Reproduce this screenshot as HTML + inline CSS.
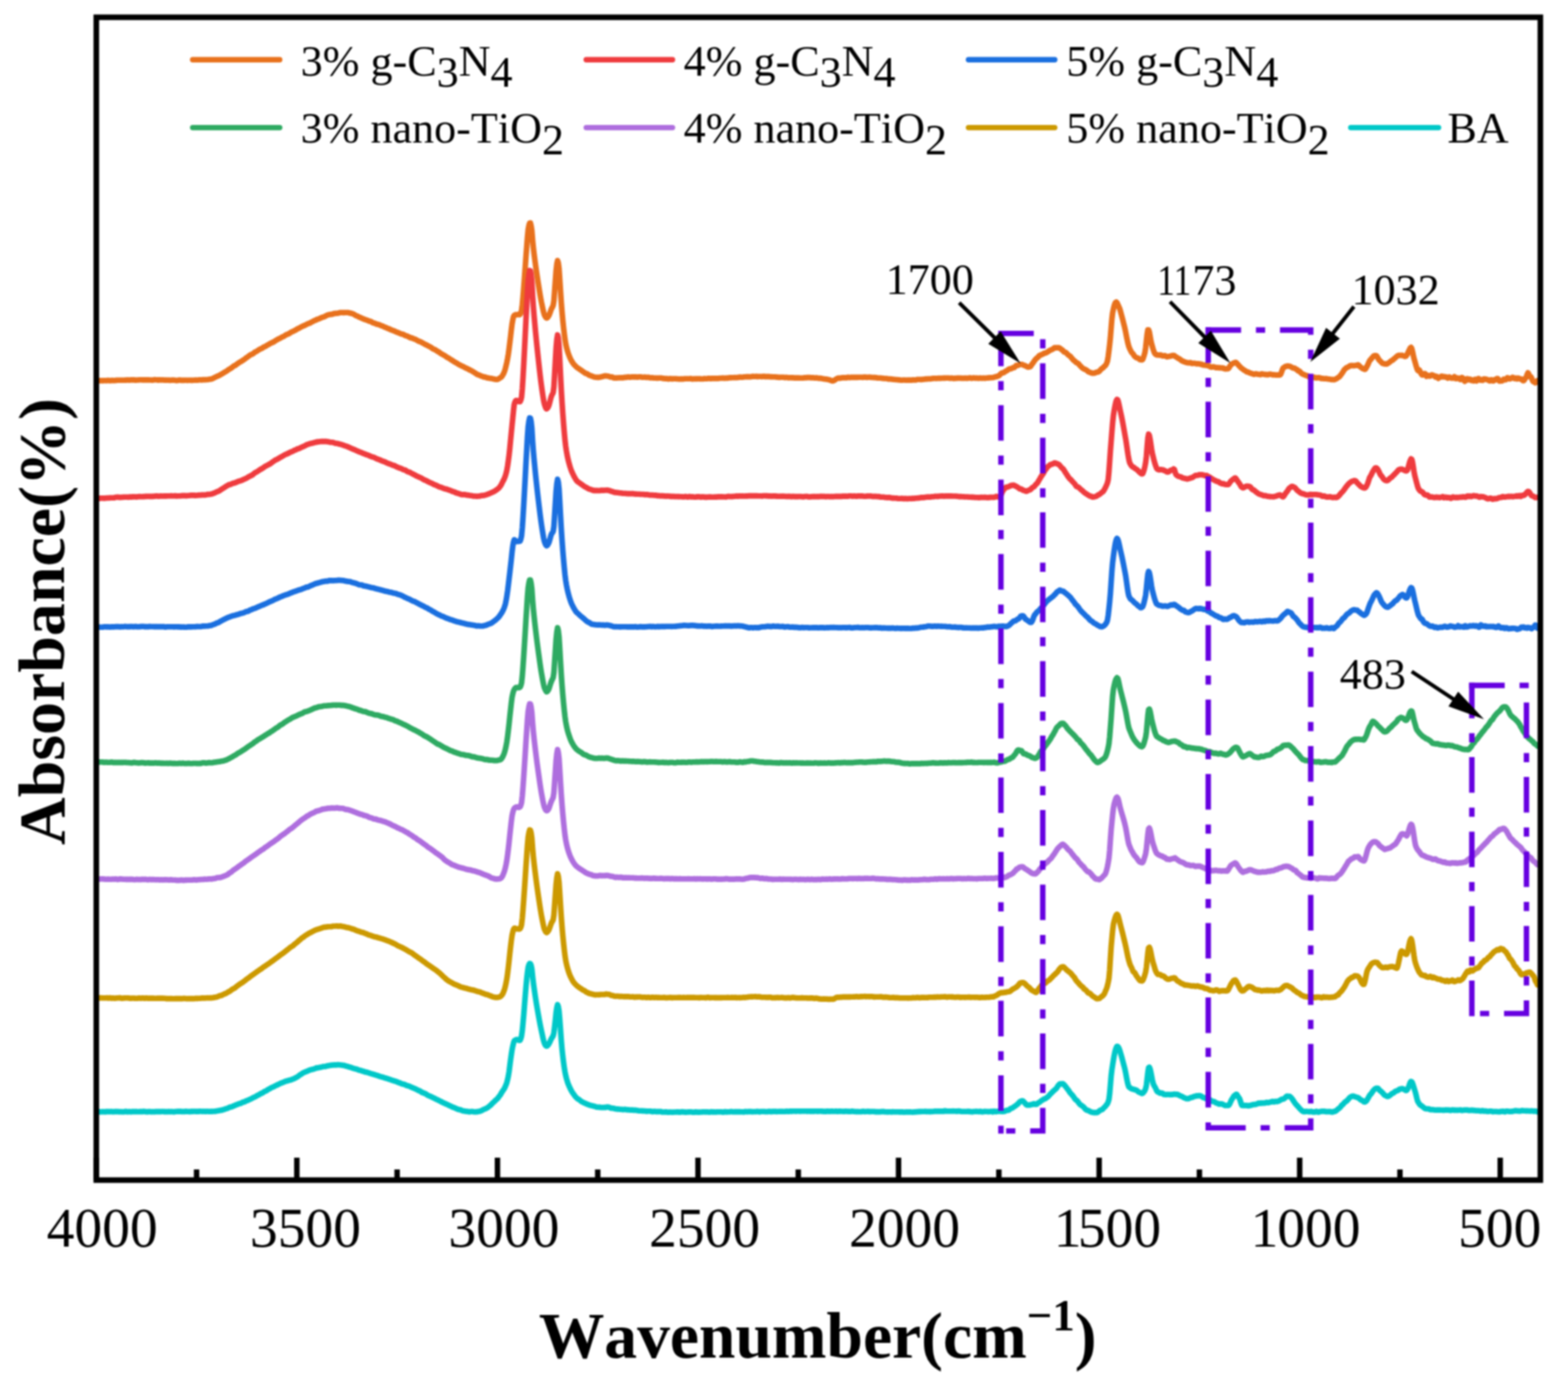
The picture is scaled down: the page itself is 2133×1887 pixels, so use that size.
<!DOCTYPE html>
<html lang="en"><head><meta charset="utf-8"><title>FTIR absorbance spectra</title>
<style>html,body{margin:0;padding:0;background:#fff;}body{width:2133px;height:1887px;overflow:hidden;}svg{display:block;}text{font-family:"Liberation Serif","Times New Roman",serif;fill:#000;font-kerning:none;font-variant-ligatures:none;white-space:pre;}.b{font-weight:bold;}</style></head><body>
<svg xmlns="http://www.w3.org/2000/svg" width="2133" height="1887" viewBox="0 0 2133 1887">
<rect x="0" y="0" width="2133" height="1887" fill="#ffffff"/>
<defs><filter id="soft" x="0" y="0" width="2133" height="1887" filterUnits="userSpaceOnUse" color-interpolation-filters="sRGB"><feGaussianBlur stdDeviation="0.80"/></filter></defs>
<g filter="url(#soft)">
<rect x="0" y="0" width="2133" height="1887" fill="#ffffff"/>
<defs><clipPath id="plot"><rect x="131.0" y="23.5" width="1964.4" height="1582.0"/></clipPath></defs>
<g clip-path="url(#plot)" fill="none" stroke-width="7.6" stroke-linejoin="round" stroke-linecap="round">
<path d="M131.0 518.2 L134.5 517.9 L135.5 517.8 L136.5 517.9 L137.5 518.0 L138.5 517.9 L139.5 518.0 L140.5 517.9 L141.5 517.7 L142.5 517.7 L143.5 517.8 L144.5 517.9 L145.5 517.8 L146.5 517.5 L147.5 517.5 L148.5 517.8 L149.5 517.9 L150.5 517.7 L151.5 517.6 L152.5 517.6 L153.5 517.6 L154.5 517.7 L155.5 517.7 L156.5 517.6 L157.5 517.5 L158.5 517.4 L159.5 517.3 L160.5 517.2 L161.5 517.2 L162.5 517.2 L163.5 517.2 L164.5 517.2 L165.5 517.2 L166.5 517.2 L167.5 517.2 L168.5 517.3 L169.5 517.2 L170.5 517.1 L171.5 517.1 L172.5 517.1 L173.5 516.9 L174.5 517.0 L175.5 517.1 L176.5 517.1 L177.5 516.9 L178.5 517.0 L179.5 516.9 L180.5 516.7 L181.5 516.7 L182.5 517.0 L183.5 517.1 L184.5 517.1 L185.5 517.1 L186.5 517.0 L187.5 517.0 L188.5 517.0 L189.5 516.8 L190.5 516.8 L191.5 516.8 L192.5 516.8 L193.5 516.9 L194.5 516.8 L195.5 516.9 L196.5 517.0 L197.5 516.8 L198.5 516.8 L199.5 516.9 L200.5 516.8 L201.5 516.7 L202.5 516.9 L203.5 517.0 L204.5 517.0 L205.5 517.0 L206.5 517.1 L207.5 517.1 L208.5 517.0 L209.5 516.8 L210.5 516.6 L211.5 516.7 L212.5 516.8 L213.5 516.8 L214.5 517.0 L215.5 517.2 L216.5 516.9 L217.5 516.8 L218.5 516.9 L219.5 517.0 L220.5 517.0 L221.5 516.9 L222.5 517.0 L223.5 517.1 L224.5 517.2 L225.5 517.1 L226.5 517.1 L227.5 517.2 L228.5 517.2 L229.5 517.1 L230.5 517.2 L231.5 517.4 L232.5 517.3 L233.5 517.2 L234.5 517.0 L235.5 517.1 L236.5 517.3 L237.5 517.3 L238.5 517.4 L239.5 517.6 L240.5 517.7 L241.5 517.5 L242.5 517.4 L243.5 517.1 L244.5 517.0 L245.5 517.3 L246.5 517.4 L247.5 517.4 L248.5 517.4 L249.5 517.4 L250.5 517.4 L251.5 517.3 L252.5 517.2 L253.5 517.3 L254.5 517.5 L255.5 517.5 L256.5 517.3 L257.5 517.2 L258.5 517.3 L259.5 517.4 L260.5 517.5 L261.5 517.4 L262.5 517.2 L263.5 517.3 L264.5 517.2 L265.5 517.1 L266.5 517.1 L267.5 517.3 L268.5 517.3 L269.5 517.1 L270.5 516.9 L271.5 516.8 L272.5 516.8 L273.5 516.9 L274.5 516.9 L275.5 516.7 L276.5 516.5 L277.5 516.6 L278.5 516.7 L279.5 516.6 L280.5 516.5 L281.5 516.5 L282.5 516.5 L283.5 516.3 L284.5 516.1 L285.5 515.9 L286.5 515.7 L287.5 515.6 L288.5 515.4 L289.5 514.9 L290.5 514.3 L291.5 513.8 L292.5 513.4 L293.5 512.9 L294.5 512.4 L295.5 511.9 L296.5 511.5 L297.5 511.2 L298.5 510.7 L299.5 510.1 L300.5 509.4 L301.5 508.9 L302.5 508.3 L303.5 507.7 L304.5 507.1 L305.5 506.4 L306.5 505.8 L307.5 505.3 L308.5 504.7 L309.5 504.0 L310.5 503.2 L311.5 502.5 L312.5 501.9 L313.5 501.4 L314.5 500.8 L315.5 500.0 L316.5 499.2 L317.5 498.4 L318.5 497.7 L319.5 497.4 L320.5 496.8 L321.5 496.0 L322.5 495.2 L323.5 494.6 L324.5 493.8 L325.5 493.1 L326.5 492.6 L327.5 492.0 L328.5 491.4 L329.5 490.8 L330.5 490.1 L331.5 489.4 L332.5 488.9 L333.5 488.1 L334.5 487.1 L335.5 486.5 L336.5 485.9 L337.5 485.1 L338.5 484.3 L339.5 483.6 L340.5 482.9 L341.5 482.4 L342.5 482.0 L343.5 481.6 L344.5 481.0 L345.5 480.1 L346.5 479.2 L347.5 478.7 L348.5 478.3 L349.5 477.7 L350.5 477.0 L351.5 476.3 L352.5 475.7 L353.5 475.1 L354.5 474.6 L355.5 474.2 L356.5 473.8 L357.5 473.1 L358.5 472.3 L359.5 471.9 L360.5 471.5 L361.5 470.9 L362.5 470.3 L363.5 469.7 L364.5 469.2 L365.5 468.7 L366.5 467.9 L367.5 467.4 L368.5 466.9 L369.5 466.4 L370.5 466.0 L371.5 465.5 L372.5 465.0 L373.5 464.4 L374.5 463.7 L375.5 463.0 L376.5 462.4 L377.5 461.8 L378.5 461.4 L379.5 460.9 L380.5 460.3 L381.5 459.8 L382.5 459.3 L383.5 458.7 L384.5 458.2 L385.5 457.9 L386.5 457.4 L387.5 456.6 L388.5 455.9 L389.5 455.4 L390.5 455.0 L391.5 454.6 L392.5 454.1 L393.5 453.7 L394.5 453.1 L395.5 452.3 L396.5 451.7 L397.5 451.3 L398.5 450.8 L399.5 450.3 L400.5 449.8 L401.5 449.4 L402.5 448.9 L403.5 448.2 L404.5 447.4 L405.5 446.9 L406.5 446.7 L407.5 446.1 L408.5 445.5 L409.5 444.9 L410.5 444.4 L411.5 443.9 L412.5 443.5 L413.5 443.0 L414.5 442.6 L415.5 442.2 L416.5 441.7 L417.5 441.2 L418.5 440.7 L419.5 440.2 L420.5 439.8 L421.5 439.5 L422.5 439.0 L423.5 438.4 L424.5 437.9 L425.5 437.4 L426.5 436.9 L427.5 436.2 L428.5 435.8 L429.5 435.5 L430.5 435.0 L431.5 434.5 L432.5 434.2 L433.5 433.9 L434.5 433.5 L435.5 432.9 L436.5 432.5 L437.5 432.2 L438.5 431.7 L439.5 431.4 L440.5 431.1 L441.5 430.7 L442.5 430.1 L443.5 429.7 L444.5 429.2 L445.5 428.7 L446.5 428.4 L447.5 428.1 L448.5 427.9 L449.5 427.7 L450.5 427.6 L451.5 427.6 L452.5 427.3 L453.5 426.8 L454.5 426.6 L455.5 426.5 L456.5 426.4 L457.5 426.3 L458.5 426.2 L459.5 426.1 L460.5 425.9 L461.5 425.6 L462.5 425.2 L463.5 425.2 L464.5 425.2 L465.5 425.2 L466.5 425.2 L467.5 425.4 L468.5 425.3 L469.5 425.3 L470.5 425.3 L471.5 425.3 L472.5 425.2 L473.5 425.3 L474.5 425.5 L475.5 425.9 L476.5 426.2 L477.5 426.1 L478.5 426.4 L479.5 426.9 L480.5 427.2 L481.5 427.7 L482.5 428.3 L483.5 428.9 L484.5 429.5 L485.5 429.9 L486.5 430.2 L487.5 430.8 L488.5 431.4 L489.5 431.7 L490.5 432.1 L491.5 432.7 L492.5 433.2 L493.5 433.5 L494.5 433.8 L495.5 434.4 L496.5 434.8 L497.5 435.0 L498.5 435.4 L499.5 435.7 L500.5 436.1 L501.5 436.6 L502.5 437.0 L503.5 437.1 L504.5 437.4 L505.5 438.1 L506.5 438.7 L507.5 439.1 L508.5 439.5 L509.5 439.7 L510.5 440.1 L511.5 440.6 L512.5 441.1 L513.5 441.3 L514.5 441.4 L515.5 441.7 L516.5 442.1 L517.5 442.5 L518.5 443.1 L519.5 443.4 L520.5 443.7 L521.5 444.2 L522.5 444.7 L523.5 445.1 L524.5 445.4 L525.5 445.8 L526.5 446.3 L527.5 446.8 L528.5 447.2 L529.5 447.5 L530.5 448.0 L531.5 448.5 L532.5 448.9 L533.5 449.3 L534.5 449.6 L535.5 450.0 L536.5 450.4 L537.5 450.8 L538.5 451.3 L539.5 451.8 L540.5 452.2 L541.5 452.5 L542.5 452.8 L543.5 453.3 L544.5 453.8 L545.5 454.2 L546.5 454.4 L547.5 454.7 L548.5 455.0 L549.5 455.4 L550.5 456.1 L551.5 456.6 L552.5 456.8 L553.5 457.1 L554.5 457.5 L555.5 458.1 L556.5 458.5 L557.5 459.0 L558.5 459.5 L559.5 459.8 L560.5 459.9 L561.5 460.3 L562.5 460.8 L563.5 461.1 L564.5 461.5 L565.5 461.9 L566.5 462.5 L567.5 463.1 L568.5 463.6 L569.5 464.2 L570.5 464.6 L571.5 464.8 L572.5 465.2 L573.5 465.9 L574.5 466.3 L575.5 466.8 L576.5 467.5 L577.5 468.1 L578.5 468.6 L579.5 469.0 L580.5 469.5 L581.5 470.1 L582.5 470.7 L583.5 471.2 L584.5 471.7 L585.5 472.2 L586.5 472.7 L587.5 473.5 L588.5 474.3 L589.5 474.8 L590.5 475.2 L591.5 475.6 L592.5 476.2 L593.5 476.8 L594.5 477.6 L595.5 478.2 L596.5 478.6 L597.5 479.2 L598.5 480.0 L599.5 480.9 L600.5 481.4 L601.5 481.9 L602.5 482.5 L603.5 483.1 L604.5 483.6 L605.5 484.1 L606.5 484.9 L607.5 485.8 L608.5 486.3 L609.5 486.7 L610.5 487.3 L611.5 488.0 L612.5 488.7 L613.5 489.3 L614.5 490.0 L615.5 490.5 L616.5 491.2 L617.5 491.9 L618.5 492.5 L619.5 493.1 L620.5 493.6 L621.5 494.1 L622.5 494.8 L623.5 495.5 L624.5 496.1 L625.5 496.6 L626.5 497.0 L627.5 497.6 L628.5 498.1 L629.5 498.4 L630.5 498.9 L631.5 499.5 L632.5 500.1 L633.5 500.6 L634.5 501.0 L635.5 501.4 L636.5 501.9 L637.5 502.5 L638.5 503.0 L639.5 503.5 L640.5 503.8 L641.5 504.5 L642.5 505.2 L643.5 505.7 L644.5 506.3 L645.5 506.9 L646.5 507.5 L647.5 508.3 L648.5 509.0 L649.5 509.5 L650.5 509.9 L651.5 510.1 L652.5 510.6 L653.5 511.1 L654.5 511.5 L655.5 511.9 L656.5 512.2 L657.5 512.7 L658.5 512.9 L659.5 512.9 L660.5 513.2 L661.5 513.7 L662.5 514.0 L663.5 514.1 L664.5 514.3 L665.5 514.5 L666.5 514.7 L667.5 514.8 L668.5 514.9 L669.5 515.1 L670.5 515.4 L671.5 515.6 L672.5 515.7 L673.5 516.0 L674.5 516.2 L675.5 516.2 L676.5 516.2 L677.5 515.8 L678.5 515.4 L679.5 514.6 L680.5 513.9 L681.5 513.4 L682.5 512.5 L683.5 511.0 L684.5 509.2 L685.5 507.2 L686.5 504.6 L687.5 501.2 L688.5 497.1 L689.5 492.8 L690.5 487.7 L691.5 481.8 L692.5 474.6 L693.5 466.3 L694.5 458.1 L695.5 449.3 L696.5 441.2 L697.5 435.5 L698.5 430.9 L699.5 429.2 L700.5 428.5 L701.5 428.1 L702.5 428.2 L703.5 428.2 L704.5 427.9 L705.5 427.8 L706.5 428.1 L707.5 427.8 L708.5 425.6 L709.5 422.5 L710.5 414.4 L711.5 403.3 L712.5 390.8 L713.5 377.3 L714.5 363.4 L715.5 349.1 L716.5 335.9 L717.5 322.7 L718.5 312.3 L719.5 306.9 L720.5 303.5 L721.5 303.4 L722.5 307.2 L723.5 313.9 L724.5 326.5 L725.5 336.7 L726.5 345.2 L727.5 353.0 L728.5 360.5 L729.5 367.6 L730.5 374.4 L731.5 381.0 L732.5 387.4 L733.5 393.7 L734.5 399.8 L735.5 405.6 L736.5 411.0 L737.5 415.8 L738.5 420.5 L739.5 424.8 L740.5 428.2 L741.5 430.2 L742.5 431.9 L743.5 432.6 L744.5 432.3 L745.5 431.1 L746.5 429.6 L747.5 427.5 L748.5 424.9 L749.5 421.9 L750.5 419.4 L751.5 417.8 L752.5 415.4 L753.5 409.0 L754.5 395.2 L755.5 381.5 L756.5 367.9 L757.5 359.1 L758.5 354.5 L759.5 357.8 L760.5 365.6 L761.5 380.2 L762.5 396.0 L763.5 410.7 L764.5 423.5 L765.5 434.8 L766.5 444.6 L767.5 453.3 L768.5 461.2 L769.5 467.4 L770.5 472.0 L771.5 475.9 L772.5 479.2 L773.5 482.0 L774.5 484.6 L775.5 487.0 L776.5 489.2 L777.5 491.1 L778.5 492.7 L779.5 494.2 L780.5 495.5 L781.5 496.6 L782.5 497.5 L783.5 498.6 L784.5 499.6 L785.5 500.3 L786.5 501.0 L787.5 501.7 L788.5 502.4 L789.5 503.1 L790.5 503.7 L791.5 504.4 L792.5 505.2 L793.5 505.8 L794.5 506.5 L795.5 507.3 L796.5 507.9 L797.5 508.2 L798.5 508.5 L799.5 509.1 L800.5 509.8 L801.5 510.4 L802.5 510.8 L803.5 511.1 L804.5 511.5 L805.5 511.8 L806.5 512.2 L807.5 512.6 L808.5 512.9 L809.5 513.1 L810.5 513.2 L811.5 513.3 L812.5 513.4 L813.5 513.4 L814.5 513.4 L815.5 513.3 L816.5 513.1 L817.5 512.8 L818.5 512.6 L819.5 512.3 L820.5 512.0 L821.5 511.8 L822.5 511.5 L823.5 511.4 L824.5 511.5 L825.5 511.6 L826.5 511.7 L827.5 511.8 L828.5 512.1 L829.5 512.6 L830.5 513.0 L831.5 513.0 L832.5 512.9 L833.5 513.3 L834.5 513.9 L835.5 514.3 L836.5 514.2 L837.5 514.1 L838.5 514.2 L839.5 514.1 L840.5 514.0 L841.5 514.0 L842.5 513.9 L843.5 514.0 L844.5 514.0 L845.5 513.8 L846.5 513.8 L847.5 513.9 L848.5 513.7 L849.5 513.4 L850.5 513.4 L851.5 513.4 L852.5 513.2 L853.5 513.0 L854.5 512.9 L855.5 513.0 L856.5 513.2 L857.5 513.1 L858.5 513.0 L859.5 512.9 L860.5 512.8 L861.5 512.7 L862.5 513.0 L863.5 512.9 L864.5 512.8 L865.5 512.9 L866.5 513.1 L867.5 513.0 L868.5 512.9 L869.5 512.8 L870.5 512.7 L871.5 512.8 L872.5 513.0 L873.5 513.2 L874.5 513.2 L875.5 513.2 L876.5 513.1 L877.5 513.1 L878.5 513.2 L879.5 513.4 L880.5 513.5 L881.5 513.4 L882.5 513.4 L883.5 513.7 L884.5 513.9 L885.5 514.0 L886.5 514.0 L887.5 513.9 L888.5 514.2 L889.5 514.3 L890.5 514.2 L891.5 514.2 L892.5 514.3 L893.5 514.5 L894.5 514.5 L895.5 514.3 L896.5 514.3 L897.5 514.3 L898.5 514.2 L899.5 514.3 L900.5 514.5 L901.5 514.7 L902.5 514.9 L903.5 514.9 L904.5 515.2 L905.5 515.3 L906.5 515.1 L907.5 515.1 L908.5 515.5 L909.5 515.6 L910.5 515.3 L911.5 515.1 L912.5 515.2 L913.5 515.4 L914.5 515.4 L915.5 515.4 L916.5 515.3 L917.5 515.3 L918.5 515.2 L919.5 515.2 L920.5 515.5 L921.5 515.5 L922.5 515.5 L923.5 515.7 L924.5 515.7 L925.5 515.6 L926.5 515.6 L927.5 515.6 L928.5 515.6 L929.5 515.6 L930.5 515.4 L931.5 515.2 L932.5 515.2 L933.5 515.2 L934.5 515.2 L935.5 515.3 L936.5 515.2 L937.5 515.3 L938.5 515.3 L939.5 515.1 L940.5 515.3 L941.5 515.6 L942.5 515.6 L943.5 515.4 L944.5 515.5 L945.5 515.5 L946.5 515.3 L947.5 515.2 L948.5 515.4 L949.5 515.3 L950.5 515.3 L951.5 515.4 L952.5 515.4 L953.5 515.5 L954.5 515.5 L955.5 515.5 L956.5 515.5 L957.5 515.3 L958.5 515.1 L959.5 515.2 L960.5 515.2 L961.5 515.2 L962.5 515.0 L963.5 514.8 L964.5 514.8 L965.5 514.9 L966.5 515.2 L967.5 515.0 L968.5 514.7 L969.5 514.7 L970.5 514.9 L971.5 514.9 L972.5 514.9 L973.5 514.7 L974.5 514.7 L975.5 514.9 L976.5 514.9 L977.5 514.7 L978.5 514.6 L979.5 514.5 L980.5 514.5 L981.5 514.5 L982.5 514.4 L983.5 514.3 L984.5 514.4 L985.5 514.6 L986.5 514.5 L987.5 514.4 L988.5 514.4 L989.5 514.4 L990.5 514.2 L991.5 514.0 L992.5 513.9 L993.5 513.9 L994.5 513.9 L995.5 513.8 L996.5 513.7 L997.5 513.8 L998.5 513.7 L999.5 513.6 L1000.5 513.7 L1001.5 513.7 L1002.5 513.6 L1003.5 513.5 L1004.5 513.4 L1005.5 513.2 L1006.5 513.0 L1007.5 513.1 L1008.5 513.2 L1009.5 513.2 L1010.5 513.1 L1011.5 512.9 L1012.5 512.7 L1013.5 512.8 L1014.5 512.7 L1015.5 512.6 L1016.5 512.6 L1017.5 512.6 L1018.5 512.6 L1019.5 512.7 L1020.5 512.8 L1021.5 512.6 L1022.5 512.4 L1023.5 512.3 L1024.5 512.1 L1025.5 512.2 L1026.5 512.2 L1027.5 512.2 L1028.5 512.1 L1029.5 512.3 L1030.5 512.5 L1031.5 512.3 L1032.5 512.3 L1033.5 512.3 L1034.5 512.2 L1035.5 512.2 L1036.5 512.4 L1037.5 512.3 L1038.5 512.0 L1039.5 512.1 L1040.5 512.5 L1041.5 512.4 L1042.5 512.2 L1043.5 512.3 L1044.5 512.5 L1045.5 512.4 L1046.5 512.4 L1047.5 512.7 L1048.5 512.7 L1049.5 512.6 L1050.5 512.7 L1051.5 512.7 L1052.5 512.7 L1053.5 512.7 L1054.5 512.7 L1055.5 512.9 L1056.5 513.1 L1057.5 513.1 L1058.5 513.3 L1059.5 513.4 L1060.5 513.4 L1061.5 513.3 L1062.5 513.3 L1063.5 513.3 L1064.5 513.2 L1065.5 513.3 L1066.5 513.4 L1067.5 513.6 L1068.5 513.6 L1069.5 513.4 L1070.5 513.6 L1071.5 513.8 L1072.5 513.9 L1073.5 513.9 L1074.5 513.8 L1075.5 513.8 L1076.5 513.9 L1077.5 513.8 L1078.5 513.8 L1079.5 514.0 L1080.5 514.1 L1081.5 514.1 L1082.5 514.1 L1083.5 514.1 L1084.5 514.2 L1085.5 514.1 L1086.5 514.1 L1087.5 514.2 L1088.5 514.2 L1089.5 514.2 L1090.5 514.3 L1091.5 514.3 L1092.5 514.2 L1093.5 514.0 L1094.5 513.9 L1095.5 513.9 L1096.5 514.0 L1097.5 513.8 L1098.5 513.6 L1099.5 513.6 L1100.5 513.7 L1101.5 513.6 L1102.5 513.7 L1103.5 513.9 L1104.5 513.9 L1105.5 513.8 L1106.5 513.9 L1107.5 514.1 L1108.5 514.2 L1109.5 514.1 L1110.5 514.0 L1111.5 514.1 L1112.5 514.4 L1113.5 514.6 L1114.5 514.6 L1115.5 514.6 L1116.5 514.6 L1117.5 514.9 L1118.5 515.1 L1119.5 515.2 L1120.5 515.4 L1121.5 515.7 L1122.5 515.8 L1123.5 515.9 L1124.5 515.9 L1125.5 516.1 L1126.5 516.4 L1127.5 516.6 L1128.5 516.9 L1129.5 517.3 L1130.5 517.7 L1131.5 518.0 L1132.5 518.2 L1133.5 518.2 L1134.5 517.7 L1135.5 517.1 L1136.5 516.4 L1137.5 515.6 L1138.5 515.1 L1139.5 514.6 L1140.5 514.3 L1141.5 514.5 L1142.5 514.6 L1143.5 514.3 L1144.5 514.1 L1145.5 514.0 L1146.5 513.8 L1147.5 513.9 L1148.5 514.0 L1149.5 513.9 L1150.5 514.0 L1151.5 514.0 L1152.5 513.5 L1153.5 513.3 L1154.5 513.5 L1155.5 513.6 L1156.5 513.6 L1157.5 513.3 L1158.5 513.2 L1159.5 513.4 L1160.5 513.5 L1161.5 513.3 L1162.5 513.3 L1163.5 513.4 L1164.5 513.3 L1165.5 513.2 L1166.5 513.4 L1167.5 513.3 L1168.5 513.2 L1169.5 513.2 L1170.5 513.3 L1171.5 513.2 L1172.5 513.3 L1173.5 513.4 L1174.5 513.3 L1175.5 513.0 L1176.5 513.0 L1177.5 513.1 L1178.5 513.2 L1179.5 513.4 L1180.5 513.3 L1181.5 513.2 L1182.5 513.1 L1183.5 513.2 L1184.5 513.3 L1185.5 513.5 L1186.5 513.5 L1187.5 513.5 L1188.5 513.6 L1189.5 513.5 L1190.5 513.6 L1191.5 513.7 L1192.5 514.0 L1193.5 514.1 L1194.5 514.2 L1195.5 514.2 L1196.5 514.2 L1197.5 514.3 L1198.5 514.4 L1199.5 514.6 L1200.5 514.6 L1201.5 514.7 L1202.5 514.9 L1203.5 515.0 L1204.5 515.0 L1205.5 515.0 L1206.5 515.1 L1207.5 515.2 L1208.5 515.6 L1209.5 515.6 L1210.5 515.5 L1211.5 515.6 L1212.5 515.9 L1213.5 515.9 L1214.5 516.0 L1215.5 516.3 L1216.5 516.3 L1217.5 516.4 L1218.5 516.5 L1219.5 516.5 L1220.5 516.6 L1221.5 516.8 L1222.5 516.9 L1223.5 516.9 L1224.5 517.0 L1225.5 517.2 L1226.5 517.3 L1227.5 517.2 L1228.5 517.0 L1229.5 517.0 L1230.5 517.0 L1231.5 517.1 L1232.5 517.2 L1233.5 517.2 L1234.5 517.1 L1235.5 517.1 L1236.5 517.1 L1237.5 517.1 L1238.5 517.1 L1239.5 517.3 L1240.5 517.2 L1241.5 516.9 L1242.5 516.9 L1243.5 517.0 L1244.5 517.0 L1245.5 516.9 L1246.5 516.7 L1247.5 516.4 L1248.5 516.3 L1249.5 516.2 L1250.5 516.2 L1251.5 516.3 L1252.5 516.4 L1253.5 516.4 L1254.5 516.3 L1255.5 516.1 L1256.5 516.0 L1257.5 516.0 L1258.5 515.8 L1259.5 515.5 L1260.5 515.6 L1261.5 515.6 L1262.5 515.4 L1263.5 515.5 L1264.5 515.5 L1265.5 515.4 L1266.5 515.2 L1267.5 515.1 L1268.5 514.9 L1269.5 514.9 L1270.5 514.8 L1271.5 514.8 L1272.5 514.8 L1273.5 514.9 L1274.5 514.8 L1275.5 514.7 L1276.5 514.6 L1277.5 514.6 L1278.5 514.7 L1279.5 514.6 L1280.5 514.5 L1281.5 514.5 L1282.5 514.5 L1283.5 514.4 L1284.5 514.4 L1285.5 514.4 L1286.5 514.3 L1287.5 514.2 L1288.5 514.3 L1289.5 514.3 L1290.5 514.3 L1291.5 514.5 L1292.5 514.6 L1293.5 514.5 L1294.5 514.4 L1295.5 514.5 L1296.5 514.8 L1297.5 514.9 L1298.5 514.7 L1299.5 514.5 L1300.5 514.5 L1301.5 514.6 L1302.5 514.4 L1303.5 514.3 L1304.5 514.5 L1305.5 514.5 L1306.5 514.4 L1307.5 514.5 L1308.5 514.6 L1309.5 514.5 L1310.5 514.5 L1311.5 514.6 L1312.5 514.5 L1313.5 514.4 L1314.5 514.6 L1315.5 514.6 L1316.5 514.5 L1317.5 514.4 L1318.5 514.3 L1319.5 514.1 L1320.5 514.3 L1321.5 514.6 L1322.5 514.5 L1323.5 514.3 L1324.5 514.1 L1325.5 514.2 L1326.5 514.4 L1327.5 514.5 L1328.5 514.3 L1329.5 514.4 L1330.5 514.6 L1331.5 514.6 L1332.5 514.3 L1333.5 514.2 L1334.5 514.4 L1335.5 514.6 L1336.5 514.5 L1337.5 514.4 L1338.5 514.4 L1339.5 514.6 L1340.5 514.5 L1341.5 514.3 L1342.5 514.3 L1343.5 514.3 L1344.5 514.0 L1345.5 513.9 L1346.5 514.0 L1347.5 513.9 L1348.5 513.8 L1349.5 513.8 L1350.5 513.8 L1351.5 513.4 L1352.5 513.1 L1353.5 512.7 L1354.5 512.5 L1355.5 512.4 L1356.5 512.0 L1357.5 511.7 L1358.5 511.4 L1359.5 510.6 L1360.5 509.5 L1361.5 508.4 L1362.5 507.6 L1363.5 507.3 L1364.5 507.2 L1365.5 506.8 L1366.5 506.1 L1367.5 505.4 L1368.5 504.9 L1369.5 504.3 L1370.5 503.7 L1371.5 502.9 L1372.5 502.2 L1373.5 501.8 L1374.5 501.8 L1375.5 501.7 L1376.5 501.0 L1377.5 500.4 L1378.5 500.3 L1379.5 500.1 L1380.5 499.4 L1381.5 498.2 L1382.5 497.2 L1383.5 497.0 L1384.5 497.1 L1385.5 496.8 L1386.5 496.2 L1387.5 495.8 L1388.5 495.7 L1389.5 495.8 L1390.5 495.9 L1391.5 496.4 L1392.5 496.9 L1393.5 497.2 L1394.5 497.5 L1395.5 498.2 L1396.5 498.7 L1397.5 499.0 L1398.5 499.4 L1399.5 499.3 L1400.5 499.2 L1401.5 498.9 L1402.5 497.6 L1403.5 496.0 L1404.5 494.8 L1405.5 493.4 L1406.5 491.9 L1407.5 490.4 L1408.5 489.1 L1409.5 488.0 L1410.5 487.1 L1411.5 486.5 L1412.5 485.4 L1413.5 484.1 L1414.5 483.5 L1415.5 483.1 L1416.5 482.6 L1417.5 482.2 L1418.5 481.8 L1419.5 481.2 L1420.5 480.6 L1421.5 480.4 L1422.5 480.1 L1423.5 479.6 L1424.5 479.2 L1425.5 478.5 L1426.5 477.7 L1427.5 477.1 L1428.5 476.7 L1429.5 476.2 L1430.5 475.7 L1431.5 475.3 L1432.5 474.7 L1433.5 473.7 L1434.5 473.1 L1435.5 473.0 L1436.5 473.1 L1437.5 473.1 L1438.5 473.1 L1439.5 473.0 L1440.5 473.1 L1441.5 473.6 L1442.5 474.2 L1443.5 475.1 L1444.5 476.0 L1445.5 476.5 L1446.5 477.6 L1447.5 478.8 L1448.5 479.1 L1449.5 479.4 L1450.5 480.1 L1451.5 481.1 L1452.5 482.3 L1453.5 483.1 L1454.5 483.8 L1455.5 484.5 L1456.5 485.3 L1457.5 486.8 L1458.5 487.9 L1459.5 489.0 L1460.5 490.2 L1461.5 490.9 L1462.5 491.6 L1463.5 492.7 L1464.5 493.5 L1465.5 493.9 L1466.5 494.4 L1467.5 495.3 L1468.5 496.6 L1469.5 497.7 L1470.5 498.6 L1471.5 499.8 L1472.5 500.7 L1473.5 501.3 L1474.5 501.8 L1475.5 502.4 L1476.5 502.7 L1477.5 503.3 L1478.5 503.9 L1479.5 504.7 L1480.5 505.7 L1481.5 506.2 L1482.5 506.4 L1483.5 506.9 L1484.5 507.3 L1485.5 507.6 L1486.5 507.7 L1487.5 507.6 L1488.5 507.6 L1489.5 507.4 L1490.5 506.9 L1491.5 506.5 L1492.5 506.3 L1493.5 506.0 L1494.5 505.9 L1495.5 505.1 L1496.5 503.8 L1497.5 502.7 L1498.5 501.7 L1499.5 501.0 L1500.5 500.4 L1501.5 499.3 L1502.5 498.3 L1503.5 497.5 L1504.5 496.1 L1505.5 494.1 L1506.5 491.0 L1507.5 485.1 L1508.5 477.2 L1509.5 468.8 L1510.5 459.0 L1511.5 446.4 L1512.5 434.3 L1513.5 425.8 L1514.5 421.0 L1515.5 416.6 L1516.5 413.5 L1517.5 411.5 L1518.5 410.9 L1519.5 411.9 L1520.5 414.1 L1521.5 416.2 L1522.5 418.3 L1523.5 420.9 L1524.5 424.6 L1525.5 428.2 L1526.5 431.9 L1527.5 435.8 L1528.5 439.8 L1529.5 443.7 L1530.5 448.1 L1531.5 453.0 L1532.5 458.2 L1533.5 463.1 L1534.5 467.6 L1535.5 471.2 L1536.5 473.8 L1537.5 475.9 L1538.5 477.8 L1539.5 479.6 L1540.5 480.6 L1541.5 481.6 L1542.5 483.5 L1543.5 484.8 L1544.5 485.5 L1545.5 486.4 L1546.5 486.9 L1547.5 487.0 L1548.5 487.4 L1549.5 488.2 L1550.5 489.1 L1551.5 489.5 L1552.5 489.4 L1553.5 489.6 L1554.5 488.9 L1555.5 486.2 L1556.5 483.1 L1557.5 479.5 L1558.5 472.7 L1559.5 463.3 L1560.5 454.4 L1561.5 448.7 L1562.5 448.8 L1563.5 451.8 L1564.5 457.3 L1565.5 463.1 L1566.5 467.6 L1567.5 471.1 L1568.5 474.6 L1569.5 477.7 L1570.5 480.2 L1571.5 481.6 L1572.5 482.3 L1573.5 483.0 L1574.5 483.0 L1575.5 482.9 L1576.5 483.1 L1577.5 483.1 L1578.5 482.9 L1579.5 483.2 L1580.5 483.9 L1581.5 484.2 L1582.5 484.2 L1583.5 484.0 L1584.5 483.9 L1585.5 484.3 L1586.5 485.0 L1587.5 485.4 L1588.5 485.3 L1589.5 484.8 L1590.5 484.8 L1591.5 484.8 L1592.5 484.3 L1593.5 484.0 L1594.5 483.9 L1595.5 483.6 L1596.5 483.5 L1597.5 483.9 L1598.5 484.8 L1599.5 485.5 L1600.5 485.9 L1601.5 486.6 L1602.5 487.4 L1603.5 487.9 L1604.5 488.3 L1605.5 488.9 L1606.5 489.9 L1607.5 490.8 L1608.5 491.2 L1609.5 491.5 L1610.5 492.0 L1611.5 492.4 L1612.5 492.7 L1613.5 493.2 L1614.5 493.3 L1615.5 493.5 L1616.5 493.6 L1617.5 493.6 L1618.5 493.5 L1619.5 493.4 L1620.5 493.9 L1621.5 494.5 L1622.5 494.4 L1623.5 494.3 L1624.5 494.2 L1625.5 494.3 L1626.5 494.6 L1627.5 494.9 L1628.5 495.0 L1629.5 494.9 L1630.5 494.9 L1631.5 495.1 L1632.5 495.3 L1633.5 495.7 L1634.5 495.6 L1635.5 496.0 L1636.5 496.7 L1637.5 496.7 L1638.5 496.6 L1639.5 496.9 L1640.5 497.0 L1641.5 497.2 L1642.5 497.3 L1643.5 497.5 L1644.5 498.0 L1645.5 498.6 L1646.5 499.1 L1647.5 499.4 L1648.5 499.4 L1649.5 499.1 L1650.5 499.1 L1651.5 499.2 L1652.5 499.4 L1653.5 500.0 L1654.5 500.2 L1655.5 500.1 L1656.5 500.1 L1657.5 500.2 L1658.5 500.4 L1659.5 500.4 L1660.5 500.4 L1661.5 500.6 L1662.5 500.6 L1663.5 500.6 L1664.5 501.0 L1665.5 501.5 L1666.5 501.8 L1667.5 501.9 L1668.5 501.8 L1669.5 501.8 L1670.5 501.8 L1671.5 500.9 L1672.5 499.2 L1673.5 497.5 L1674.5 496.4 L1675.5 495.6 L1676.5 494.9 L1677.5 494.2 L1678.5 493.8 L1679.5 493.5 L1680.5 493.1 L1681.5 493.3 L1682.5 494.2 L1683.5 495.3 L1684.5 496.5 L1685.5 497.6 L1686.5 498.5 L1687.5 499.7 L1688.5 500.6 L1689.5 501.3 L1690.5 502.0 L1691.5 502.9 L1692.5 503.6 L1693.5 504.1 L1694.5 504.7 L1695.5 505.5 L1696.5 506.0 L1697.5 506.0 L1698.5 506.5 L1699.5 507.1 L1700.5 507.5 L1701.5 507.7 L1702.5 508.1 L1703.5 508.5 L1704.5 508.7 L1705.5 509.1 L1706.5 509.1 L1707.5 508.8 L1708.5 508.5 L1709.5 508.7 L1710.5 509.2 L1711.5 509.2 L1712.5 509.2 L1713.5 509.5 L1714.5 509.6 L1715.5 509.2 L1716.5 508.6 L1717.5 508.7 L1718.5 509.2 L1719.5 509.3 L1720.5 509.4 L1721.5 509.7 L1722.5 509.4 L1723.5 509.6 L1724.5 509.9 L1725.5 509.6 L1726.5 509.1 L1727.5 509.1 L1728.5 509.3 L1729.5 509.3 L1730.5 509.7 L1731.5 510.0 L1732.5 509.9 L1733.5 509.9 L1734.5 510.1 L1735.5 510.3 L1736.5 510.2 L1737.5 510.0 L1738.5 510.2 L1739.5 510.3 L1740.5 510.1 L1741.5 510.0 L1742.5 508.4 L1743.5 505.7 L1744.5 502.8 L1745.5 500.8 L1746.5 500.0 L1747.5 499.3 L1748.5 498.6 L1749.5 498.5 L1750.5 498.2 L1751.5 497.9 L1752.5 498.1 L1753.5 498.3 L1754.5 498.3 L1755.5 498.7 L1756.5 499.3 L1757.5 500.0 L1758.5 500.6 L1759.5 500.6 L1760.5 500.7 L1761.5 501.1 L1762.5 501.9 L1763.5 502.5 L1764.5 502.9 L1765.5 504.3 L1766.5 505.0 L1767.5 504.9 L1768.5 505.6 L1769.5 507.0 L1770.5 507.9 L1771.5 508.6 L1772.5 509.1 L1773.5 509.5 L1774.5 509.8 L1775.5 510.3 L1776.5 510.8 L1777.5 511.0 L1778.5 511.2 L1779.5 512.0 L1780.5 512.7 L1781.5 512.8 L1782.5 512.9 L1783.5 513.0 L1784.5 513.1 L1785.5 513.4 L1786.5 513.7 L1787.5 513.4 L1788.5 513.4 L1789.5 514.0 L1790.5 514.1 L1791.5 514.0 L1792.5 513.9 L1793.5 513.7 L1794.5 513.7 L1795.5 514.1 L1796.5 514.5 L1797.5 515.0 L1798.5 515.0 L1799.5 514.9 L1800.5 515.2 L1801.5 515.3 L1802.5 515.2 L1803.5 515.1 L1804.5 515.3 L1805.5 515.5 L1806.5 515.6 L1807.5 515.7 L1808.5 515.8 L1809.5 516.1 L1810.5 516.3 L1811.5 516.5 L1812.5 516.4 L1813.5 516.4 L1814.5 516.6 L1815.5 516.4 L1816.5 515.9 L1817.5 515.5 L1818.5 514.9 L1819.5 514.2 L1820.5 513.6 L1821.5 512.9 L1822.5 512.0 L1823.5 510.8 L1824.5 509.5 L1825.5 508.0 L1826.5 506.6 L1827.5 505.0 L1828.5 503.2 L1829.5 502.2 L1830.5 501.3 L1831.5 500.4 L1832.5 500.1 L1833.5 499.5 L1834.5 498.8 L1835.5 498.3 L1836.5 497.6 L1837.5 497.3 L1838.5 497.4 L1839.5 497.2 L1840.5 497.4 L1841.5 497.6 L1842.5 497.4 L1843.5 497.3 L1844.5 497.3 L1845.5 497.2 L1846.5 496.6 L1847.5 496.4 L1848.5 497.1 L1849.5 498.2 L1850.5 499.1 L1851.5 499.8 L1852.5 500.5 L1853.5 501.4 L1854.5 501.7 L1855.5 502.0 L1856.5 502.5 L1857.5 502.0 L1858.5 500.3 L1859.5 498.4 L1860.5 496.6 L1861.5 494.4 L1862.5 492.0 L1863.5 490.2 L1864.5 489.2 L1865.5 488.0 L1866.5 486.8 L1867.5 485.7 L1868.5 484.5 L1869.5 484.0 L1870.5 483.8 L1871.5 483.7 L1872.5 484.1 L1873.5 485.4 L1874.5 487.3 L1875.5 489.0 L1876.5 490.2 L1877.5 491.1 L1878.5 492.2 L1879.5 493.4 L1880.5 494.2 L1881.5 494.5 L1882.5 494.8 L1883.5 495.1 L1884.5 495.3 L1885.5 495.1 L1886.5 495.1 L1887.5 494.7 L1888.5 494.0 L1889.5 493.4 L1890.5 492.6 L1891.5 491.7 L1892.5 491.0 L1893.5 490.3 L1894.5 489.9 L1895.5 489.0 L1896.5 488.0 L1897.5 487.3 L1898.5 486.4 L1899.5 485.5 L1900.5 484.6 L1901.5 483.9 L1902.5 483.6 L1903.5 483.4 L1904.5 483.5 L1905.5 483.6 L1906.5 483.4 L1907.5 483.5 L1908.5 483.8 L1909.5 484.3 L1910.5 484.7 L1911.5 484.9 L1912.5 484.6 L1913.5 483.3 L1914.5 481.6 L1915.5 479.5 L1916.5 477.3 L1917.5 475.2 L1918.5 473.3 L1919.5 472.6 L1920.5 474.3 L1921.5 478.4 L1922.5 483.2 L1923.5 487.6 L1924.5 490.9 L1925.5 494.6 L1926.5 498.2 L1927.5 501.4 L1928.5 503.7 L1929.5 504.5 L1930.5 503.2 L1931.5 504.6 L1932.5 507.0 L1933.5 508.8 L1934.5 510.1 L1935.5 510.1 L1936.5 509.5 L1937.5 508.4 L1938.5 508.3 L1939.5 510.3 L1940.5 511.9 L1941.5 511.3 L1942.5 510.7 L1943.5 511.3 L1944.5 511.8 L1945.5 511.7 L1946.5 511.0 L1947.5 510.1 L1948.5 510.0 L1949.5 510.7 L1950.5 510.9 L1951.5 511.4 L1952.5 512.9 L1953.5 513.0 L1954.5 512.3 L1955.5 513.7 L1956.5 514.8 L1957.5 513.8 L1958.5 513.3 L1959.5 513.1 L1960.5 511.9 L1961.5 511.7 L1962.5 512.5 L1963.5 512.8 L1964.5 512.4 L1965.5 512.8 L1966.5 513.1 L1967.5 512.9 L1968.5 513.7 L1969.5 514.4 L1970.5 513.3 L1971.5 512.8 L1972.5 513.6 L1973.5 514.0 L1974.5 514.4 L1975.5 514.5 L1976.5 514.5 L1977.5 513.9 L1978.5 512.5 L1979.5 513.2 L1980.5 515.2 L1981.5 515.0 L1982.5 514.5 L1983.5 514.4 L1984.5 514.5 L1985.5 515.6 L1986.5 516.3 L1987.5 515.3 L1988.5 513.7 L1989.5 514.0 L1990.5 515.8 L1991.5 517.5 L1992.5 518.8 L1993.5 518.0 L1994.5 515.9 L1995.5 515.2 L1996.5 515.5 L1997.5 516.6 L1998.5 516.6 L1999.5 515.9 L2000.5 517.0 L2001.5 517.7 L2002.5 516.8 L2003.5 517.1 L2004.5 518.1 L2005.5 517.2 L2006.5 516.2 L2007.5 517.2 L2008.5 518.3 L2009.5 517.4 L2010.5 515.3 L2011.5 515.1 L2012.5 516.3 L2013.5 517.2 L2014.5 516.8 L2015.5 516.5 L2016.5 517.5 L2017.5 517.2 L2018.5 515.6 L2019.5 515.6 L2020.5 515.9 L2021.5 515.7 L2022.5 516.4 L2023.5 516.9 L2024.5 516.8 L2025.5 517.8 L2026.5 518.2 L2027.5 517.1 L2028.5 516.6 L2029.5 517.1 L2030.5 518.2 L2031.5 518.2 L2032.5 516.8 L2033.5 516.3 L2034.5 516.8 L2035.5 516.2 L2036.5 515.0 L2037.5 515.0 L2038.5 516.6 L2039.5 518.4 L2040.5 518.5 L2041.5 518.1 L2042.5 517.9 L2043.5 518.1 L2044.5 517.3 L2045.5 515.8 L2046.5 516.1 L2047.5 516.7 L2048.5 516.5 L2049.5 515.1 L2050.5 513.8 L2051.5 514.1 L2052.5 514.8 L2053.5 515.4 L2054.5 515.2 L2055.5 514.8 L2056.5 514.2 L2057.5 513.4 L2058.5 513.7 L2059.5 514.4 L2060.5 515.1 L2061.5 514.6 L2062.5 514.4 L2063.5 515.5 L2064.5 515.0 L2065.5 514.4 L2066.5 514.9 L2067.5 515.5 L2068.5 515.5 L2069.5 515.7 L2070.5 516.7 L2071.5 517.6 L2072.5 518.0 L2073.5 517.0 L2074.5 515.3 L2075.5 514.1 L2076.5 512.1 L2077.5 509.4 L2078.5 507.3 L2079.5 508.6 L2080.5 511.9 L2081.5 512.8 L2082.5 512.5 L2083.5 514.4 L2084.5 517.2 L2085.5 519.1 L2086.5 519.4 L2087.5 519.9 L2088.5 520.9 L2089.5 520.4 L2090.5 518.9 L2091.5 517.7 L2095.4 517.7" stroke="#E8711C"/>
<path d="M131.0 678.1 L134.5 678.0 L135.5 677.9 L136.5 677.9 L137.5 677.8 L138.5 677.8 L139.5 677.7 L140.5 677.8 L141.5 678.0 L142.5 677.8 L143.5 677.7 L144.5 677.6 L145.5 677.5 L146.5 677.5 L147.5 677.5 L148.5 677.4 L149.5 677.2 L150.5 677.2 L151.5 677.3 L152.5 677.3 L153.5 677.2 L154.5 677.2 L155.5 677.1 L156.5 676.7 L157.5 676.5 L158.5 676.5 L159.5 676.4 L160.5 676.4 L161.5 676.5 L162.5 676.6 L163.5 676.7 L164.5 676.6 L165.5 676.5 L166.5 676.5 L167.5 676.4 L168.5 676.3 L169.5 676.3 L170.5 676.3 L171.5 676.2 L172.5 676.2 L173.5 676.3 L174.5 676.4 L175.5 676.3 L176.5 676.1 L177.5 676.0 L178.5 676.2 L179.5 676.1 L180.5 675.8 L181.5 675.9 L182.5 676.0 L183.5 676.0 L184.5 675.9 L185.5 676.1 L186.5 676.0 L187.5 675.8 L188.5 675.7 L189.5 675.6 L190.5 675.6 L191.5 675.7 L192.5 675.7 L193.5 675.7 L194.5 675.6 L195.5 675.6 L196.5 675.6 L197.5 675.4 L198.5 675.3 L199.5 675.4 L200.5 675.2 L201.5 675.2 L202.5 675.3 L203.5 675.5 L204.5 675.4 L205.5 675.2 L206.5 675.4 L207.5 675.5 L208.5 675.2 L209.5 675.1 L210.5 675.1 L211.5 675.0 L212.5 674.8 L213.5 674.8 L214.5 675.0 L215.5 675.2 L216.5 675.2 L217.5 674.9 L218.5 674.7 L219.5 674.9 L220.5 675.0 L221.5 675.0 L222.5 674.9 L223.5 674.7 L224.5 674.8 L225.5 675.0 L226.5 674.9 L227.5 674.8 L228.5 674.8 L229.5 674.7 L230.5 674.7 L231.5 674.7 L232.5 674.6 L233.5 674.6 L234.5 674.7 L235.5 674.7 L236.5 674.7 L237.5 674.6 L238.5 674.5 L239.5 674.7 L240.5 674.9 L241.5 674.8 L242.5 674.7 L243.5 674.7 L244.5 674.8 L245.5 674.8 L246.5 674.6 L247.5 674.4 L248.5 674.3 L249.5 674.4 L250.5 674.2 L251.5 674.2 L252.5 674.5 L253.5 674.6 L254.5 674.4 L255.5 674.2 L256.5 674.2 L257.5 674.2 L258.5 674.0 L259.5 673.9 L260.5 673.9 L261.5 674.0 L262.5 673.8 L263.5 673.8 L264.5 674.0 L265.5 674.2 L266.5 674.0 L267.5 674.0 L268.5 674.0 L269.5 673.7 L270.5 673.6 L271.5 673.8 L272.5 673.8 L273.5 673.5 L274.5 673.3 L275.5 673.4 L276.5 673.5 L277.5 673.4 L278.5 673.4 L279.5 673.4 L280.5 673.1 L281.5 672.8 L282.5 672.6 L283.5 672.7 L284.5 672.6 L285.5 672.4 L286.5 672.2 L287.5 672.1 L288.5 671.9 L289.5 671.5 L290.5 671.0 L291.5 670.8 L292.5 670.3 L293.5 669.7 L294.5 669.4 L295.5 668.9 L296.5 668.5 L297.5 668.2 L298.5 667.7 L299.5 666.9 L300.5 666.2 L301.5 665.6 L302.5 664.9 L303.5 664.3 L304.5 663.7 L305.5 663.1 L306.5 662.4 L307.5 661.7 L308.5 661.2 L309.5 660.6 L310.5 660.0 L311.5 659.5 L312.5 659.2 L313.5 659.0 L314.5 658.7 L315.5 658.2 L316.5 657.7 L317.5 657.4 L318.5 657.3 L319.5 656.9 L320.5 656.5 L321.5 656.1 L322.5 655.7 L323.5 655.1 L324.5 654.8 L325.5 654.6 L326.5 654.3 L327.5 653.9 L328.5 653.6 L329.5 653.2 L330.5 652.6 L331.5 652.2 L332.5 651.8 L333.5 651.4 L334.5 650.9 L335.5 650.4 L336.5 649.9 L337.5 649.1 L338.5 648.5 L339.5 648.2 L340.5 647.7 L341.5 647.0 L342.5 646.5 L343.5 646.0 L344.5 645.2 L345.5 644.3 L346.5 643.4 L347.5 642.8 L348.5 642.3 L349.5 641.8 L350.5 641.2 L351.5 640.5 L352.5 639.8 L353.5 639.1 L354.5 638.5 L355.5 638.0 L356.5 637.5 L357.5 636.8 L358.5 636.1 L359.5 635.4 L360.5 634.7 L361.5 634.2 L362.5 633.6 L363.5 633.1 L364.5 632.6 L365.5 632.0 L366.5 631.5 L367.5 631.0 L368.5 630.3 L369.5 629.5 L370.5 628.7 L371.5 628.0 L372.5 627.4 L373.5 626.6 L374.5 625.9 L375.5 625.6 L376.5 625.1 L377.5 624.5 L378.5 624.0 L379.5 623.4 L380.5 622.7 L381.5 622.1 L382.5 621.7 L383.5 621.1 L384.5 620.5 L385.5 619.9 L386.5 619.3 L387.5 618.7 L388.5 618.3 L389.5 617.9 L390.5 617.5 L391.5 617.0 L392.5 616.5 L393.5 616.0 L394.5 615.4 L395.5 615.0 L396.5 614.6 L397.5 614.2 L398.5 613.8 L399.5 613.2 L400.5 612.6 L401.5 612.2 L402.5 612.0 L403.5 611.4 L404.5 610.7 L405.5 610.5 L406.5 610.4 L407.5 609.9 L408.5 609.3 L409.5 608.9 L410.5 608.4 L411.5 607.9 L412.5 607.5 L413.5 607.2 L414.5 606.7 L415.5 606.1 L416.5 605.5 L417.5 605.0 L418.5 604.7 L419.5 604.4 L420.5 604.0 L421.5 603.6 L422.5 603.3 L423.5 603.2 L424.5 603.0 L425.5 602.7 L426.5 602.5 L427.5 602.2 L428.5 601.9 L429.5 601.8 L430.5 601.5 L431.5 601.0 L432.5 601.1 L433.5 601.1 L434.5 600.8 L435.5 600.7 L436.5 600.7 L437.5 600.5 L438.5 600.5 L439.5 600.6 L440.5 600.6 L441.5 600.6 L442.5 600.6 L443.5 600.5 L444.5 600.7 L445.5 600.9 L446.5 601.0 L447.5 601.2 L448.5 601.5 L449.5 601.7 L450.5 601.7 L451.5 601.7 L452.5 601.8 L453.5 602.1 L454.5 602.4 L455.5 602.9 L456.5 603.2 L457.5 603.2 L458.5 603.3 L459.5 603.5 L460.5 603.7 L461.5 604.1 L462.5 604.2 L463.5 604.4 L464.5 604.9 L465.5 605.2 L466.5 605.5 L467.5 605.9 L468.5 606.2 L469.5 606.6 L470.5 606.9 L471.5 607.2 L472.5 607.6 L473.5 608.0 L474.5 608.5 L475.5 608.9 L476.5 609.4 L477.5 609.9 L478.5 610.3 L479.5 610.6 L480.5 611.2 L481.5 611.6 L482.5 611.8 L483.5 612.3 L484.5 612.9 L485.5 613.4 L486.5 613.7 L487.5 614.1 L488.5 614.7 L489.5 615.0 L490.5 615.3 L491.5 615.6 L492.5 616.1 L493.5 616.7 L494.5 617.0 L495.5 617.2 L496.5 617.7 L497.5 618.3 L498.5 618.6 L499.5 618.8 L500.5 619.1 L501.5 619.6 L502.5 620.1 L503.5 620.5 L504.5 620.8 L505.5 621.3 L506.5 621.6 L507.5 621.9 L508.5 622.2 L509.5 622.7 L510.5 623.2 L511.5 623.7 L512.5 624.1 L513.5 624.5 L514.5 624.9 L515.5 625.3 L516.5 625.7 L517.5 626.0 L518.5 626.5 L519.5 627.1 L520.5 627.4 L521.5 627.7 L522.5 628.0 L523.5 628.4 L524.5 628.9 L525.5 629.3 L526.5 629.8 L527.5 630.3 L528.5 630.7 L529.5 631.0 L530.5 631.3 L531.5 631.7 L532.5 632.2 L533.5 632.6 L534.5 633.0 L535.5 633.2 L536.5 633.5 L537.5 634.0 L538.5 634.7 L539.5 635.2 L540.5 635.5 L541.5 635.9 L542.5 636.4 L543.5 636.8 L544.5 637.0 L545.5 637.3 L546.5 637.7 L547.5 638.3 L548.5 638.8 L549.5 639.1 L550.5 639.4 L551.5 639.7 L552.5 640.4 L553.5 641.2 L554.5 641.7 L555.5 642.0 L556.5 642.2 L557.5 642.6 L558.5 643.2 L559.5 643.8 L560.5 644.2 L561.5 644.8 L562.5 645.4 L563.5 645.8 L564.5 646.2 L565.5 647.0 L566.5 647.5 L567.5 647.9 L568.5 648.4 L569.5 648.9 L570.5 649.3 L571.5 649.7 L572.5 650.2 L573.5 650.7 L574.5 651.3 L575.5 651.9 L576.5 652.5 L577.5 653.0 L578.5 653.4 L579.5 653.7 L580.5 654.3 L581.5 654.9 L582.5 655.3 L583.5 655.8 L584.5 656.3 L585.5 656.8 L586.5 657.2 L587.5 657.7 L588.5 658.2 L589.5 658.6 L590.5 659.2 L591.5 659.6 L592.5 659.9 L593.5 660.3 L594.5 660.9 L595.5 661.4 L596.5 661.8 L597.5 662.3 L598.5 662.7 L599.5 662.8 L600.5 663.1 L601.5 663.6 L602.5 664.1 L603.5 664.4 L604.5 664.8 L605.5 665.1 L606.5 665.2 L607.5 665.5 L608.5 665.8 L609.5 666.2 L610.5 666.6 L611.5 666.9 L612.5 667.3 L613.5 667.7 L614.5 668.2 L615.5 668.6 L616.5 668.8 L617.5 669.1 L618.5 669.5 L619.5 670.0 L620.5 670.5 L621.5 670.8 L622.5 671.0 L623.5 671.4 L624.5 671.8 L625.5 672.0 L626.5 672.3 L627.5 672.8 L628.5 673.0 L629.5 673.0 L630.5 672.8 L631.5 672.8 L632.5 672.9 L633.5 673.1 L634.5 673.5 L635.5 673.6 L636.5 673.6 L637.5 673.8 L638.5 674.0 L639.5 674.2 L640.5 674.2 L641.5 674.3 L642.5 674.6 L643.5 674.9 L644.5 675.0 L645.5 675.0 L646.5 675.0 L647.5 675.1 L648.5 675.2 L649.5 675.2 L650.5 675.0 L651.5 675.0 L652.5 675.0 L653.5 674.7 L654.5 674.3 L655.5 674.2 L656.5 674.1 L657.5 674.1 L658.5 673.9 L659.5 673.7 L660.5 673.4 L661.5 673.1 L662.5 672.7 L663.5 672.3 L664.5 672.0 L665.5 671.6 L666.5 671.2 L667.5 670.7 L668.5 670.3 L669.5 669.9 L670.5 669.4 L671.5 668.9 L672.5 668.5 L673.5 667.8 L674.5 667.0 L675.5 666.4 L676.5 665.7 L677.5 664.9 L678.5 664.1 L679.5 662.9 L680.5 661.5 L681.5 660.1 L682.5 658.2 L683.5 656.0 L684.5 654.2 L685.5 652.2 L686.5 649.9 L687.5 647.2 L688.5 643.8 L689.5 639.6 L690.5 633.9 L691.5 626.9 L692.5 619.2 L693.5 610.0 L694.5 599.4 L695.5 589.2 L696.5 579.0 L697.5 569.1 L698.5 558.9 L699.5 550.3 L700.5 547.0 L701.5 545.2 L702.5 544.7 L703.5 545.1 L704.5 545.7 L705.5 546.1 L706.5 546.5 L707.5 546.5 L708.5 544.3 L709.5 540.4 L710.5 529.1 L711.5 513.2 L712.5 495.2 L713.5 475.6 L714.5 455.5 L715.5 434.8 L716.5 415.6 L717.5 396.4 L718.5 381.3 L719.5 373.4 L720.5 368.2 L721.5 368.4 L722.5 373.9 L723.5 383.6 L724.5 401.9 L725.5 416.7 L726.5 429.0 L727.5 440.4 L728.5 451.3 L729.5 461.6 L730.5 471.5 L731.5 481.0 L732.5 490.3 L733.5 499.5 L734.5 508.4 L735.5 516.9 L736.5 524.6 L737.5 531.6 L738.5 538.5 L739.5 544.6 L740.5 549.4 L741.5 552.6 L742.5 555.2 L743.5 556.2 L744.5 555.6 L745.5 554.2 L746.5 552.1 L747.5 548.8 L748.5 544.8 L749.5 540.9 L750.5 538.0 L751.5 536.2 L752.5 534.0 L753.5 526.3 L754.5 508.4 L755.5 490.7 L756.5 473.1 L757.5 461.7 L758.5 455.7 L759.5 459.9 L760.5 470.0 L761.5 489.2 L762.5 510.0 L763.5 529.3 L764.5 546.2 L765.5 561.2 L766.5 574.6 L767.5 586.9 L768.5 598.0 L769.5 606.7 L770.5 613.4 L771.5 619.1 L772.5 623.9 L773.5 628.0 L774.5 631.7 L775.5 635.1 L776.5 638.2 L777.5 640.9 L778.5 643.1 L779.5 645.3 L780.5 647.4 L781.5 649.2 L782.5 650.9 L783.5 652.6 L784.5 654.0 L785.5 655.0 L786.5 655.8 L787.5 656.5 L788.5 657.2 L789.5 657.9 L790.5 658.6 L791.5 659.3 L792.5 659.9 L793.5 660.8 L794.5 661.5 L795.5 662.2 L796.5 662.7 L797.5 663.1 L798.5 663.6 L799.5 664.3 L800.5 664.8 L801.5 665.3 L802.5 665.6 L803.5 665.9 L804.5 666.3 L805.5 666.7 L806.5 667.0 L807.5 667.3 L808.5 667.5 L809.5 667.3 L810.5 667.4 L811.5 667.5 L812.5 667.4 L813.5 667.5 L814.5 667.5 L815.5 667.5 L816.5 667.4 L817.5 667.1 L818.5 667.0 L819.5 667.1 L820.5 667.2 L821.5 667.1 L822.5 667.0 L823.5 667.0 L824.5 667.0 L825.5 666.9 L826.5 666.9 L827.5 667.1 L828.5 667.4 L829.5 667.6 L830.5 668.0 L831.5 668.4 L832.5 668.5 L833.5 668.9 L834.5 669.4 L835.5 669.7 L836.5 669.9 L837.5 669.9 L838.5 670.1 L839.5 670.3 L840.5 670.3 L841.5 670.4 L842.5 670.6 L843.5 670.7 L844.5 670.7 L845.5 670.8 L846.5 671.1 L847.5 671.2 L848.5 671.2 L849.5 671.2 L850.5 671.2 L851.5 671.4 L852.5 671.5 L853.5 671.6 L854.5 671.7 L855.5 671.6 L856.5 671.6 L857.5 671.7 L858.5 671.7 L859.5 671.5 L860.5 671.5 L861.5 671.8 L862.5 671.9 L863.5 672.0 L864.5 672.2 L865.5 672.1 L866.5 672.2 L867.5 672.3 L868.5 672.2 L869.5 672.3 L870.5 672.4 L871.5 672.5 L872.5 672.5 L873.5 672.5 L874.5 672.5 L875.5 672.6 L876.5 672.7 L877.5 672.9 L878.5 672.9 L879.5 672.8 L880.5 672.9 L881.5 673.0 L882.5 673.2 L883.5 673.4 L884.5 673.6 L885.5 673.5 L886.5 673.5 L887.5 673.6 L888.5 673.8 L889.5 673.8 L890.5 673.9 L891.5 673.8 L892.5 673.8 L893.5 674.2 L894.5 674.4 L895.5 674.3 L896.5 674.4 L897.5 674.6 L898.5 674.7 L899.5 674.6 L900.5 674.6 L901.5 674.6 L902.5 674.7 L903.5 674.9 L904.5 674.9 L905.5 675.0 L906.5 675.1 L907.5 674.9 L908.5 675.0 L909.5 675.0 L910.5 675.0 L911.5 675.3 L912.5 675.5 L913.5 675.4 L914.5 675.4 L915.5 675.5 L916.5 675.4 L917.5 675.5 L918.5 675.6 L919.5 675.5 L920.5 675.5 L921.5 675.6 L922.5 675.5 L923.5 675.5 L924.5 675.7 L925.5 675.8 L926.5 675.8 L927.5 675.8 L928.5 675.9 L929.5 676.0 L930.5 676.0 L931.5 675.8 L932.5 675.6 L933.5 675.8 L934.5 676.0 L935.5 676.1 L936.5 676.0 L937.5 675.6 L938.5 675.5 L939.5 675.9 L940.5 676.1 L941.5 675.9 L942.5 675.9 L943.5 676.1 L944.5 676.2 L945.5 676.3 L946.5 676.3 L947.5 676.0 L948.5 675.8 L949.5 675.9 L950.5 675.9 L951.5 675.9 L952.5 676.1 L953.5 676.4 L954.5 676.1 L955.5 675.9 L956.5 676.1 L957.5 676.1 L958.5 676.2 L959.5 676.4 L960.5 676.4 L961.5 676.4 L962.5 676.3 L963.5 676.2 L964.5 676.0 L965.5 676.1 L966.5 676.1 L967.5 676.2 L968.5 676.2 L969.5 676.3 L970.5 676.3 L971.5 676.2 L972.5 676.1 L973.5 676.3 L974.5 676.3 L975.5 676.0 L976.5 675.9 L977.5 676.0 L978.5 675.9 L979.5 675.9 L980.5 676.0 L981.5 675.9 L982.5 675.9 L983.5 676.0 L984.5 676.0 L985.5 676.0 L986.5 676.0 L987.5 676.1 L988.5 675.9 L989.5 675.6 L990.5 675.4 L991.5 675.4 L992.5 675.6 L993.5 675.5 L994.5 675.5 L995.5 675.6 L996.5 675.5 L997.5 675.4 L998.5 675.3 L999.5 675.3 L1000.5 675.2 L1001.5 674.9 L1002.5 675.0 L1003.5 675.2 L1004.5 675.0 L1005.5 674.8 L1006.5 674.8 L1007.5 675.0 L1008.5 675.0 L1009.5 674.9 L1010.5 674.9 L1011.5 675.0 L1012.5 675.0 L1013.5 675.0 L1014.5 674.8 L1015.5 674.9 L1016.5 674.9 L1017.5 674.7 L1018.5 674.6 L1019.5 674.6 L1020.5 674.6 L1021.5 674.6 L1022.5 674.6 L1023.5 674.6 L1024.5 674.7 L1025.5 674.6 L1026.5 674.6 L1027.5 674.7 L1028.5 674.6 L1029.5 674.5 L1030.5 674.7 L1031.5 674.7 L1032.5 674.7 L1033.5 674.8 L1034.5 674.8 L1035.5 674.8 L1036.5 674.9 L1037.5 674.7 L1038.5 674.5 L1039.5 674.5 L1040.5 674.5 L1041.5 674.6 L1042.5 674.5 L1043.5 674.5 L1044.5 674.7 L1045.5 675.0 L1046.5 675.0 L1047.5 674.8 L1048.5 674.9 L1049.5 675.1 L1050.5 674.9 L1051.5 674.8 L1052.5 674.9 L1053.5 674.7 L1054.5 674.8 L1055.5 675.0 L1056.5 675.2 L1057.5 675.1 L1058.5 675.2 L1059.5 675.2 L1060.5 675.2 L1061.5 675.1 L1062.5 675.2 L1063.5 675.2 L1064.5 675.0 L1065.5 675.1 L1066.5 675.3 L1067.5 675.3 L1068.5 675.3 L1069.5 675.5 L1070.5 675.5 L1071.5 675.4 L1072.5 675.3 L1073.5 675.4 L1074.5 675.4 L1075.5 675.5 L1076.5 675.7 L1077.5 675.6 L1078.5 675.3 L1079.5 675.3 L1080.5 675.6 L1081.5 675.6 L1082.5 675.5 L1083.5 675.6 L1084.5 675.7 L1085.5 675.6 L1086.5 675.5 L1087.5 675.5 L1088.5 675.5 L1089.5 675.6 L1090.5 675.8 L1091.5 675.8 L1092.5 675.9 L1093.5 675.7 L1094.5 675.5 L1095.5 675.5 L1096.5 675.5 L1097.5 675.4 L1098.5 675.6 L1099.5 675.9 L1100.5 676.0 L1101.5 676.0 L1102.5 675.9 L1103.5 675.8 L1104.5 675.7 L1105.5 675.6 L1106.5 675.6 L1107.5 675.5 L1108.5 675.5 L1109.5 675.7 L1110.5 675.8 L1111.5 675.6 L1112.5 675.5 L1113.5 675.7 L1114.5 675.6 L1115.5 675.4 L1116.5 675.4 L1117.5 675.3 L1118.5 675.5 L1119.5 675.5 L1120.5 675.4 L1121.5 675.5 L1122.5 675.6 L1123.5 675.7 L1124.5 675.6 L1125.5 675.5 L1126.5 675.5 L1127.5 675.5 L1128.5 675.7 L1129.5 675.7 L1130.5 675.6 L1131.5 675.5 L1132.5 675.7 L1133.5 675.7 L1134.5 675.5 L1135.5 675.5 L1136.5 675.4 L1137.5 675.2 L1138.5 675.3 L1139.5 675.4 L1140.5 675.4 L1141.5 675.3 L1142.5 675.2 L1143.5 675.4 L1144.5 675.5 L1145.5 675.3 L1146.5 675.1 L1147.5 675.0 L1148.5 675.1 L1149.5 675.2 L1150.5 675.0 L1151.5 675.1 L1152.5 675.2 L1153.5 675.2 L1154.5 674.9 L1155.5 674.8 L1156.5 674.8 L1157.5 674.7 L1158.5 674.8 L1159.5 675.1 L1160.5 675.0 L1161.5 674.9 L1162.5 674.9 L1163.5 675.0 L1164.5 675.1 L1165.5 675.2 L1166.5 675.0 L1167.5 674.7 L1168.5 674.8 L1169.5 674.9 L1170.5 674.9 L1171.5 674.9 L1172.5 674.9 L1173.5 674.9 L1174.5 675.1 L1175.5 675.2 L1176.5 675.2 L1177.5 675.2 L1178.5 675.1 L1179.5 675.0 L1180.5 674.9 L1181.5 675.0 L1182.5 675.0 L1183.5 674.9 L1184.5 674.8 L1185.5 675.1 L1186.5 675.4 L1187.5 675.4 L1188.5 675.4 L1189.5 675.5 L1190.5 675.4 L1191.5 675.4 L1192.5 675.5 L1193.5 675.6 L1194.5 675.5 L1195.5 675.5 L1196.5 675.7 L1197.5 676.1 L1198.5 676.2 L1199.5 676.3 L1200.5 676.3 L1201.5 676.3 L1202.5 676.4 L1203.5 676.6 L1204.5 676.7 L1205.5 676.7 L1206.5 676.9 L1207.5 677.0 L1208.5 676.9 L1209.5 676.8 L1210.5 676.8 L1211.5 677.1 L1212.5 677.4 L1213.5 677.6 L1214.5 677.5 L1215.5 677.6 L1216.5 677.7 L1217.5 677.8 L1218.5 677.7 L1219.5 677.7 L1220.5 678.0 L1221.5 678.2 L1222.5 678.3 L1223.5 678.3 L1224.5 678.3 L1225.5 678.2 L1226.5 678.1 L1227.5 678.3 L1228.5 678.4 L1229.5 678.2 L1230.5 678.3 L1231.5 678.5 L1232.5 678.4 L1233.5 678.4 L1234.5 678.6 L1235.5 678.4 L1236.5 678.2 L1237.5 678.2 L1238.5 678.3 L1239.5 678.4 L1240.5 678.3 L1241.5 678.0 L1242.5 678.0 L1243.5 678.1 L1244.5 678.0 L1245.5 677.8 L1246.5 677.7 L1247.5 677.7 L1248.5 677.6 L1249.5 677.5 L1250.5 677.4 L1251.5 677.2 L1252.5 677.0 L1253.5 676.8 L1254.5 676.8 L1255.5 676.9 L1256.5 676.9 L1257.5 676.8 L1258.5 676.6 L1259.5 676.4 L1260.5 676.3 L1261.5 676.2 L1262.5 676.0 L1263.5 676.1 L1264.5 676.2 L1265.5 676.2 L1266.5 676.0 L1267.5 675.8 L1268.5 675.7 L1269.5 675.8 L1270.5 675.7 L1271.5 675.4 L1272.5 675.3 L1273.5 675.3 L1274.5 675.4 L1275.5 675.4 L1276.5 675.2 L1277.5 675.1 L1278.5 675.0 L1279.5 675.0 L1280.5 674.9 L1281.5 674.8 L1282.5 674.8 L1283.5 675.0 L1284.5 675.1 L1285.5 674.9 L1286.5 674.9 L1287.5 675.0 L1288.5 674.9 L1289.5 674.8 L1290.5 674.9 L1291.5 674.9 L1292.5 674.9 L1293.5 675.0 L1294.5 674.9 L1295.5 675.0 L1296.5 675.0 L1297.5 675.0 L1298.5 675.0 L1299.5 675.0 L1300.5 675.0 L1301.5 675.2 L1302.5 675.3 L1303.5 675.4 L1304.5 675.6 L1305.5 675.6 L1306.5 675.6 L1307.5 675.6 L1308.5 675.7 L1309.5 675.7 L1310.5 675.8 L1311.5 675.9 L1312.5 676.0 L1313.5 676.0 L1314.5 676.0 L1315.5 676.0 L1316.5 676.0 L1317.5 676.2 L1318.5 676.3 L1319.5 676.2 L1320.5 676.3 L1321.5 676.4 L1322.5 676.4 L1323.5 676.4 L1324.5 676.5 L1325.5 676.6 L1326.5 676.8 L1327.5 676.7 L1328.5 676.7 L1329.5 676.8 L1330.5 676.9 L1331.5 677.0 L1332.5 676.9 L1333.5 676.7 L1334.5 676.6 L1335.5 676.6 L1336.5 676.7 L1337.5 676.7 L1338.5 676.6 L1339.5 676.5 L1340.5 676.6 L1341.5 676.7 L1342.5 676.9 L1343.5 677.0 L1344.5 677.0 L1345.5 676.7 L1346.5 676.6 L1347.5 676.6 L1348.5 676.5 L1349.5 676.5 L1350.5 676.5 L1351.5 676.6 L1352.5 676.4 L1353.5 676.3 L1354.5 675.8 L1355.5 675.4 L1356.5 675.7 L1357.5 675.9 L1358.5 675.9 L1359.5 676.1 L1360.5 675.6 L1361.5 673.9 L1362.5 671.5 L1363.5 669.3 L1364.5 667.4 L1365.5 666.0 L1366.5 664.8 L1367.5 663.8 L1368.5 663.0 L1369.5 662.7 L1370.5 662.7 L1371.5 662.3 L1372.5 661.8 L1373.5 661.6 L1374.5 660.8 L1375.5 660.3 L1376.5 660.4 L1377.5 660.2 L1378.5 660.0 L1379.5 660.2 L1380.5 660.8 L1381.5 661.4 L1382.5 661.8 L1383.5 662.4 L1384.5 663.1 L1385.5 663.7 L1386.5 664.6 L1387.5 665.2 L1388.5 665.1 L1389.5 665.4 L1390.5 666.2 L1391.5 666.9 L1392.5 667.1 L1393.5 667.4 L1394.5 667.9 L1395.5 668.3 L1396.5 668.4 L1397.5 667.9 L1398.5 667.3 L1399.5 666.8 L1400.5 666.5 L1401.5 666.2 L1402.5 665.4 L1403.5 664.3 L1404.5 663.3 L1405.5 662.7 L1406.5 662.3 L1407.5 661.1 L1408.5 659.7 L1409.5 658.7 L1410.5 657.9 L1411.5 656.6 L1412.5 654.8 L1413.5 653.0 L1414.5 651.5 L1415.5 649.7 L1416.5 648.0 L1417.5 646.6 L1418.5 645.3 L1419.5 643.7 L1420.5 641.6 L1421.5 639.9 L1422.5 638.7 L1423.5 637.4 L1424.5 636.0 L1425.5 634.7 L1426.5 634.0 L1427.5 633.3 L1428.5 632.4 L1429.5 632.0 L1430.5 631.6 L1431.5 631.4 L1432.5 631.1 L1433.5 630.3 L1434.5 629.9 L1435.5 630.0 L1436.5 630.2 L1437.5 630.9 L1438.5 631.3 L1439.5 631.4 L1440.5 632.0 L1441.5 633.1 L1442.5 634.2 L1443.5 635.5 L1444.5 636.6 L1445.5 637.3 L1446.5 638.3 L1447.5 639.8 L1448.5 641.6 L1449.5 643.2 L1450.5 644.6 L1451.5 646.2 L1452.5 647.8 L1453.5 649.2 L1454.5 650.5 L1455.5 651.6 L1456.5 652.3 L1457.5 653.5 L1458.5 654.6 L1459.5 655.7 L1460.5 656.8 L1461.5 657.7 L1462.5 659.0 L1463.5 660.8 L1464.5 661.9 L1465.5 662.2 L1466.5 662.6 L1467.5 663.2 L1468.5 664.1 L1469.5 665.1 L1470.5 666.1 L1471.5 666.8 L1472.5 667.5 L1473.5 668.6 L1474.5 669.6 L1475.5 670.4 L1476.5 671.1 L1477.5 671.7 L1478.5 672.3 L1479.5 673.1 L1480.5 673.7 L1481.5 674.2 L1482.5 674.9 L1483.5 675.0 L1484.5 675.2 L1485.5 676.0 L1486.5 676.2 L1487.5 676.1 L1488.5 675.9 L1489.5 675.7 L1490.5 675.4 L1491.5 675.1 L1492.5 674.4 L1493.5 673.5 L1494.5 673.1 L1495.5 672.8 L1496.5 671.9 L1497.5 671.1 L1498.5 670.3 L1499.5 669.5 L1500.5 668.7 L1501.5 667.5 L1502.5 665.7 L1503.5 663.8 L1504.5 661.7 L1505.5 659.5 L1506.5 656.9 L1507.5 652.7 L1508.5 642.2 L1509.5 628.1 L1510.5 613.5 L1511.5 601.0 L1512.5 588.0 L1513.5 575.7 L1514.5 565.9 L1515.5 559.4 L1516.5 553.7 L1517.5 548.8 L1518.5 545.1 L1519.5 543.4 L1520.5 544.0 L1521.5 547.4 L1522.5 551.9 L1523.5 556.8 L1524.5 561.3 L1525.5 565.9 L1526.5 570.8 L1527.5 576.0 L1528.5 581.6 L1529.5 587.2 L1530.5 592.8 L1531.5 598.4 L1532.5 604.9 L1533.5 611.9 L1534.5 618.6 L1535.5 624.4 L1536.5 628.9 L1537.5 631.1 L1538.5 632.7 L1539.5 634.1 L1540.5 635.0 L1541.5 635.5 L1542.5 636.0 L1543.5 636.9 L1544.5 637.7 L1545.5 638.2 L1546.5 638.9 L1547.5 639.8 L1548.5 640.8 L1549.5 641.8 L1550.5 642.8 L1551.5 643.6 L1552.5 644.3 L1553.5 644.8 L1554.5 644.4 L1555.5 641.9 L1556.5 638.7 L1557.5 634.2 L1558.5 629.1 L1559.5 620.4 L1560.5 607.4 L1561.5 595.7 L1562.5 590.7 L1563.5 592.4 L1564.5 597.4 L1565.5 604.0 L1566.5 610.9 L1567.5 616.7 L1568.5 620.7 L1569.5 624.8 L1570.5 628.6 L1571.5 632.0 L1572.5 634.8 L1573.5 637.2 L1574.5 638.4 L1575.5 638.8 L1576.5 639.1 L1577.5 639.2 L1578.5 638.7 L1579.5 638.7 L1580.5 639.2 L1581.5 639.3 L1582.5 639.4 L1583.5 640.1 L1584.5 640.4 L1585.5 640.8 L1586.5 641.5 L1587.5 642.0 L1588.5 642.1 L1589.5 642.0 L1590.5 641.4 L1591.5 640.4 L1592.5 639.8 L1593.5 639.7 L1594.5 639.5 L1595.5 638.7 L1596.5 638.0 L1597.5 638.7 L1598.5 641.9 L1599.5 645.3 L1600.5 646.4 L1601.5 647.1 L1602.5 647.7 L1603.5 648.1 L1604.5 648.4 L1605.5 648.7 L1606.5 649.0 L1607.5 649.5 L1608.5 650.0 L1609.5 650.3 L1610.5 650.6 L1611.5 650.9 L1612.5 651.0 L1613.5 651.2 L1614.5 651.7 L1615.5 651.7 L1616.5 651.2 L1617.5 651.0 L1618.5 650.8 L1619.5 650.3 L1620.5 650.1 L1621.5 649.8 L1622.5 649.4 L1623.5 648.7 L1624.5 648.0 L1625.5 647.3 L1626.5 646.9 L1627.5 646.8 L1628.5 646.7 L1629.5 646.6 L1630.5 646.1 L1631.5 645.7 L1632.5 645.9 L1633.5 645.8 L1634.5 645.7 L1635.5 645.9 L1636.5 646.2 L1637.5 646.5 L1638.5 646.8 L1639.5 647.2 L1640.5 647.0 L1641.5 646.9 L1642.5 647.5 L1643.5 648.4 L1644.5 648.7 L1645.5 649.2 L1646.5 649.9 L1647.5 650.6 L1648.5 651.3 L1649.5 651.7 L1650.5 652.5 L1651.5 653.1 L1652.5 653.5 L1653.5 654.0 L1654.5 654.5 L1655.5 655.1 L1656.5 655.3 L1657.5 655.4 L1658.5 656.1 L1659.5 657.0 L1660.5 657.3 L1661.5 657.6 L1662.5 658.2 L1663.5 658.0 L1664.5 658.1 L1665.5 658.7 L1666.5 659.0 L1667.5 659.1 L1668.5 659.2 L1669.5 659.3 L1670.5 659.3 L1671.5 658.6 L1672.5 657.3 L1673.5 655.7 L1674.5 654.4 L1675.5 653.6 L1676.5 652.8 L1677.5 652.0 L1678.5 651.3 L1679.5 650.5 L1680.5 650.3 L1681.5 651.4 L1682.5 653.0 L1683.5 654.4 L1684.5 655.9 L1685.5 657.2 L1686.5 658.5 L1687.5 660.4 L1688.5 662.1 L1689.5 663.0 L1690.5 663.6 L1691.5 663.5 L1692.5 663.0 L1693.5 662.4 L1694.5 661.9 L1695.5 661.5 L1696.5 661.4 L1697.5 661.6 L1698.5 661.6 L1699.5 661.7 L1700.5 662.3 L1701.5 663.3 L1702.5 664.7 L1703.5 665.9 L1704.5 666.4 L1705.5 666.6 L1706.5 667.3 L1707.5 668.2 L1708.5 669.2 L1709.5 669.9 L1710.5 670.6 L1711.5 671.3 L1712.5 672.0 L1713.5 672.4 L1714.5 672.7 L1715.5 673.0 L1716.5 673.3 L1717.5 673.7 L1718.5 674.1 L1719.5 674.5 L1720.5 674.5 L1721.5 674.3 L1722.5 674.7 L1723.5 675.2 L1724.5 675.2 L1725.5 675.3 L1726.5 675.5 L1727.5 675.6 L1728.5 675.8 L1729.5 675.7 L1730.5 675.8 L1731.5 675.8 L1732.5 675.9 L1733.5 675.6 L1734.5 675.2 L1735.5 675.1 L1736.5 674.8 L1737.5 674.3 L1738.5 673.9 L1739.5 673.7 L1740.5 673.4 L1741.5 673.4 L1742.5 674.0 L1743.5 675.1 L1744.5 675.9 L1745.5 675.9 L1746.5 674.8 L1747.5 673.3 L1748.5 671.6 L1749.5 670.3 L1750.5 669.1 L1751.5 667.7 L1752.5 666.0 L1753.5 664.5 L1754.5 663.7 L1755.5 663.1 L1756.5 662.2 L1757.5 661.7 L1758.5 661.8 L1759.5 662.3 L1760.5 662.8 L1761.5 663.4 L1762.5 664.5 L1763.5 665.8 L1764.5 666.9 L1765.5 667.7 L1766.5 668.5 L1767.5 669.2 L1768.5 670.1 L1769.5 670.9 L1770.5 671.2 L1771.5 671.5 L1772.5 671.8 L1773.5 672.0 L1774.5 672.3 L1775.5 672.7 L1776.5 673.1 L1777.5 673.2 L1778.5 673.3 L1779.5 673.5 L1780.5 673.3 L1781.5 673.0 L1782.5 672.6 L1783.5 672.6 L1784.5 673.1 L1785.5 673.0 L1786.5 672.7 L1787.5 672.8 L1788.5 672.7 L1789.5 672.7 L1790.5 672.7 L1791.5 672.9 L1792.5 673.2 L1793.5 673.2 L1794.5 673.3 L1795.5 673.6 L1796.5 673.8 L1797.5 674.2 L1798.5 675.1 L1799.5 675.3 L1800.5 674.8 L1801.5 674.7 L1802.5 675.4 L1803.5 675.9 L1804.5 676.1 L1805.5 676.1 L1806.5 676.1 L1807.5 676.1 L1808.5 676.0 L1809.5 675.8 L1810.5 676.2 L1811.5 676.6 L1812.5 676.8 L1813.5 676.9 L1814.5 676.6 L1815.5 676.4 L1816.5 676.6 L1817.5 676.9 L1818.5 676.8 L1819.5 676.2 L1820.5 675.2 L1821.5 674.2 L1822.5 673.2 L1823.5 671.8 L1824.5 670.6 L1825.5 669.7 L1826.5 668.8 L1827.5 667.5 L1828.5 666.1 L1829.5 664.7 L1830.5 663.3 L1831.5 661.9 L1832.5 660.7 L1833.5 659.5 L1834.5 658.4 L1835.5 657.4 L1836.5 656.7 L1837.5 655.9 L1838.5 655.1 L1839.5 654.8 L1840.5 654.6 L1841.5 654.0 L1842.5 653.9 L1843.5 654.1 L1844.5 654.5 L1845.5 655.8 L1846.5 657.3 L1847.5 658.2 L1848.5 659.0 L1849.5 660.2 L1850.5 661.3 L1851.5 662.0 L1852.5 662.5 L1853.5 663.1 L1854.5 663.6 L1855.5 663.8 L1856.5 663.9 L1857.5 663.4 L1858.5 662.0 L1859.5 660.1 L1860.5 657.8 L1861.5 654.8 L1862.5 651.5 L1863.5 649.0 L1864.5 647.5 L1865.5 645.8 L1866.5 643.5 L1867.5 641.5 L1868.5 639.9 L1869.5 638.3 L1870.5 637.0 L1871.5 636.5 L1872.5 636.7 L1873.5 637.6 L1874.5 639.0 L1875.5 640.8 L1876.5 643.2 L1877.5 645.3 L1878.5 646.7 L1879.5 647.7 L1880.5 649.1 L1881.5 650.8 L1882.5 652.1 L1883.5 652.9 L1884.5 653.5 L1885.5 653.7 L1886.5 653.9 L1887.5 653.8 L1888.5 653.0 L1889.5 652.0 L1890.5 651.0 L1891.5 650.2 L1892.5 649.7 L1893.5 649.0 L1894.5 647.6 L1895.5 646.6 L1896.5 645.9 L1897.5 644.6 L1898.5 643.6 L1899.5 642.7 L1900.5 641.6 L1901.5 640.4 L1902.5 639.3 L1903.5 638.7 L1904.5 638.5 L1905.5 638.3 L1906.5 638.3 L1907.5 638.5 L1908.5 638.8 L1909.5 639.3 L1910.5 639.8 L1911.5 640.3 L1912.5 640.6 L1913.5 640.6 L1914.5 639.6 L1915.5 636.4 L1916.5 632.6 L1917.5 628.9 L1918.5 626.2 L1919.5 624.3 L1920.5 624.9 L1921.5 628.8 L1922.5 634.8 L1923.5 641.4 L1924.5 646.7 L1925.5 650.6 L1926.5 654.5 L1927.5 658.2 L1928.5 661.9 L1929.5 664.7 L1930.5 666.1 L1931.5 667.4 L1932.5 668.5 L1933.5 668.6 L1934.5 669.1 L1935.5 670.0 L1936.5 671.2 L1937.5 672.7 L1938.5 673.2 L1939.5 673.4 L1940.5 673.6 L1941.5 673.3 L1942.5 673.9 L1943.5 675.3 L1944.5 676.2 L1945.5 676.2 L1946.5 676.0 L1947.5 676.0 L1948.5 676.3 L1949.5 676.5 L1950.5 676.8 L1951.5 676.9 L1952.5 676.6 L1953.5 676.2 L1954.5 676.5 L1955.5 676.8 L1956.5 676.5 L1957.5 676.8 L1958.5 677.0 L1959.5 676.7 L1960.5 676.4 L1961.5 676.1 L1962.5 675.7 L1963.5 676.4 L1964.5 677.2 L1965.5 676.7 L1966.5 676.2 L1967.5 676.6 L1968.5 677.2 L1969.5 677.0 L1970.5 676.8 L1971.5 677.0 L1972.5 677.4 L1973.5 678.0 L1974.5 677.6 L1975.5 676.6 L1976.5 676.1 L1977.5 676.5 L1978.5 676.8 L1979.5 677.0 L1980.5 676.7 L1981.5 676.5 L1982.5 677.0 L1983.5 677.0 L1984.5 676.6 L1985.5 676.5 L1986.5 676.4 L1987.5 676.4 L1988.5 676.4 L1989.5 676.0 L1990.5 675.9 L1991.5 676.1 L1992.5 676.4 L1993.5 676.5 L1994.5 676.2 L1995.5 675.2 L1996.5 674.8 L1997.5 675.4 L1998.5 675.2 L1999.5 674.8 L2000.5 675.4 L2001.5 675.6 L2002.5 675.1 L2003.5 674.7 L2004.5 674.4 L2005.5 674.5 L2006.5 674.8 L2007.5 674.9 L2008.5 674.7 L2009.5 674.9 L2010.5 675.5 L2011.5 676.1 L2012.5 676.4 L2013.5 675.8 L2014.5 675.6 L2015.5 675.9 L2016.5 675.8 L2017.5 675.8 L2018.5 676.2 L2019.5 676.7 L2020.5 677.0 L2021.5 677.4 L2022.5 678.1 L2023.5 678.5 L2024.5 678.6 L2025.5 678.3 L2026.5 678.0 L2027.5 677.7 L2028.5 677.9 L2029.5 678.7 L2030.5 679.3 L2031.5 678.9 L2032.5 678.4 L2033.5 678.7 L2034.5 678.5 L2035.5 678.3 L2036.5 678.4 L2037.5 677.9 L2038.5 677.3 L2039.5 677.1 L2040.5 676.8 L2041.5 676.8 L2042.5 676.8 L2043.5 675.9 L2044.5 675.6 L2045.5 676.2 L2046.5 676.3 L2047.5 676.2 L2048.5 676.0 L2049.5 675.8 L2050.5 675.8 L2051.5 675.3 L2052.5 675.3 L2053.5 675.8 L2054.5 675.6 L2055.5 675.2 L2056.5 675.2 L2057.5 675.8 L2058.5 675.8 L2059.5 675.2 L2060.5 675.2 L2061.5 675.3 L2062.5 674.8 L2063.5 674.6 L2064.5 675.3 L2065.5 675.1 L2066.5 674.2 L2067.5 674.5 L2068.5 675.4 L2069.5 675.0 L2070.5 674.0 L2071.5 673.9 L2072.5 674.0 L2073.5 673.8 L2074.5 672.9 L2075.5 671.6 L2076.5 670.5 L2077.5 669.4 L2078.5 668.5 L2079.5 668.9 L2080.5 669.8 L2081.5 671.2 L2082.5 673.1 L2083.5 674.3 L2084.5 674.6 L2085.5 675.1 L2086.5 675.5 L2087.5 676.2 L2088.5 677.0 L2089.5 677.0 L2090.5 676.6 L2091.5 676.6 L2095.4 676.9" stroke="#EF3B3E"/>
<path d="M131.0 853.0 L134.5 853.1 L135.5 853.2 L136.5 853.2 L137.5 853.2 L138.5 853.2 L139.5 853.2 L140.5 853.1 L141.5 852.8 L142.5 852.7 L143.5 852.7 L144.5 852.9 L145.5 852.9 L146.5 853.0 L147.5 852.9 L148.5 853.0 L149.5 853.1 L150.5 853.0 L151.5 852.8 L152.5 852.7 L153.5 852.9 L154.5 852.9 L155.5 852.7 L156.5 852.7 L157.5 852.6 L158.5 852.5 L159.5 852.6 L160.5 852.7 L161.5 852.6 L162.5 852.7 L163.5 852.9 L164.5 852.7 L165.5 852.6 L166.5 852.7 L167.5 852.7 L168.5 852.6 L169.5 852.4 L170.5 852.4 L171.5 852.5 L172.5 852.6 L173.5 852.7 L174.5 852.6 L175.5 852.6 L176.5 852.8 L177.5 852.6 L178.5 852.4 L179.5 852.5 L180.5 852.6 L181.5 852.6 L182.5 852.6 L183.5 852.5 L184.5 852.4 L185.5 852.5 L186.5 852.8 L187.5 852.8 L188.5 852.7 L189.5 852.6 L190.5 852.6 L191.5 852.4 L192.5 852.4 L193.5 852.3 L194.5 852.2 L195.5 852.3 L196.5 852.6 L197.5 852.6 L198.5 852.5 L199.5 852.5 L200.5 852.7 L201.5 852.7 L202.5 852.5 L203.5 852.3 L204.5 852.5 L205.5 852.5 L206.5 852.5 L207.5 852.5 L208.5 852.5 L209.5 852.6 L210.5 852.5 L211.5 852.6 L212.5 852.6 L213.5 852.5 L214.5 852.5 L215.5 852.7 L216.5 852.8 L217.5 852.6 L218.5 852.5 L219.5 852.7 L220.5 852.8 L221.5 852.6 L222.5 852.5 L223.5 852.8 L224.5 853.1 L225.5 853.0 L226.5 852.9 L227.5 852.8 L228.5 852.8 L229.5 852.7 L230.5 852.7 L231.5 852.7 L232.5 852.7 L233.5 852.7 L234.5 852.7 L235.5 852.8 L236.5 852.9 L237.5 852.9 L238.5 852.8 L239.5 852.8 L240.5 852.8 L241.5 852.9 L242.5 852.9 L243.5 852.7 L244.5 852.9 L245.5 853.2 L246.5 853.1 L247.5 853.0 L248.5 853.0 L249.5 853.1 L250.5 853.1 L251.5 853.2 L252.5 853.2 L253.5 853.2 L254.5 853.1 L255.5 852.9 L256.5 852.8 L257.5 852.9 L258.5 852.9 L259.5 852.9 L260.5 852.9 L261.5 852.8 L262.5 852.7 L263.5 852.7 L264.5 852.8 L265.5 852.8 L266.5 852.6 L267.5 852.5 L268.5 852.4 L269.5 852.5 L270.5 852.5 L271.5 852.5 L272.5 852.5 L273.5 852.4 L274.5 852.2 L275.5 851.9 L276.5 851.8 L277.5 851.9 L278.5 851.9 L279.5 851.8 L280.5 851.8 L281.5 851.8 L282.5 851.7 L283.5 851.5 L284.5 851.3 L285.5 851.1 L286.5 851.0 L287.5 850.9 L288.5 850.4 L289.5 849.9 L290.5 849.6 L291.5 849.3 L292.5 848.9 L293.5 848.3 L294.5 847.8 L295.5 847.4 L296.5 847.2 L297.5 846.8 L298.5 846.1 L299.5 845.5 L300.5 845.0 L301.5 844.4 L302.5 843.9 L303.5 843.4 L304.5 842.8 L305.5 842.4 L306.5 841.9 L307.5 841.3 L308.5 840.9 L309.5 840.4 L310.5 840.0 L311.5 839.7 L312.5 839.3 L313.5 838.9 L314.5 838.5 L315.5 838.1 L316.5 837.8 L317.5 837.6 L318.5 837.4 L319.5 837.1 L320.5 836.8 L321.5 836.5 L322.5 836.2 L323.5 836.0 L324.5 835.8 L325.5 835.4 L326.5 834.9 L327.5 834.6 L328.5 834.4 L329.5 834.2 L330.5 833.9 L331.5 833.6 L332.5 833.2 L333.5 832.7 L334.5 832.3 L335.5 831.9 L336.5 831.7 L337.5 831.6 L338.5 831.1 L339.5 830.3 L340.5 829.9 L341.5 829.6 L342.5 829.2 L343.5 828.6 L344.5 828.2 L345.5 828.0 L346.5 827.6 L347.5 827.3 L348.5 826.9 L349.5 826.4 L350.5 825.9 L351.5 825.5 L352.5 825.1 L353.5 824.6 L354.5 824.3 L355.5 823.7 L356.5 823.3 L357.5 823.1 L358.5 822.7 L359.5 822.1 L360.5 821.7 L361.5 821.4 L362.5 820.9 L363.5 820.4 L364.5 819.9 L365.5 819.3 L366.5 818.8 L367.5 818.4 L368.5 818.2 L369.5 817.7 L370.5 817.1 L371.5 816.8 L372.5 816.2 L373.5 815.5 L374.5 815.2 L375.5 814.9 L376.5 814.3 L377.5 813.8 L378.5 813.5 L379.5 813.0 L380.5 812.5 L381.5 812.0 L382.5 811.8 L383.5 811.4 L384.5 810.8 L385.5 810.4 L386.5 810.1 L387.5 809.7 L388.5 809.3 L389.5 809.1 L390.5 808.8 L391.5 808.3 L392.5 808.0 L393.5 807.7 L394.5 807.1 L395.5 806.6 L396.5 806.4 L397.5 806.0 L398.5 805.5 L399.5 805.1 L400.5 804.8 L401.5 804.6 L402.5 804.2 L403.5 803.7 L404.5 803.5 L405.5 803.1 L406.5 802.6 L407.5 802.5 L408.5 802.3 L409.5 801.9 L410.5 801.6 L411.5 801.0 L412.5 800.6 L413.5 800.3 L414.5 799.9 L415.5 799.5 L416.5 798.9 L417.5 798.8 L418.5 798.8 L419.5 798.3 L420.5 797.8 L421.5 797.3 L422.5 796.9 L423.5 796.5 L424.5 796.1 L425.5 795.6 L426.5 795.2 L427.5 794.8 L428.5 794.3 L429.5 793.9 L430.5 793.8 L431.5 793.5 L432.5 793.1 L433.5 792.9 L434.5 792.6 L435.5 792.3 L436.5 792.0 L437.5 791.8 L438.5 791.5 L439.5 791.2 L440.5 791.1 L441.5 791.0 L442.5 790.8 L443.5 790.6 L444.5 790.7 L445.5 790.7 L446.5 790.3 L447.5 789.9 L448.5 789.9 L449.5 789.9 L450.5 789.7 L451.5 789.8 L452.5 790.0 L453.5 790.0 L454.5 789.9 L455.5 789.8 L456.5 789.8 L457.5 789.7 L458.5 789.6 L459.5 789.5 L460.5 789.4 L461.5 789.4 L462.5 789.5 L463.5 789.5 L464.5 789.6 L465.5 789.7 L466.5 789.8 L467.5 789.9 L468.5 790.2 L469.5 790.5 L470.5 790.6 L471.5 790.7 L472.5 791.0 L473.5 791.1 L474.5 791.2 L475.5 791.3 L476.5 791.4 L477.5 791.9 L478.5 792.3 L479.5 792.5 L480.5 792.7 L481.5 793.1 L482.5 793.3 L483.5 793.5 L484.5 793.9 L485.5 794.3 L486.5 794.7 L487.5 795.2 L488.5 795.5 L489.5 795.7 L490.5 795.7 L491.5 795.8 L492.5 796.0 L493.5 796.5 L494.5 797.0 L495.5 797.2 L496.5 797.2 L497.5 797.5 L498.5 797.8 L499.5 797.9 L500.5 798.2 L501.5 798.4 L502.5 798.7 L503.5 799.0 L504.5 799.2 L505.5 799.4 L506.5 799.7 L507.5 799.8 L508.5 799.9 L509.5 800.4 L510.5 800.8 L511.5 800.9 L512.5 801.2 L513.5 801.5 L514.5 801.6 L515.5 801.9 L516.5 802.2 L517.5 802.5 L518.5 802.6 L519.5 803.0 L520.5 803.2 L521.5 803.4 L522.5 803.8 L523.5 804.2 L524.5 804.3 L525.5 804.5 L526.5 804.8 L527.5 804.9 L528.5 805.2 L529.5 805.7 L530.5 805.8 L531.5 805.8 L532.5 806.0 L533.5 806.4 L534.5 806.8 L535.5 806.9 L536.5 807.1 L537.5 807.2 L538.5 807.4 L539.5 807.8 L540.5 808.3 L541.5 808.7 L542.5 808.8 L543.5 809.1 L544.5 809.5 L545.5 809.9 L546.5 810.3 L547.5 810.8 L548.5 811.2 L549.5 811.9 L550.5 812.5 L551.5 812.8 L552.5 813.2 L553.5 813.8 L554.5 814.3 L555.5 814.6 L556.5 815.0 L557.5 815.6 L558.5 816.2 L559.5 816.7 L560.5 817.2 L561.5 817.6 L562.5 818.0 L563.5 818.2 L564.5 818.7 L565.5 819.3 L566.5 819.9 L567.5 820.4 L568.5 820.8 L569.5 821.4 L570.5 822.0 L571.5 822.5 L572.5 822.9 L573.5 823.6 L574.5 824.0 L575.5 824.4 L576.5 824.9 L577.5 825.6 L578.5 826.1 L579.5 826.6 L580.5 827.0 L581.5 827.4 L582.5 828.2 L583.5 828.9 L584.5 829.3 L585.5 829.7 L586.5 830.4 L587.5 831.1 L588.5 831.7 L589.5 832.1 L590.5 832.6 L591.5 833.3 L592.5 834.0 L593.5 834.6 L594.5 835.2 L595.5 835.7 L596.5 836.1 L597.5 836.5 L598.5 837.0 L599.5 837.6 L600.5 838.1 L601.5 838.4 L602.5 838.7 L603.5 839.2 L604.5 839.6 L605.5 840.1 L606.5 840.6 L607.5 841.0 L608.5 841.3 L609.5 841.6 L610.5 842.0 L611.5 842.6 L612.5 842.9 L613.5 843.0 L614.5 843.4 L615.5 843.7 L616.5 844.1 L617.5 844.5 L618.5 844.8 L619.5 845.1 L620.5 845.5 L621.5 845.8 L622.5 846.1 L623.5 846.3 L624.5 846.5 L625.5 846.7 L626.5 847.0 L627.5 847.3 L628.5 847.5 L629.5 847.7 L630.5 847.9 L631.5 848.2 L632.5 848.5 L633.5 848.8 L634.5 849.0 L635.5 849.2 L636.5 849.5 L637.5 849.6 L638.5 849.6 L639.5 849.9 L640.5 850.0 L641.5 850.2 L642.5 850.3 L643.5 850.5 L644.5 850.7 L645.5 850.8 L646.5 851.0 L647.5 851.4 L648.5 851.6 L649.5 851.5 L650.5 851.4 L651.5 851.5 L652.5 851.6 L653.5 851.7 L654.5 851.8 L655.5 851.8 L656.5 851.8 L657.5 851.5 L658.5 851.2 L659.5 851.0 L660.5 850.8 L661.5 850.5 L662.5 850.0 L663.5 849.6 L664.5 849.2 L665.5 848.9 L666.5 848.5 L667.5 848.1 L668.5 847.7 L669.5 847.1 L670.5 846.3 L671.5 845.5 L672.5 844.8 L673.5 844.0 L674.5 843.2 L675.5 842.4 L676.5 841.4 L677.5 840.5 L678.5 839.4 L679.5 838.1 L680.5 836.6 L681.5 835.1 L682.5 833.7 L683.5 831.9 L684.5 830.0 L685.5 827.8 L686.5 825.0 L687.5 821.6 L688.5 816.8 L689.5 810.8 L690.5 804.0 L691.5 795.9 L692.5 787.5 L693.5 779.0 L694.5 770.2 L695.5 761.3 L696.5 751.7 L697.5 743.4 L698.5 737.7 L699.5 734.3 L700.5 734.7 L701.5 735.8 L702.5 736.5 L703.5 736.8 L704.5 736.7 L705.5 736.4 L706.5 736.4 L707.5 736.3 L708.5 733.5 L709.5 729.0 L710.5 718.0 L711.5 703.0 L712.5 686.1 L713.5 667.9 L714.5 649.2 L715.5 630.0 L716.5 612.2 L717.5 594.4 L718.5 580.4 L719.5 573.1 L720.5 568.6 L721.5 568.7 L722.5 573.5 L723.5 582.6 L724.5 599.6 L725.5 613.2 L726.5 624.7 L727.5 635.2 L728.5 645.3 L729.5 654.9 L730.5 664.1 L731.5 673.0 L732.5 681.6 L733.5 690.0 L734.5 698.3 L735.5 706.1 L736.5 713.3 L737.5 719.8 L738.5 726.2 L739.5 732.0 L740.5 736.4 L741.5 739.2 L742.5 741.4 L743.5 742.6 L744.5 742.0 L745.5 740.6 L746.5 738.7 L747.5 735.7 L748.5 732.0 L749.5 728.4 L750.5 725.9 L751.5 724.7 L752.5 722.9 L753.5 716.1 L754.5 699.9 L755.5 684.0 L756.5 668.1 L757.5 657.9 L758.5 652.1 L759.5 656.0 L760.5 665.1 L761.5 682.5 L762.5 701.3 L763.5 718.7 L764.5 734.0 L765.5 747.7 L766.5 759.9 L767.5 771.1 L768.5 781.4 L769.5 789.5 L770.5 795.6 L771.5 800.8 L772.5 805.3 L773.5 809.1 L774.5 812.6 L775.5 815.8 L776.5 818.8 L777.5 821.2 L778.5 823.4 L779.5 825.4 L780.5 827.2 L781.5 828.9 L782.5 830.6 L783.5 832.1 L784.5 833.2 L785.5 834.1 L786.5 834.9 L787.5 835.9 L788.5 836.9 L789.5 837.7 L790.5 838.6 L791.5 839.4 L792.5 840.2 L793.5 841.0 L794.5 841.9 L795.5 842.9 L796.5 843.7 L797.5 844.6 L798.5 845.5 L799.5 846.1 L800.5 846.5 L801.5 847.0 L802.5 847.6 L803.5 848.3 L804.5 849.0 L805.5 849.3 L806.5 849.4 L807.5 849.6 L808.5 849.8 L809.5 849.9 L810.5 850.0 L811.5 850.0 L812.5 850.2 L813.5 850.3 L814.5 850.1 L815.5 850.1 L816.5 850.3 L817.5 850.3 L818.5 850.4 L819.5 850.5 L820.5 850.3 L821.5 850.2 L822.5 850.6 L823.5 850.6 L824.5 850.3 L825.5 850.2 L826.5 850.3 L827.5 850.6 L828.5 850.8 L829.5 851.0 L830.5 851.2 L831.5 851.5 L832.5 851.9 L833.5 852.2 L834.5 852.5 L835.5 852.7 L836.5 852.7 L837.5 852.6 L838.5 852.7 L839.5 852.8 L840.5 852.8 L841.5 852.7 L842.5 852.8 L843.5 853.0 L844.5 852.9 L845.5 852.8 L846.5 852.8 L847.5 852.8 L848.5 852.8 L849.5 852.8 L850.5 852.7 L851.5 852.7 L852.5 852.7 L853.5 852.9 L854.5 853.0 L855.5 852.9 L856.5 852.7 L857.5 852.8 L858.5 852.9 L859.5 852.9 L860.5 852.9 L861.5 852.9 L862.5 852.9 L863.5 852.7 L864.5 852.6 L865.5 852.9 L866.5 853.1 L867.5 853.0 L868.5 853.0 L869.5 853.0 L870.5 852.7 L871.5 852.6 L872.5 852.7 L873.5 852.9 L874.5 853.0 L875.5 852.9 L876.5 852.8 L877.5 852.9 L878.5 852.8 L879.5 852.7 L880.5 852.6 L881.5 852.5 L882.5 852.5 L883.5 852.4 L884.5 852.3 L885.5 852.5 L886.5 852.7 L887.5 852.5 L888.5 852.4 L889.5 852.6 L890.5 852.8 L891.5 852.8 L892.5 852.8 L893.5 852.6 L894.5 852.3 L895.5 852.5 L896.5 852.8 L897.5 852.6 L898.5 852.3 L899.5 852.5 L900.5 852.5 L901.5 852.3 L902.5 852.3 L903.5 852.5 L904.5 852.5 L905.5 852.3 L906.5 852.2 L907.5 852.3 L908.5 852.3 L909.5 852.2 L910.5 852.2 L911.5 852.3 L912.5 852.3 L913.5 852.4 L914.5 852.3 L915.5 852.3 L916.5 852.3 L917.5 852.2 L918.5 852.1 L919.5 852.1 L920.5 852.0 L921.5 851.8 L922.5 851.7 L923.5 851.6 L924.5 851.5 L925.5 851.4 L926.5 851.2 L927.5 851.2 L928.5 851.1 L929.5 850.9 L930.5 850.9 L931.5 850.9 L932.5 851.0 L933.5 851.0 L934.5 851.0 L935.5 851.2 L936.5 851.2 L937.5 851.1 L938.5 851.1 L939.5 850.9 L940.5 850.8 L941.5 850.9 L942.5 850.9 L943.5 850.9 L944.5 851.1 L945.5 851.1 L946.5 851.2 L947.5 851.5 L948.5 851.6 L949.5 851.5 L950.5 851.6 L951.5 851.7 L952.5 851.7 L953.5 851.6 L954.5 851.4 L955.5 851.6 L956.5 851.9 L957.5 851.9 L958.5 851.8 L959.5 851.9 L960.5 852.0 L961.5 852.1 L962.5 851.9 L963.5 851.9 L964.5 852.0 L965.5 851.9 L966.5 851.9 L967.5 852.2 L968.5 852.4 L969.5 852.2 L970.5 852.1 L971.5 852.0 L972.5 852.0 L973.5 851.9 L974.5 851.9 L975.5 851.8 L976.5 851.9 L977.5 852.0 L978.5 852.0 L979.5 852.0 L980.5 851.9 L981.5 851.9 L982.5 851.8 L983.5 851.7 L984.5 851.7 L985.5 851.6 L986.5 851.6 L987.5 851.5 L988.5 851.6 L989.5 851.8 L990.5 851.8 L991.5 851.5 L992.5 851.6 L993.5 851.8 L994.5 851.9 L995.5 851.7 L996.5 851.6 L997.5 851.7 L998.5 851.6 L999.5 851.4 L1000.5 851.6 L1001.5 851.8 L1002.5 851.6 L1003.5 851.3 L1004.5 851.3 L1005.5 851.6 L1006.5 851.6 L1007.5 851.6 L1008.5 851.7 L1009.5 851.8 L1010.5 852.0 L1011.5 852.3 L1012.5 852.5 L1013.5 852.7 L1014.5 853.0 L1015.5 853.2 L1016.5 853.5 L1017.5 853.8 L1018.5 854.0 L1019.5 854.1 L1020.5 853.8 L1021.5 853.7 L1022.5 853.8 L1023.5 854.0 L1024.5 854.1 L1025.5 853.9 L1026.5 853.8 L1027.5 853.8 L1028.5 853.9 L1029.5 854.0 L1030.5 853.9 L1031.5 853.9 L1032.5 853.9 L1033.5 853.5 L1034.5 853.3 L1035.5 853.1 L1036.5 852.9 L1037.5 852.8 L1038.5 852.7 L1039.5 852.7 L1040.5 852.7 L1041.5 852.5 L1042.5 852.4 L1043.5 852.3 L1044.5 852.1 L1045.5 852.1 L1046.5 852.2 L1047.5 852.4 L1048.5 852.4 L1049.5 852.4 L1050.5 852.2 L1051.5 851.9 L1052.5 851.9 L1053.5 852.2 L1054.5 852.3 L1055.5 852.2 L1056.5 852.1 L1057.5 852.0 L1058.5 852.0 L1059.5 852.3 L1060.5 852.5 L1061.5 852.5 L1062.5 852.5 L1063.5 852.4 L1064.5 852.2 L1065.5 852.3 L1066.5 852.8 L1067.5 853.1 L1068.5 852.9 L1069.5 852.8 L1070.5 852.7 L1071.5 852.6 L1072.5 852.7 L1073.5 853.0 L1074.5 853.2 L1075.5 853.2 L1076.5 853.2 L1077.5 853.0 L1078.5 853.0 L1079.5 853.2 L1080.5 853.4 L1081.5 853.5 L1082.5 853.3 L1083.5 853.3 L1084.5 853.6 L1085.5 853.6 L1086.5 853.7 L1087.5 854.0 L1088.5 854.0 L1089.5 853.9 L1090.5 853.8 L1091.5 853.6 L1092.5 853.7 L1093.5 853.9 L1094.5 853.8 L1095.5 853.7 L1096.5 853.7 L1097.5 853.7 L1098.5 853.8 L1099.5 853.9 L1100.5 854.1 L1101.5 854.0 L1102.5 854.0 L1103.5 854.0 L1104.5 854.0 L1105.5 853.9 L1106.5 853.7 L1107.5 853.8 L1108.5 853.9 L1109.5 853.9 L1110.5 853.9 L1111.5 853.9 L1112.5 854.0 L1113.5 854.1 L1114.5 853.9 L1115.5 853.7 L1116.5 853.7 L1117.5 853.9 L1118.5 853.8 L1119.5 853.8 L1120.5 854.0 L1121.5 854.1 L1122.5 854.0 L1123.5 854.0 L1124.5 853.9 L1125.5 853.8 L1126.5 853.9 L1127.5 853.9 L1128.5 853.8 L1129.5 853.7 L1130.5 853.6 L1131.5 853.7 L1132.5 853.7 L1133.5 853.6 L1134.5 853.6 L1135.5 853.7 L1136.5 853.8 L1137.5 853.8 L1138.5 853.8 L1139.5 853.9 L1140.5 854.0 L1141.5 854.0 L1142.5 853.9 L1143.5 854.0 L1144.5 854.0 L1145.5 853.9 L1146.5 853.8 L1147.5 853.8 L1148.5 853.8 L1149.5 853.9 L1150.5 853.9 L1151.5 854.0 L1152.5 853.9 L1153.5 853.8 L1154.5 853.7 L1155.5 853.6 L1156.5 853.8 L1157.5 854.1 L1158.5 854.1 L1159.5 854.1 L1160.5 854.1 L1161.5 853.9 L1162.5 853.7 L1163.5 853.8 L1164.5 853.8 L1165.5 853.7 L1166.5 853.5 L1167.5 853.6 L1168.5 853.8 L1169.5 854.0 L1170.5 854.0 L1171.5 854.0 L1172.5 853.9 L1173.5 853.9 L1174.5 854.0 L1175.5 854.0 L1176.5 853.9 L1177.5 853.8 L1178.5 853.8 L1179.5 853.8 L1180.5 853.8 L1181.5 853.9 L1182.5 854.0 L1183.5 854.1 L1184.5 854.2 L1185.5 854.1 L1186.5 854.0 L1187.5 854.0 L1188.5 854.0 L1189.5 853.9 L1190.5 853.7 L1191.5 853.8 L1192.5 854.0 L1193.5 853.9 L1194.5 854.1 L1195.5 854.2 L1196.5 854.1 L1197.5 854.1 L1198.5 854.3 L1199.5 854.6 L1200.5 854.4 L1201.5 854.3 L1202.5 854.4 L1203.5 854.4 L1204.5 854.5 L1205.5 854.5 L1206.5 854.5 L1207.5 854.6 L1208.5 854.5 L1209.5 854.6 L1210.5 854.6 L1211.5 854.6 L1212.5 854.6 L1213.5 854.5 L1214.5 854.4 L1215.5 854.6 L1216.5 854.7 L1217.5 854.7 L1218.5 854.9 L1219.5 854.8 L1220.5 854.6 L1221.5 854.7 L1222.5 854.8 L1223.5 854.8 L1224.5 854.9 L1225.5 855.0 L1226.5 854.9 L1227.5 854.9 L1228.5 854.8 L1229.5 854.8 L1230.5 854.9 L1231.5 854.9 L1232.5 854.9 L1233.5 854.9 L1234.5 854.8 L1235.5 854.9 L1236.5 855.0 L1237.5 855.0 L1238.5 855.0 L1239.5 855.0 L1240.5 854.9 L1241.5 854.6 L1242.5 854.6 L1243.5 854.6 L1244.5 854.6 L1245.5 854.4 L1246.5 854.3 L1247.5 854.4 L1248.5 854.2 L1249.5 854.1 L1250.5 853.9 L1251.5 853.6 L1252.5 853.3 L1253.5 853.2 L1254.5 853.3 L1255.5 853.3 L1256.5 853.0 L1257.5 852.7 L1258.5 852.7 L1259.5 852.7 L1260.5 852.4 L1261.5 852.0 L1262.5 851.8 L1263.5 851.8 L1264.5 851.8 L1265.5 851.9 L1266.5 852.1 L1267.5 852.1 L1268.5 852.1 L1269.5 852.1 L1270.5 852.0 L1271.5 851.9 L1272.5 851.9 L1273.5 852.1 L1274.5 852.1 L1275.5 851.8 L1276.5 852.0 L1277.5 852.0 L1278.5 852.0 L1279.5 852.1 L1280.5 852.1 L1281.5 852.1 L1282.5 852.2 L1283.5 852.3 L1284.5 852.3 L1285.5 852.3 L1286.5 852.4 L1287.5 852.6 L1288.5 852.8 L1289.5 852.8 L1290.5 852.7 L1291.5 852.6 L1292.5 852.7 L1293.5 852.9 L1294.5 853.1 L1295.5 853.2 L1296.5 853.2 L1297.5 853.2 L1298.5 853.1 L1299.5 853.1 L1300.5 853.4 L1301.5 853.5 L1302.5 853.5 L1303.5 853.6 L1304.5 853.6 L1305.5 853.5 L1306.5 853.5 L1307.5 853.5 L1308.5 853.7 L1309.5 854.0 L1310.5 854.1 L1311.5 854.1 L1312.5 854.2 L1313.5 854.2 L1314.5 854.1 L1315.5 854.2 L1316.5 854.2 L1317.5 854.3 L1318.5 854.3 L1319.5 854.3 L1320.5 854.5 L1321.5 854.5 L1322.5 854.4 L1323.5 854.4 L1324.5 854.3 L1325.5 854.2 L1326.5 854.4 L1327.5 854.5 L1328.5 854.3 L1329.5 854.4 L1330.5 854.6 L1331.5 854.5 L1332.5 854.2 L1333.5 854.2 L1334.5 854.2 L1335.5 854.1 L1336.5 854.0 L1337.5 854.2 L1338.5 854.0 L1339.5 853.7 L1340.5 853.6 L1341.5 853.6 L1342.5 853.3 L1343.5 853.1 L1344.5 853.1 L1345.5 853.2 L1346.5 853.2 L1347.5 852.9 L1348.5 852.8 L1349.5 852.8 L1350.5 852.7 L1351.5 852.2 L1352.5 852.2 L1353.5 852.3 L1354.5 852.6 L1355.5 852.8 L1356.5 852.8 L1357.5 852.5 L1358.5 852.0 L1359.5 852.0 L1360.5 852.0 L1361.5 852.1 L1362.5 852.2 L1363.5 851.9 L1364.5 851.9 L1365.5 852.0 L1366.5 852.1 L1367.5 852.3 L1368.5 852.5 L1369.5 852.3 L1370.5 851.9 L1371.5 851.4 L1372.5 850.8 L1373.5 850.0 L1374.5 848.9 L1375.5 848.0 L1376.5 847.1 L1377.5 846.2 L1378.5 845.3 L1379.5 844.9 L1380.5 844.8 L1381.5 844.5 L1382.5 843.8 L1383.5 842.9 L1384.5 842.2 L1385.5 842.0 L1386.5 841.2 L1387.5 839.7 L1388.5 838.4 L1389.5 838.0 L1390.5 837.8 L1391.5 837.7 L1392.5 838.5 L1393.5 840.1 L1394.5 841.7 L1395.5 842.7 L1396.5 843.2 L1397.5 843.9 L1398.5 844.7 L1399.5 845.3 L1400.5 846.2 L1401.5 846.8 L1402.5 846.8 L1403.5 846.1 L1404.5 844.2 L1405.5 841.4 L1406.5 838.5 L1407.5 836.5 L1408.5 835.5 L1409.5 834.1 L1410.5 832.8 L1411.5 831.9 L1412.5 831.1 L1413.5 830.3 L1414.5 829.2 L1415.5 828.0 L1416.5 827.0 L1417.5 826.2 L1418.5 825.0 L1419.5 823.8 L1420.5 822.5 L1421.5 821.1 L1422.5 819.9 L1423.5 818.6 L1424.5 817.5 L1425.5 816.8 L1426.5 816.0 L1427.5 815.0 L1428.5 814.3 L1429.5 813.7 L1430.5 812.8 L1431.5 812.0 L1432.5 811.4 L1433.5 810.2 L1434.5 809.1 L1435.5 808.4 L1436.5 807.1 L1437.5 805.7 L1438.5 804.9 L1439.5 804.5 L1440.5 803.6 L1441.5 802.9 L1442.5 803.1 L1443.5 803.8 L1444.5 804.1 L1445.5 804.2 L1446.5 804.5 L1447.5 805.3 L1448.5 806.3 L1449.5 806.9 L1450.5 807.6 L1451.5 808.6 L1452.5 809.3 L1453.5 810.2 L1454.5 811.2 L1455.5 812.1 L1456.5 813.1 L1457.5 814.7 L1458.5 816.0 L1459.5 817.2 L1460.5 818.5 L1461.5 819.8 L1462.5 821.4 L1463.5 822.7 L1464.5 823.4 L1465.5 824.4 L1466.5 825.7 L1467.5 826.9 L1468.5 828.5 L1469.5 830.0 L1470.5 831.1 L1471.5 832.2 L1472.5 833.2 L1473.5 834.1 L1474.5 835.1 L1475.5 836.1 L1476.5 837.2 L1477.5 838.3 L1478.5 838.9 L1479.5 839.8 L1480.5 841.0 L1481.5 842.0 L1482.5 843.2 L1483.5 844.2 L1484.5 844.8 L1485.5 845.3 L1486.5 846.3 L1487.5 847.2 L1488.5 847.8 L1489.5 848.3 L1490.5 848.8 L1491.5 849.4 L1492.5 850.3 L1493.5 850.8 L1494.5 851.2 L1495.5 851.8 L1496.5 852.4 L1497.5 852.6 L1498.5 852.7 L1499.5 852.7 L1500.5 852.0 L1501.5 851.5 L1502.5 850.8 L1503.5 849.7 L1504.5 848.3 L1505.5 846.7 L1506.5 843.8 L1507.5 837.2 L1508.5 828.5 L1509.5 818.9 L1510.5 807.4 L1511.5 792.5 L1512.5 777.4 L1513.5 765.7 L1514.5 757.8 L1515.5 750.3 L1516.5 743.5 L1517.5 738.0 L1518.5 734.2 L1519.5 732.5 L1520.5 733.7 L1521.5 736.5 L1522.5 740.8 L1523.5 745.7 L1524.5 750.1 L1525.5 754.3 L1526.5 758.8 L1527.5 763.7 L1528.5 768.7 L1529.5 773.9 L1530.5 779.0 L1531.5 784.7 L1532.5 791.7 L1533.5 799.1 L1534.5 805.7 L1535.5 810.4 L1536.5 812.5 L1537.5 814.4 L1538.5 815.5 L1539.5 816.1 L1540.5 816.9 L1541.5 818.0 L1542.5 819.1 L1543.5 820.1 L1544.5 820.8 L1545.5 821.5 L1546.5 822.4 L1547.5 823.6 L1548.5 824.5 L1549.5 825.1 L1550.5 825.9 L1551.5 826.7 L1552.5 826.6 L1553.5 826.2 L1554.5 825.1 L1555.5 822.5 L1556.5 818.7 L1557.5 814.4 L1558.5 809.4 L1559.5 800.5 L1560.5 789.9 L1561.5 781.0 L1562.5 777.3 L1563.5 779.2 L1564.5 784.0 L1565.5 790.5 L1566.5 797.3 L1567.5 802.9 L1568.5 806.8 L1569.5 810.6 L1570.5 814.1 L1571.5 817.2 L1572.5 820.0 L1573.5 821.7 L1574.5 822.3 L1575.5 822.9 L1576.5 823.5 L1577.5 823.7 L1578.5 823.8 L1579.5 824.0 L1580.5 824.6 L1581.5 824.8 L1582.5 824.6 L1583.5 824.6 L1584.5 824.4 L1585.5 824.3 L1586.5 824.6 L1587.5 825.0 L1588.5 824.9 L1589.5 824.6 L1590.5 824.0 L1591.5 823.6 L1592.5 823.1 L1593.5 822.9 L1594.5 823.1 L1595.5 823.1 L1596.5 822.5 L1597.5 822.2 L1598.5 822.8 L1599.5 823.7 L1600.5 824.5 L1601.5 825.0 L1602.5 825.7 L1603.5 826.5 L1604.5 827.3 L1605.5 828.3 L1606.5 828.8 L1607.5 829.5 L1608.5 830.3 L1609.5 830.3 L1610.5 830.4 L1611.5 831.5 L1612.5 832.4 L1613.5 832.7 L1614.5 833.0 L1615.5 833.2 L1616.5 833.5 L1617.5 833.3 L1618.5 832.8 L1619.5 832.2 L1620.5 831.6 L1621.5 831.2 L1622.5 830.6 L1623.5 829.8 L1624.5 829.1 L1625.5 828.3 L1626.5 827.8 L1627.5 827.9 L1628.5 828.0 L1629.5 828.1 L1630.5 828.3 L1631.5 828.0 L1632.5 827.8 L1633.5 828.0 L1634.5 828.3 L1635.5 828.5 L1636.5 828.7 L1637.5 829.1 L1638.5 829.1 L1639.5 829.0 L1640.5 829.2 L1641.5 830.1 L1642.5 831.1 L1643.5 831.6 L1644.5 831.9 L1645.5 832.4 L1646.5 833.4 L1647.5 834.0 L1648.5 834.5 L1649.5 835.1 L1650.5 835.7 L1651.5 836.3 L1652.5 836.9 L1653.5 837.5 L1654.5 838.0 L1655.5 838.2 L1656.5 838.6 L1657.5 839.5 L1658.5 840.2 L1659.5 840.3 L1660.5 840.5 L1661.5 841.0 L1662.5 841.8 L1663.5 842.6 L1664.5 842.6 L1665.5 842.2 L1666.5 842.1 L1667.5 842.4 L1668.5 842.6 L1669.5 842.4 L1670.5 841.9 L1671.5 841.3 L1672.5 840.3 L1673.5 840.0 L1674.5 839.7 L1675.5 838.9 L1676.5 838.2 L1677.5 837.7 L1678.5 837.6 L1679.5 837.9 L1680.5 838.5 L1681.5 839.0 L1682.5 839.9 L1683.5 841.4 L1684.5 842.8 L1685.5 844.2 L1686.5 845.3 L1687.5 846.1 L1688.5 846.8 L1689.5 847.0 L1690.5 846.8 L1691.5 847.1 L1692.5 847.3 L1693.5 846.8 L1694.5 846.2 L1695.5 846.3 L1696.5 846.3 L1697.5 846.1 L1698.5 846.2 L1699.5 846.6 L1700.5 846.4 L1701.5 846.2 L1702.5 846.2 L1703.5 846.3 L1704.5 846.5 L1705.5 846.4 L1706.5 845.9 L1707.5 845.6 L1708.5 845.7 L1709.5 846.0 L1710.5 845.9 L1711.5 845.7 L1712.5 845.6 L1713.5 845.4 L1714.5 845.3 L1715.5 845.8 L1716.5 846.0 L1717.5 845.5 L1718.5 845.0 L1719.5 845.3 L1720.5 845.6 L1721.5 845.2 L1722.5 844.6 L1723.5 844.5 L1724.5 844.7 L1725.5 844.9 L1726.5 844.4 L1727.5 844.5 L1728.5 844.8 L1729.5 844.7 L1730.5 844.7 L1731.5 844.9 L1732.5 844.9 L1733.5 844.6 L1734.5 844.4 L1735.5 844.5 L1736.5 844.7 L1737.5 844.8 L1738.5 844.4 L1739.5 843.5 L1740.5 842.7 L1741.5 841.9 L1742.5 840.7 L1743.5 839.4 L1744.5 838.1 L1745.5 837.1 L1746.5 836.1 L1747.5 835.3 L1748.5 834.6 L1749.5 833.7 L1750.5 832.6 L1751.5 831.8 L1752.5 832.2 L1753.5 832.7 L1754.5 833.1 L1755.5 833.5 L1756.5 834.1 L1757.5 835.5 L1758.5 837.3 L1759.5 838.7 L1760.5 839.3 L1761.5 840.0 L1762.5 841.1 L1763.5 842.3 L1764.5 843.4 L1765.5 844.8 L1766.5 846.4 L1767.5 847.7 L1768.5 848.6 L1769.5 849.5 L1770.5 850.7 L1771.5 851.6 L1772.5 852.3 L1773.5 852.8 L1774.5 853.0 L1775.5 853.2 L1776.5 853.4 L1777.5 853.4 L1778.5 853.5 L1779.5 854.0 L1780.5 854.0 L1781.5 853.7 L1782.5 853.3 L1783.5 853.2 L1784.5 853.7 L1785.5 854.0 L1786.5 853.8 L1787.5 853.8 L1788.5 853.8 L1789.5 853.9 L1790.5 854.0 L1791.5 853.8 L1792.5 853.9 L1793.5 854.1 L1794.5 853.8 L1795.5 853.4 L1796.5 853.5 L1797.5 854.1 L1798.5 854.7 L1799.5 854.6 L1800.5 854.6 L1801.5 854.6 L1802.5 854.7 L1803.5 854.5 L1804.5 854.1 L1805.5 854.3 L1806.5 854.8 L1807.5 854.9 L1808.5 855.0 L1809.5 855.0 L1810.5 854.5 L1811.5 854.0 L1812.5 854.1 L1813.5 854.8 L1814.5 855.1 L1815.5 854.3 L1816.5 853.0 L1817.5 852.4 L1818.5 851.6 L1819.5 850.5 L1820.5 848.8 L1821.5 847.3 L1822.5 846.8 L1823.5 845.9 L1824.5 844.5 L1825.5 843.2 L1826.5 841.8 L1827.5 841.0 L1828.5 840.4 L1829.5 839.3 L1830.5 837.9 L1831.5 836.7 L1832.5 835.6 L1833.5 834.9 L1834.5 834.4 L1835.5 833.8 L1836.5 832.8 L1837.5 831.7 L1838.5 831.0 L1839.5 830.4 L1840.5 829.9 L1841.5 829.6 L1842.5 829.6 L1843.5 830.0 L1844.5 830.0 L1845.5 830.0 L1846.5 830.4 L1847.5 831.4 L1848.5 832.4 L1849.5 832.8 L1850.5 833.8 L1851.5 834.7 L1852.5 835.1 L1853.5 835.8 L1854.5 836.7 L1855.5 837.2 L1856.5 836.9 L1857.5 836.1 L1858.5 835.1 L1859.5 833.2 L1860.5 830.3 L1861.5 827.3 L1862.5 824.5 L1863.5 821.7 L1864.5 819.6 L1865.5 817.8 L1866.5 815.8 L1867.5 813.5 L1868.5 811.2 L1869.5 809.4 L1870.5 808.3 L1871.5 807.1 L1872.5 806.4 L1873.5 807.0 L1874.5 808.4 L1875.5 810.1 L1876.5 812.1 L1877.5 814.5 L1878.5 817.0 L1879.5 819.1 L1880.5 820.5 L1881.5 821.6 L1882.5 822.9 L1883.5 824.1 L1884.5 824.9 L1885.5 825.6 L1886.5 825.9 L1887.5 826.1 L1888.5 825.9 L1889.5 825.0 L1890.5 824.4 L1891.5 823.7 L1892.5 822.7 L1893.5 822.1 L1894.5 821.4 L1895.5 820.1 L1896.5 818.9 L1897.5 817.9 L1898.5 817.2 L1899.5 816.9 L1900.5 816.0 L1901.5 814.6 L1902.5 813.6 L1903.5 812.4 L1904.5 811.0 L1905.5 810.2 L1906.5 809.5 L1907.5 808.9 L1908.5 809.0 L1909.5 809.9 L1910.5 811.3 L1911.5 812.7 L1912.5 813.4 L1913.5 813.4 L1914.5 812.3 L1915.5 809.3 L1916.5 806.3 L1917.5 803.2 L1918.5 800.9 L1919.5 799.5 L1920.5 800.1 L1921.5 802.7 L1922.5 807.2 L1923.5 812.3 L1924.5 816.9 L1925.5 820.9 L1926.5 825.2 L1927.5 829.5 L1928.5 833.4 L1929.5 836.7 L1930.5 838.5 L1931.5 839.8 L1932.5 841.4 L1933.5 842.2 L1934.5 842.5 L1935.5 844.1 L1936.5 846.2 L1937.5 847.3 L1938.5 848.0 L1939.5 848.2 L1940.5 848.5 L1941.5 849.1 L1942.5 849.9 L1943.5 850.7 L1944.5 851.3 L1945.5 851.8 L1946.5 852.1 L1947.5 851.9 L1948.5 851.9 L1949.5 852.3 L1950.5 853.2 L1951.5 853.7 L1952.5 853.2 L1953.5 853.0 L1954.5 853.9 L1955.5 854.2 L1956.5 854.0 L1957.5 853.8 L1958.5 853.4 L1959.5 853.2 L1960.5 853.3 L1961.5 853.5 L1962.5 853.3 L1963.5 852.8 L1964.5 852.2 L1965.5 852.1 L1966.5 852.5 L1967.5 853.0 L1968.5 853.2 L1969.5 853.0 L1970.5 852.9 L1971.5 852.5 L1972.5 851.7 L1973.5 851.6 L1974.5 852.1 L1975.5 852.2 L1976.5 852.2 L1977.5 852.9 L1978.5 853.4 L1979.5 853.2 L1980.5 852.9 L1981.5 853.0 L1982.5 852.4 L1983.5 851.3 L1984.5 852.0 L1985.5 852.9 L1986.5 852.5 L1987.5 852.5 L1988.5 852.8 L1989.5 852.7 L1990.5 853.2 L1991.5 853.2 L1992.5 851.5 L1993.5 851.4 L1994.5 853.0 L1995.5 853.0 L1996.5 852.5 L1997.5 852.6 L1998.5 851.8 L1999.5 851.3 L2000.5 851.6 L2001.5 851.7 L2002.5 851.6 L2003.5 851.2 L2004.5 851.0 L2005.5 851.6 L2006.5 851.9 L2007.5 851.3 L2008.5 851.2 L2009.5 851.8 L2010.5 852.4 L2011.5 853.4 L2012.5 853.3 L2013.5 851.4 L2014.5 850.2 L2015.5 850.7 L2016.5 851.6 L2017.5 851.9 L2018.5 852.1 L2019.5 851.5 L2020.5 851.5 L2021.5 852.5 L2022.5 852.8 L2023.5 852.3 L2024.5 852.3 L2025.5 852.6 L2026.5 852.5 L2027.5 852.3 L2028.5 852.3 L2029.5 852.6 L2030.5 852.5 L2031.5 852.2 L2032.5 852.6 L2033.5 853.3 L2034.5 853.5 L2035.5 853.6 L2036.5 853.4 L2037.5 852.2 L2038.5 851.6 L2039.5 852.4 L2040.5 853.5 L2041.5 854.3 L2042.5 854.3 L2043.5 854.1 L2044.5 853.7 L2045.5 853.9 L2046.5 855.0 L2047.5 854.9 L2048.5 854.0 L2049.5 854.0 L2050.5 854.6 L2051.5 855.2 L2052.5 855.5 L2053.5 855.2 L2054.5 855.0 L2055.5 855.2 L2056.5 855.0 L2057.5 854.7 L2058.5 854.8 L2059.5 854.9 L2060.5 855.0 L2061.5 855.0 L2062.5 855.4 L2063.5 856.3 L2064.5 856.1 L2065.5 855.6 L2066.5 855.4 L2067.5 855.2 L2068.5 854.5 L2069.5 853.3 L2070.5 853.4 L2071.5 853.2 L2072.5 853.0 L2073.5 854.1 L2074.5 854.3 L2075.5 853.8 L2076.5 854.5 L2077.5 854.6 L2078.5 853.6 L2079.5 853.7 L2080.5 854.1 L2081.5 854.0 L2082.5 854.8 L2083.5 855.3 L2084.5 854.5 L2085.5 853.7 L2086.5 853.1 L2087.5 851.7 L2088.5 850.3 L2089.5 850.6 L2090.5 852.4 L2091.5 854.7 L2095.4 854.5" stroke="#1A6FDF"/>
<path d="M131.0 1036.9 L134.5 1036.9 L135.5 1036.8 L136.5 1036.7 L137.5 1036.8 L138.5 1036.8 L139.5 1036.9 L140.5 1037.0 L141.5 1037.1 L142.5 1037.1 L143.5 1037.0 L144.5 1037.0 L145.5 1037.1 L146.5 1037.2 L147.5 1037.2 L148.5 1037.3 L149.5 1037.3 L150.5 1037.1 L151.5 1036.9 L152.5 1037.0 L153.5 1037.3 L154.5 1037.5 L155.5 1037.5 L156.5 1037.2 L157.5 1037.2 L158.5 1037.4 L159.5 1037.5 L160.5 1037.4 L161.5 1037.3 L162.5 1037.2 L163.5 1037.4 L164.5 1037.5 L165.5 1037.4 L166.5 1037.3 L167.5 1037.4 L168.5 1037.3 L169.5 1037.2 L170.5 1037.3 L171.5 1037.4 L172.5 1037.5 L173.5 1037.5 L174.5 1037.5 L175.5 1037.6 L176.5 1037.7 L177.5 1037.8 L178.5 1037.9 L179.5 1037.9 L180.5 1037.7 L181.5 1037.4 L182.5 1037.3 L183.5 1037.4 L184.5 1037.6 L185.5 1037.7 L186.5 1037.7 L187.5 1037.8 L188.5 1038.1 L189.5 1037.9 L190.5 1037.7 L191.5 1037.8 L192.5 1037.6 L193.5 1037.5 L194.5 1037.7 L195.5 1037.8 L196.5 1038.0 L197.5 1038.2 L198.5 1038.0 L199.5 1038.0 L200.5 1038.0 L201.5 1037.8 L202.5 1037.8 L203.5 1038.2 L204.5 1038.3 L205.5 1038.1 L206.5 1038.0 L207.5 1038.1 L208.5 1038.2 L209.5 1038.1 L210.5 1038.0 L211.5 1037.9 L212.5 1038.0 L213.5 1038.1 L214.5 1038.1 L215.5 1038.1 L216.5 1038.1 L217.5 1038.1 L218.5 1038.4 L219.5 1038.5 L220.5 1038.3 L221.5 1038.2 L222.5 1038.4 L223.5 1038.5 L224.5 1038.5 L225.5 1038.5 L226.5 1038.4 L227.5 1038.4 L228.5 1038.6 L229.5 1038.5 L230.5 1038.3 L231.5 1038.2 L232.5 1038.4 L233.5 1038.5 L234.5 1038.6 L235.5 1038.7 L236.5 1038.6 L237.5 1038.6 L238.5 1038.8 L239.5 1038.8 L240.5 1038.8 L241.5 1038.7 L242.5 1038.6 L243.5 1038.5 L244.5 1038.4 L245.5 1038.5 L246.5 1038.6 L247.5 1038.5 L248.5 1038.3 L249.5 1038.4 L250.5 1038.7 L251.5 1038.8 L252.5 1038.7 L253.5 1038.6 L254.5 1038.7 L255.5 1038.7 L256.5 1038.4 L257.5 1038.5 L258.5 1038.7 L259.5 1038.8 L260.5 1038.8 L261.5 1038.7 L262.5 1038.5 L263.5 1038.5 L264.5 1038.5 L265.5 1038.5 L266.5 1038.5 L267.5 1038.6 L268.5 1038.8 L269.5 1038.7 L270.5 1038.6 L271.5 1038.6 L272.5 1038.6 L273.5 1038.5 L274.5 1038.2 L275.5 1037.9 L276.5 1037.8 L277.5 1037.8 L278.5 1037.9 L279.5 1038.1 L280.5 1038.1 L281.5 1038.0 L282.5 1037.9 L283.5 1037.8 L284.5 1037.6 L285.5 1037.6 L286.5 1037.7 L287.5 1037.7 L288.5 1037.7 L289.5 1037.5 L290.5 1037.2 L291.5 1037.1 L292.5 1037.0 L293.5 1036.9 L294.5 1036.8 L295.5 1036.6 L296.5 1036.4 L297.5 1036.3 L298.5 1036.2 L299.5 1036.0 L300.5 1035.8 L301.5 1035.6 L302.5 1035.4 L303.5 1035.2 L304.5 1035.0 L305.5 1034.7 L306.5 1034.3 L307.5 1034.1 L308.5 1033.7 L309.5 1033.2 L310.5 1032.7 L311.5 1032.1 L312.5 1031.7 L313.5 1031.0 L314.5 1030.4 L315.5 1030.0 L316.5 1029.4 L317.5 1028.6 L318.5 1028.2 L319.5 1027.7 L320.5 1027.2 L321.5 1026.5 L322.5 1025.6 L323.5 1024.9 L324.5 1024.4 L325.5 1023.8 L326.5 1023.3 L327.5 1022.7 L328.5 1022.0 L329.5 1021.4 L330.5 1020.7 L331.5 1020.1 L332.5 1019.6 L333.5 1018.8 L334.5 1018.1 L335.5 1017.3 L336.5 1016.6 L337.5 1015.9 L338.5 1015.1 L339.5 1014.6 L340.5 1014.0 L341.5 1013.2 L342.5 1012.5 L343.5 1011.9 L344.5 1011.3 L345.5 1010.3 L346.5 1009.4 L347.5 1008.9 L348.5 1008.4 L349.5 1007.5 L350.5 1006.6 L351.5 1006.1 L352.5 1005.6 L353.5 1004.9 L354.5 1004.4 L355.5 1003.8 L356.5 1003.1 L357.5 1002.5 L358.5 1002.0 L359.5 1001.3 L360.5 1000.5 L361.5 1000.0 L362.5 999.4 L363.5 998.7 L364.5 998.0 L365.5 997.5 L366.5 997.0 L367.5 996.2 L368.5 995.4 L369.5 995.0 L370.5 994.3 L371.5 993.6 L372.5 992.8 L373.5 992.2 L374.5 991.4 L375.5 990.7 L376.5 990.2 L377.5 989.6 L378.5 988.9 L379.5 988.0 L380.5 987.1 L381.5 986.4 L382.5 986.0 L383.5 985.5 L384.5 984.8 L385.5 984.1 L386.5 983.3 L387.5 982.5 L388.5 981.9 L389.5 981.4 L390.5 980.7 L391.5 980.0 L392.5 979.4 L393.5 978.9 L394.5 978.4 L395.5 977.8 L396.5 977.0 L397.5 976.3 L398.5 975.9 L399.5 975.7 L400.5 975.2 L401.5 974.6 L402.5 974.3 L403.5 973.8 L404.5 973.3 L405.5 972.9 L406.5 972.4 L407.5 971.8 L408.5 971.5 L409.5 971.2 L410.5 970.8 L411.5 970.3 L412.5 969.7 L413.5 969.1 L414.5 968.5 L415.5 968.3 L416.5 968.2 L417.5 967.9 L418.5 967.4 L419.5 967.1 L420.5 966.8 L421.5 966.2 L422.5 965.8 L423.5 965.5 L424.5 964.9 L425.5 964.3 L426.5 964.0 L427.5 963.5 L428.5 963.1 L429.5 962.9 L430.5 962.7 L431.5 962.3 L432.5 962.0 L433.5 961.6 L434.5 961.5 L435.5 961.4 L436.5 961.3 L437.5 961.2 L438.5 960.9 L439.5 960.6 L440.5 960.4 L441.5 960.3 L442.5 960.2 L443.5 960.2 L444.5 960.1 L445.5 960.0 L446.5 959.9 L447.5 959.9 L448.5 959.8 L449.5 959.7 L450.5 959.6 L451.5 959.5 L452.5 959.4 L453.5 959.2 L454.5 959.2 L455.5 959.3 L456.5 959.4 L457.5 959.4 L458.5 959.2 L459.5 959.2 L460.5 959.3 L461.5 959.2 L462.5 959.3 L463.5 959.5 L464.5 959.7 L465.5 959.6 L466.5 959.6 L467.5 959.8 L468.5 959.9 L469.5 960.0 L470.5 960.3 L471.5 960.5 L472.5 960.7 L473.5 960.9 L474.5 961.1 L475.5 961.5 L476.5 961.8 L477.5 962.0 L478.5 962.5 L479.5 963.0 L480.5 963.2 L481.5 963.5 L482.5 964.0 L483.5 964.3 L484.5 964.5 L485.5 964.8 L486.5 965.2 L487.5 965.6 L488.5 966.2 L489.5 966.4 L490.5 966.5 L491.5 966.8 L492.5 967.4 L493.5 967.7 L494.5 967.9 L495.5 968.1 L496.5 968.3 L497.5 968.4 L498.5 968.8 L499.5 969.3 L500.5 969.6 L501.5 970.1 L502.5 970.4 L503.5 970.6 L504.5 970.7 L505.5 971.0 L506.5 971.3 L507.5 971.7 L508.5 972.1 L509.5 972.4 L510.5 972.7 L511.5 972.8 L512.5 972.8 L513.5 972.9 L514.5 973.1 L515.5 973.4 L516.5 973.8 L517.5 974.2 L518.5 974.6 L519.5 974.8 L520.5 974.9 L521.5 975.0 L522.5 975.3 L523.5 975.7 L524.5 975.9 L525.5 976.1 L526.5 976.4 L527.5 976.9 L528.5 977.3 L529.5 977.6 L530.5 977.8 L531.5 978.2 L532.5 978.6 L533.5 978.8 L534.5 979.0 L535.5 979.4 L536.5 980.1 L537.5 980.6 L538.5 980.9 L539.5 981.0 L540.5 981.5 L541.5 982.2 L542.5 982.5 L543.5 982.8 L544.5 983.3 L545.5 983.8 L546.5 984.2 L547.5 984.8 L548.5 985.3 L549.5 985.7 L550.5 986.1 L551.5 986.7 L552.5 987.2 L553.5 987.7 L554.5 988.2 L555.5 988.7 L556.5 989.3 L557.5 989.9 L558.5 990.5 L559.5 990.9 L560.5 991.5 L561.5 992.1 L562.5 992.5 L563.5 993.0 L564.5 993.4 L565.5 993.9 L566.5 994.5 L567.5 995.1 L568.5 995.5 L569.5 996.0 L570.5 996.7 L571.5 997.4 L572.5 997.8 L573.5 998.4 L574.5 999.0 L575.5 999.8 L576.5 1000.6 L577.5 1001.1 L578.5 1001.5 L579.5 1002.0 L580.5 1002.5 L581.5 1003.0 L582.5 1003.7 L583.5 1004.4 L584.5 1004.9 L585.5 1005.5 L586.5 1006.3 L587.5 1007.0 L588.5 1007.7 L589.5 1008.3 L590.5 1009.0 L591.5 1009.7 L592.5 1010.4 L593.5 1011.0 L594.5 1011.8 L595.5 1012.4 L596.5 1012.6 L597.5 1012.9 L598.5 1013.6 L599.5 1014.3 L600.5 1014.7 L601.5 1015.4 L602.5 1016.1 L603.5 1016.6 L604.5 1017.2 L605.5 1017.7 L606.5 1018.0 L607.5 1018.4 L608.5 1019.0 L609.5 1019.4 L610.5 1020.0 L611.5 1020.6 L612.5 1021.0 L613.5 1021.3 L614.5 1021.6 L615.5 1022.1 L616.5 1022.5 L617.5 1023.0 L618.5 1023.4 L619.5 1023.6 L620.5 1024.0 L621.5 1024.4 L622.5 1024.8 L623.5 1025.1 L624.5 1025.3 L625.5 1025.7 L626.5 1026.1 L627.5 1026.4 L628.5 1026.5 L629.5 1026.5 L630.5 1026.7 L631.5 1026.9 L632.5 1027.2 L633.5 1027.6 L634.5 1027.8 L635.5 1027.7 L636.5 1027.7 L637.5 1028.0 L638.5 1028.2 L639.5 1028.5 L640.5 1028.9 L641.5 1029.3 L642.5 1029.6 L643.5 1029.5 L644.5 1029.5 L645.5 1029.9 L646.5 1030.4 L647.5 1030.5 L648.5 1030.8 L649.5 1031.2 L650.5 1031.2 L651.5 1031.4 L652.5 1031.6 L653.5 1031.8 L654.5 1031.9 L655.5 1032.1 L656.5 1032.3 L657.5 1032.6 L658.5 1033.0 L659.5 1033.2 L660.5 1033.4 L661.5 1033.4 L662.5 1033.3 L663.5 1033.5 L664.5 1034.0 L665.5 1034.1 L666.5 1034.1 L667.5 1034.2 L668.5 1034.3 L669.5 1034.3 L670.5 1034.4 L671.5 1034.6 L672.5 1034.6 L673.5 1034.7 L674.5 1034.8 L675.5 1034.8 L676.5 1034.6 L677.5 1034.3 L678.5 1034.1 L679.5 1033.8 L680.5 1033.5 L681.5 1033.0 L682.5 1031.9 L683.5 1030.2 L684.5 1028.2 L685.5 1026.0 L686.5 1023.1 L687.5 1019.3 L688.5 1014.6 L689.5 1009.1 L690.5 1001.9 L691.5 993.8 L692.5 984.9 L693.5 975.1 L694.5 966.0 L695.5 957.0 L696.5 949.1 L697.5 944.2 L698.5 940.5 L699.5 938.2 L700.5 936.8 L701.5 935.6 L702.5 935.2 L703.5 935.3 L704.5 935.5 L705.5 935.6 L706.5 935.4 L707.5 934.9 L708.5 932.8 L709.5 929.0 L710.5 919.5 L711.5 906.4 L712.5 891.7 L713.5 875.9 L714.5 859.6 L715.5 842.7 L716.5 827.2 L717.5 811.7 L718.5 799.5 L719.5 793.2 L720.5 789.0 L721.5 789.0 L722.5 793.5 L723.5 801.4 L724.5 816.2 L725.5 828.2 L726.5 838.2 L727.5 847.3 L728.5 856.1 L729.5 864.5 L730.5 872.6 L731.5 880.3 L732.5 887.7 L733.5 895.1 L734.5 902.3 L735.5 909.1 L736.5 915.4 L737.5 921.0 L738.5 926.6 L739.5 931.6 L740.5 935.5 L741.5 937.9 L742.5 939.9 L743.5 941.2 L744.5 940.8 L745.5 939.4 L746.5 937.7 L747.5 934.8 L748.5 931.5 L749.5 928.5 L750.5 926.0 L751.5 924.0 L752.5 921.8 L753.5 914.9 L754.5 899.6 L755.5 884.4 L756.5 869.3 L757.5 859.6 L758.5 854.0 L759.5 857.9 L760.5 866.6 L761.5 883.0 L762.5 900.6 L763.5 917.1 L764.5 931.4 L765.5 944.1 L766.5 955.3 L767.5 965.3 L768.5 974.5 L769.5 981.6 L770.5 987.1 L771.5 991.7 L772.5 995.5 L773.5 998.8 L774.5 1001.7 L775.5 1004.6 L776.5 1007.2 L777.5 1009.3 L778.5 1011.1 L779.5 1013.0 L780.5 1014.6 L781.5 1016.0 L782.5 1017.4 L783.5 1018.5 L784.5 1019.6 L785.5 1020.4 L786.5 1021.1 L787.5 1021.9 L788.5 1022.5 L789.5 1023.1 L790.5 1023.7 L791.5 1024.4 L792.5 1025.3 L793.5 1026.0 L794.5 1026.5 L795.5 1026.9 L796.5 1027.1 L797.5 1027.5 L798.5 1028.1 L799.5 1028.7 L800.5 1029.3 L801.5 1029.7 L802.5 1030.0 L803.5 1030.3 L804.5 1030.6 L805.5 1030.8 L806.5 1031.1 L807.5 1031.4 L808.5 1031.6 L809.5 1031.8 L810.5 1031.8 L811.5 1031.7 L812.5 1031.7 L813.5 1031.6 L814.5 1031.4 L815.5 1031.4 L816.5 1031.6 L817.5 1031.6 L818.5 1031.4 L819.5 1031.5 L820.5 1031.7 L821.5 1031.8 L822.5 1031.6 L823.5 1031.5 L824.5 1031.4 L825.5 1031.3 L826.5 1031.4 L827.5 1031.6 L828.5 1032.0 L829.5 1032.4 L830.5 1032.7 L831.5 1033.0 L832.5 1033.3 L833.5 1033.6 L834.5 1034.0 L835.5 1034.3 L836.5 1034.6 L837.5 1034.9 L838.5 1034.9 L839.5 1034.9 L840.5 1034.9 L841.5 1034.9 L842.5 1035.1 L843.5 1035.3 L844.5 1035.5 L845.5 1035.4 L846.5 1035.1 L847.5 1035.2 L848.5 1035.4 L849.5 1035.4 L850.5 1035.4 L851.5 1035.4 L852.5 1035.5 L853.5 1035.5 L854.5 1035.5 L855.5 1035.6 L856.5 1035.7 L857.5 1035.7 L858.5 1035.8 L859.5 1036.0 L860.5 1035.9 L861.5 1035.8 L862.5 1035.8 L863.5 1036.1 L864.5 1036.3 L865.5 1036.2 L866.5 1036.0 L867.5 1036.0 L868.5 1036.1 L869.5 1036.2 L870.5 1036.3 L871.5 1036.4 L872.5 1036.5 L873.5 1036.6 L874.5 1036.5 L875.5 1036.3 L876.5 1036.4 L877.5 1036.4 L878.5 1036.5 L879.5 1036.8 L880.5 1036.9 L881.5 1036.8 L882.5 1036.7 L883.5 1036.6 L884.5 1036.6 L885.5 1036.7 L886.5 1036.8 L887.5 1036.7 L888.5 1036.7 L889.5 1036.8 L890.5 1036.8 L891.5 1036.9 L892.5 1037.0 L893.5 1037.0 L894.5 1037.1 L895.5 1037.4 L896.5 1037.4 L897.5 1037.3 L898.5 1037.2 L899.5 1037.2 L900.5 1037.2 L901.5 1037.1 L902.5 1037.3 L903.5 1037.5 L904.5 1037.4 L905.5 1037.3 L906.5 1037.4 L907.5 1037.5 L908.5 1037.5 L909.5 1037.6 L910.5 1037.5 L911.5 1037.3 L912.5 1037.3 L913.5 1037.3 L914.5 1037.3 L915.5 1037.4 L916.5 1037.6 L917.5 1037.7 L918.5 1037.7 L919.5 1037.6 L920.5 1037.3 L921.5 1037.0 L922.5 1037.1 L923.5 1037.2 L924.5 1037.3 L925.5 1037.2 L926.5 1037.1 L927.5 1037.1 L928.5 1037.1 L929.5 1037.0 L930.5 1037.0 L931.5 1037.1 L932.5 1037.2 L933.5 1037.3 L934.5 1037.3 L935.5 1037.1 L936.5 1036.8 L937.5 1036.7 L938.5 1036.7 L939.5 1036.9 L940.5 1037.1 L941.5 1036.9 L942.5 1036.8 L943.5 1036.8 L944.5 1036.7 L945.5 1036.7 L946.5 1036.6 L947.5 1036.5 L948.5 1036.5 L949.5 1036.7 L950.5 1036.7 L951.5 1036.5 L952.5 1036.5 L953.5 1036.4 L954.5 1036.3 L955.5 1036.4 L956.5 1036.5 L957.5 1036.4 L958.5 1036.4 L959.5 1036.3 L960.5 1036.3 L961.5 1036.4 L962.5 1036.4 L963.5 1036.3 L964.5 1036.2 L965.5 1036.2 L966.5 1036.1 L967.5 1036.0 L968.5 1036.0 L969.5 1036.1 L970.5 1036.2 L971.5 1036.3 L972.5 1036.3 L973.5 1036.1 L974.5 1036.1 L975.5 1036.3 L976.5 1036.3 L977.5 1036.3 L978.5 1036.3 L979.5 1036.2 L980.5 1036.2 L981.5 1036.3 L982.5 1036.6 L983.5 1036.6 L984.5 1036.3 L985.5 1036.3 L986.5 1036.4 L987.5 1036.6 L988.5 1036.6 L989.5 1036.7 L990.5 1036.6 L991.5 1036.4 L992.5 1036.3 L993.5 1036.5 L994.5 1036.7 L995.5 1036.7 L996.5 1036.7 L997.5 1036.8 L998.5 1036.7 L999.5 1036.8 L1000.5 1037.0 L1001.5 1037.1 L1002.5 1037.1 L1003.5 1037.0 L1004.5 1037.1 L1005.5 1036.8 L1006.5 1036.6 L1007.5 1036.6 L1008.5 1036.9 L1009.5 1037.1 L1010.5 1037.1 L1011.5 1036.7 L1012.5 1036.4 L1013.5 1036.5 L1014.5 1036.7 L1015.5 1036.4 L1016.5 1036.0 L1017.5 1036.0 L1018.5 1036.0 L1019.5 1035.7 L1020.5 1035.4 L1021.5 1035.3 L1022.5 1035.2 L1023.5 1035.2 L1024.5 1035.3 L1025.5 1035.6 L1026.5 1035.7 L1027.5 1035.8 L1028.5 1036.0 L1029.5 1036.2 L1030.5 1036.3 L1031.5 1036.4 L1032.5 1036.5 L1033.5 1036.7 L1034.5 1036.8 L1035.5 1036.9 L1036.5 1036.9 L1037.5 1036.9 L1038.5 1037.0 L1039.5 1037.2 L1040.5 1037.5 L1041.5 1037.5 L1042.5 1037.3 L1043.5 1037.4 L1044.5 1037.4 L1045.5 1037.2 L1046.5 1037.3 L1047.5 1037.4 L1048.5 1037.4 L1049.5 1037.5 L1050.5 1037.6 L1051.5 1037.7 L1052.5 1037.7 L1053.5 1037.7 L1054.5 1037.8 L1055.5 1037.9 L1056.5 1037.9 L1057.5 1037.7 L1058.5 1037.9 L1059.5 1038.2 L1060.5 1038.0 L1061.5 1037.6 L1062.5 1037.6 L1063.5 1037.8 L1064.5 1037.9 L1065.5 1037.9 L1066.5 1037.9 L1067.5 1038.0 L1068.5 1038.0 L1069.5 1037.8 L1070.5 1037.9 L1071.5 1038.0 L1072.5 1038.0 L1073.5 1037.8 L1074.5 1037.8 L1075.5 1037.9 L1076.5 1038.1 L1077.5 1038.2 L1078.5 1038.0 L1079.5 1037.7 L1080.5 1037.9 L1081.5 1038.1 L1082.5 1037.9 L1083.5 1037.9 L1084.5 1038.0 L1085.5 1038.0 L1086.5 1038.0 L1087.5 1038.0 L1088.5 1038.0 L1089.5 1038.1 L1090.5 1038.2 L1091.5 1038.1 L1092.5 1038.1 L1093.5 1038.2 L1094.5 1038.3 L1095.5 1038.3 L1096.5 1038.2 L1097.5 1038.0 L1098.5 1038.0 L1099.5 1038.1 L1100.5 1038.3 L1101.5 1038.2 L1102.5 1038.1 L1103.5 1038.2 L1104.5 1038.2 L1105.5 1038.2 L1106.5 1038.2 L1107.5 1038.1 L1108.5 1037.9 L1109.5 1038.0 L1110.5 1038.0 L1111.5 1038.0 L1112.5 1038.2 L1113.5 1038.4 L1114.5 1038.2 L1115.5 1038.1 L1116.5 1038.1 L1117.5 1038.1 L1118.5 1038.2 L1119.5 1038.2 L1120.5 1038.1 L1121.5 1038.1 L1122.5 1038.1 L1123.5 1038.2 L1124.5 1038.2 L1125.5 1038.1 L1126.5 1037.9 L1127.5 1037.9 L1128.5 1038.0 L1129.5 1038.1 L1130.5 1038.1 L1131.5 1038.1 L1132.5 1038.1 L1133.5 1038.1 L1134.5 1038.1 L1135.5 1038.0 L1136.5 1037.9 L1137.5 1037.9 L1138.5 1037.8 L1139.5 1037.7 L1140.5 1037.6 L1141.5 1037.7 L1142.5 1037.9 L1143.5 1037.7 L1144.5 1037.5 L1145.5 1037.6 L1146.5 1037.6 L1147.5 1037.5 L1148.5 1037.4 L1149.5 1037.3 L1150.5 1037.6 L1151.5 1037.8 L1152.5 1037.8 L1153.5 1037.6 L1154.5 1037.5 L1155.5 1037.5 L1156.5 1037.7 L1157.5 1037.7 L1158.5 1037.5 L1159.5 1037.5 L1160.5 1037.6 L1161.5 1037.4 L1162.5 1037.3 L1163.5 1037.2 L1164.5 1037.1 L1165.5 1037.0 L1166.5 1037.0 L1167.5 1037.0 L1168.5 1036.9 L1169.5 1036.8 L1170.5 1036.8 L1171.5 1036.8 L1172.5 1036.9 L1173.5 1036.9 L1174.5 1037.1 L1175.5 1037.3 L1176.5 1037.3 L1177.5 1037.1 L1178.5 1037.1 L1179.5 1036.9 L1180.5 1036.7 L1181.5 1036.7 L1182.5 1036.7 L1183.5 1036.6 L1184.5 1036.5 L1185.5 1036.5 L1186.5 1036.5 L1187.5 1036.4 L1188.5 1036.4 L1189.5 1036.4 L1190.5 1036.3 L1191.5 1036.4 L1192.5 1036.4 L1193.5 1036.0 L1194.5 1035.8 L1195.5 1036.0 L1196.5 1036.0 L1197.5 1035.9 L1198.5 1035.9 L1199.5 1035.8 L1200.5 1035.8 L1201.5 1035.6 L1202.5 1035.4 L1203.5 1035.4 L1204.5 1035.6 L1205.5 1035.7 L1206.5 1035.6 L1207.5 1035.6 L1208.5 1035.6 L1209.5 1035.6 L1210.5 1035.8 L1211.5 1036.0 L1212.5 1036.0 L1213.5 1036.2 L1214.5 1036.3 L1215.5 1036.3 L1216.5 1036.3 L1217.5 1036.6 L1218.5 1037.0 L1219.5 1037.0 L1220.5 1037.0 L1221.5 1037.2 L1222.5 1037.1 L1223.5 1037.2 L1224.5 1037.5 L1225.5 1037.9 L1226.5 1038.1 L1227.5 1038.2 L1228.5 1038.4 L1229.5 1038.6 L1230.5 1038.6 L1231.5 1038.6 L1232.5 1038.7 L1233.5 1038.7 L1234.5 1038.6 L1235.5 1038.7 L1236.5 1039.0 L1237.5 1039.2 L1238.5 1039.1 L1239.5 1038.9 L1240.5 1039.0 L1241.5 1038.9 L1242.5 1038.9 L1243.5 1038.9 L1244.5 1039.0 L1245.5 1038.9 L1246.5 1038.9 L1247.5 1038.9 L1248.5 1039.0 L1249.5 1038.9 L1250.5 1039.0 L1251.5 1039.0 L1252.5 1038.8 L1253.5 1038.5 L1254.5 1038.6 L1255.5 1038.7 L1256.5 1038.7 L1257.5 1038.5 L1258.5 1038.5 L1259.5 1038.5 L1260.5 1038.6 L1261.5 1038.5 L1262.5 1038.4 L1263.5 1038.2 L1264.5 1038.3 L1265.5 1038.2 L1266.5 1038.1 L1267.5 1038.0 L1268.5 1037.9 L1269.5 1037.8 L1270.5 1037.9 L1271.5 1038.1 L1272.5 1038.1 L1273.5 1038.1 L1274.5 1038.2 L1275.5 1038.2 L1276.5 1038.2 L1277.5 1038.1 L1278.5 1037.8 L1279.5 1037.8 L1280.5 1037.9 L1281.5 1037.9 L1282.5 1038.1 L1283.5 1038.0 L1284.5 1037.7 L1285.5 1037.7 L1286.5 1037.9 L1287.5 1038.0 L1288.5 1038.0 L1289.5 1037.7 L1290.5 1037.5 L1291.5 1037.7 L1292.5 1037.8 L1293.5 1037.7 L1294.5 1037.7 L1295.5 1037.6 L1296.5 1037.5 L1297.5 1037.5 L1298.5 1037.6 L1299.5 1037.5 L1300.5 1037.7 L1301.5 1037.7 L1302.5 1037.7 L1303.5 1037.6 L1304.5 1037.6 L1305.5 1037.6 L1306.5 1037.7 L1307.5 1037.6 L1308.5 1037.6 L1309.5 1037.6 L1310.5 1037.5 L1311.5 1037.5 L1312.5 1037.5 L1313.5 1037.4 L1314.5 1037.4 L1315.5 1037.2 L1316.5 1037.1 L1317.5 1037.1 L1318.5 1037.2 L1319.5 1037.2 L1320.5 1037.0 L1321.5 1036.9 L1322.5 1037.2 L1323.5 1037.5 L1324.5 1037.4 L1325.5 1037.4 L1326.5 1037.5 L1327.5 1037.5 L1328.5 1037.5 L1329.5 1037.5 L1330.5 1037.4 L1331.5 1037.3 L1332.5 1037.3 L1333.5 1037.3 L1334.5 1037.3 L1335.5 1037.3 L1336.5 1037.3 L1337.5 1037.4 L1338.5 1037.5 L1339.5 1037.4 L1340.5 1037.3 L1341.5 1037.3 L1342.5 1037.4 L1343.5 1037.4 L1344.5 1037.4 L1345.5 1037.2 L1346.5 1037.2 L1347.5 1037.4 L1348.5 1037.4 L1349.5 1037.2 L1350.5 1037.2 L1351.5 1037.3 L1352.5 1037.0 L1353.5 1037.3 L1354.5 1037.7 L1355.5 1037.8 L1356.5 1037.9 L1357.5 1037.8 L1358.5 1037.4 L1359.5 1037.1 L1360.5 1036.8 L1361.5 1036.6 L1362.5 1036.6 L1363.5 1036.1 L1364.5 1035.7 L1365.5 1035.7 L1366.5 1035.7 L1367.5 1035.5 L1368.5 1034.6 L1369.5 1034.1 L1370.5 1033.7 L1371.5 1033.2 L1372.5 1033.0 L1373.5 1032.5 L1374.5 1031.7 L1375.5 1031.1 L1376.5 1030.8 L1377.5 1030.2 L1378.5 1029.0 L1379.5 1027.7 L1380.5 1026.6 L1381.5 1025.4 L1382.5 1023.5 L1383.5 1021.7 L1384.5 1020.6 L1385.5 1020.2 L1386.5 1020.7 L1387.5 1021.3 L1388.5 1021.3 L1389.5 1021.4 L1390.5 1022.4 L1391.5 1024.3 L1392.5 1025.4 L1393.5 1025.6 L1394.5 1025.7 L1395.5 1026.0 L1396.5 1026.6 L1397.5 1027.3 L1398.5 1027.7 L1399.5 1028.0 L1400.5 1028.4 L1401.5 1028.8 L1402.5 1029.5 L1403.5 1030.3 L1404.5 1030.6 L1405.5 1030.9 L1406.5 1031.4 L1407.5 1031.7 L1408.5 1031.6 L1409.5 1031.1 L1410.5 1030.6 L1411.5 1029.5 L1412.5 1027.9 L1413.5 1026.3 L1414.5 1024.5 L1415.5 1022.7 L1416.5 1021.6 L1417.5 1021.0 L1418.5 1019.9 L1419.5 1018.4 L1420.5 1016.8 L1421.5 1015.5 L1422.5 1014.2 L1423.5 1012.8 L1424.5 1011.6 L1425.5 1010.2 L1426.5 1008.7 L1427.5 1007.5 L1428.5 1006.0 L1429.5 1004.3 L1430.5 1002.4 L1431.5 1000.9 L1432.5 999.4 L1433.5 997.5 L1434.5 995.7 L1435.5 994.1 L1436.5 991.8 L1437.5 989.9 L1438.5 988.9 L1439.5 988.0 L1440.5 987.2 L1441.5 986.2 L1442.5 985.0 L1443.5 984.2 L1444.5 984.1 L1445.5 984.1 L1446.5 984.3 L1447.5 985.3 L1448.5 986.5 L1449.5 987.2 L1450.5 988.6 L1451.5 990.3 L1452.5 991.5 L1453.5 992.5 L1454.5 993.6 L1455.5 994.8 L1456.5 995.8 L1457.5 996.7 L1458.5 997.7 L1459.5 998.8 L1460.5 999.8 L1461.5 1000.8 L1462.5 1001.9 L1463.5 1003.0 L1464.5 1004.3 L1465.5 1005.7 L1466.5 1006.5 L1467.5 1006.9 L1468.5 1008.0 L1469.5 1009.8 L1470.5 1011.1 L1471.5 1011.9 L1472.5 1012.9 L1473.5 1014.1 L1474.5 1015.4 L1475.5 1016.9 L1476.5 1018.2 L1477.5 1019.6 L1478.5 1020.7 L1479.5 1021.9 L1480.5 1023.3 L1481.5 1024.6 L1482.5 1025.8 L1483.5 1026.5 L1484.5 1027.7 L1485.5 1029.3 L1486.5 1030.6 L1487.5 1031.9 L1488.5 1033.5 L1489.5 1034.6 L1490.5 1035.4 L1491.5 1036.5 L1492.5 1037.3 L1493.5 1037.4 L1494.5 1036.9 L1495.5 1036.5 L1496.5 1035.8 L1497.5 1034.9 L1498.5 1034.1 L1499.5 1033.6 L1500.5 1032.9 L1501.5 1032.2 L1502.5 1031.4 L1503.5 1030.0 L1504.5 1027.9 L1505.5 1025.0 L1506.5 1021.5 L1507.5 1017.2 L1508.5 1012.1 L1509.5 1002.6 L1510.5 990.0 L1511.5 977.2 L1512.5 961.9 L1513.5 947.5 L1514.5 938.7 L1515.5 933.6 L1516.5 929.0 L1517.5 925.4 L1518.5 923.2 L1519.5 922.1 L1520.5 922.9 L1521.5 926.3 L1522.5 931.1 L1523.5 936.0 L1524.5 940.1 L1525.5 943.9 L1526.5 947.9 L1527.5 951.8 L1528.5 955.7 L1529.5 959.8 L1530.5 964.2 L1531.5 968.8 L1532.5 974.2 L1533.5 979.8 L1534.5 985.3 L1535.5 989.9 L1536.5 992.7 L1537.5 995.1 L1538.5 997.6 L1539.5 999.9 L1540.5 1002.2 L1541.5 1004.1 L1542.5 1005.7 L1543.5 1007.2 L1544.5 1008.4 L1545.5 1009.7 L1546.5 1010.9 L1547.5 1012.0 L1548.5 1012.9 L1549.5 1013.8 L1550.5 1014.8 L1551.5 1015.4 L1552.5 1015.7 L1553.5 1015.9 L1554.5 1015.1 L1555.5 1013.1 L1556.5 1010.0 L1557.5 1006.5 L1558.5 1002.7 L1559.5 995.7 L1560.5 984.7 L1561.5 973.3 L1562.5 965.5 L1563.5 964.7 L1564.5 967.6 L1565.5 972.5 L1566.5 978.0 L1567.5 982.8 L1568.5 986.5 L1569.5 990.4 L1570.5 994.2 L1571.5 997.2 L1572.5 1000.0 L1573.5 1001.7 L1574.5 1002.5 L1575.5 1003.0 L1576.5 1003.8 L1577.5 1004.5 L1578.5 1005.0 L1579.5 1005.4 L1580.5 1006.0 L1581.5 1006.8 L1582.5 1007.4 L1583.5 1007.6 L1584.5 1008.0 L1585.5 1008.8 L1586.5 1009.2 L1587.5 1009.3 L1588.5 1009.8 L1589.5 1010.1 L1590.5 1009.9 L1591.5 1009.6 L1592.5 1009.2 L1593.5 1008.8 L1594.5 1008.8 L1595.5 1008.6 L1596.5 1008.3 L1597.5 1008.2 L1598.5 1008.2 L1599.5 1008.7 L1600.5 1009.4 L1601.5 1009.7 L1602.5 1010.0 L1603.5 1010.6 L1604.5 1011.7 L1605.5 1012.5 L1606.5 1012.8 L1607.5 1013.3 L1608.5 1014.2 L1609.5 1015.4 L1610.5 1015.9 L1611.5 1015.5 L1612.5 1015.7 L1613.5 1016.6 L1614.5 1017.4 L1615.5 1017.4 L1616.5 1016.9 L1617.5 1016.8 L1618.5 1017.1 L1619.5 1017.4 L1620.5 1017.5 L1621.5 1017.8 L1622.5 1017.9 L1623.5 1017.7 L1624.5 1018.1 L1625.5 1018.4 L1626.5 1018.2 L1627.5 1018.2 L1628.5 1018.6 L1629.5 1018.7 L1630.5 1018.6 L1631.5 1018.8 L1632.5 1019.1 L1633.5 1019.2 L1634.5 1019.3 L1635.5 1019.9 L1636.5 1020.2 L1637.5 1020.4 L1638.5 1020.9 L1639.5 1021.0 L1640.5 1021.3 L1641.5 1021.9 L1642.5 1022.4 L1643.5 1022.6 L1644.5 1022.6 L1645.5 1022.6 L1646.5 1022.9 L1647.5 1023.5 L1648.5 1024.0 L1649.5 1024.2 L1650.5 1024.6 L1651.5 1025.0 L1652.5 1024.9 L1653.5 1024.6 L1654.5 1025.0 L1655.5 1025.3 L1656.5 1025.5 L1657.5 1025.8 L1658.5 1025.7 L1659.5 1025.0 L1660.5 1024.9 L1661.5 1025.3 L1662.5 1025.7 L1663.5 1026.1 L1664.5 1026.2 L1665.5 1026.3 L1666.5 1026.9 L1667.5 1027.1 L1668.5 1026.7 L1669.5 1026.5 L1670.5 1026.0 L1671.5 1025.1 L1672.5 1024.5 L1673.5 1023.6 L1674.5 1022.3 L1675.5 1021.2 L1676.5 1020.0 L1677.5 1018.9 L1678.5 1018.1 L1679.5 1017.5 L1680.5 1016.9 L1681.5 1016.8 L1682.5 1017.0 L1683.5 1017.7 L1684.5 1019.5 L1685.5 1021.6 L1686.5 1023.5 L1687.5 1025.4 L1688.5 1027.1 L1689.5 1028.5 L1690.5 1029.6 L1691.5 1029.7 L1692.5 1029.2 L1693.5 1028.7 L1694.5 1028.2 L1695.5 1027.7 L1696.5 1026.9 L1697.5 1026.4 L1698.5 1025.8 L1699.5 1025.3 L1700.5 1025.4 L1701.5 1026.0 L1702.5 1026.9 L1703.5 1027.8 L1704.5 1028.3 L1705.5 1029.1 L1706.5 1029.8 L1707.5 1029.9 L1708.5 1029.9 L1709.5 1030.3 L1710.5 1030.5 L1711.5 1030.5 L1712.5 1030.5 L1713.5 1030.0 L1714.5 1029.3 L1715.5 1028.8 L1716.5 1029.0 L1717.5 1029.4 L1718.5 1029.3 L1719.5 1029.1 L1720.5 1028.6 L1721.5 1028.0 L1722.5 1027.8 L1723.5 1027.7 L1724.5 1027.4 L1725.5 1027.2 L1726.5 1027.1 L1727.5 1026.8 L1728.5 1026.3 L1729.5 1025.6 L1730.5 1024.6 L1731.5 1023.5 L1732.5 1022.6 L1733.5 1022.0 L1734.5 1021.9 L1735.5 1021.5 L1736.5 1020.4 L1737.5 1019.5 L1738.5 1019.2 L1739.5 1019.0 L1740.5 1018.4 L1741.5 1017.9 L1742.5 1017.4 L1743.5 1016.5 L1744.5 1015.5 L1745.5 1014.4 L1746.5 1014.0 L1747.5 1014.0 L1748.5 1013.9 L1749.5 1013.9 L1750.5 1013.9 L1751.5 1013.8 L1752.5 1013.6 L1753.5 1013.8 L1754.5 1014.4 L1755.5 1015.1 L1756.5 1016.2 L1757.5 1017.1 L1758.5 1017.9 L1759.5 1019.0 L1760.5 1020.2 L1761.5 1021.5 L1762.5 1022.5 L1763.5 1023.6 L1764.5 1024.7 L1765.5 1025.5 L1766.5 1026.6 L1767.5 1027.9 L1768.5 1029.3 L1769.5 1030.5 L1770.5 1031.6 L1771.5 1032.7 L1772.5 1033.5 L1773.5 1033.6 L1774.5 1034.0 L1775.5 1034.5 L1776.5 1034.8 L1777.5 1034.8 L1778.5 1034.7 L1779.5 1035.0 L1780.5 1035.2 L1781.5 1035.5 L1782.5 1035.6 L1783.5 1035.6 L1784.5 1035.8 L1785.5 1036.0 L1786.5 1036.3 L1787.5 1036.3 L1788.5 1036.3 L1789.5 1036.5 L1790.5 1036.6 L1791.5 1036.5 L1792.5 1036.4 L1793.5 1036.3 L1794.5 1036.2 L1795.5 1036.7 L1796.5 1037.3 L1797.5 1037.1 L1798.5 1037.0 L1799.5 1037.0 L1800.5 1036.8 L1801.5 1036.6 L1802.5 1036.5 L1803.5 1036.4 L1804.5 1036.5 L1805.5 1037.0 L1806.5 1037.1 L1807.5 1037.1 L1808.5 1037.1 L1809.5 1037.0 L1810.5 1037.3 L1811.5 1037.5 L1812.5 1037.0 L1813.5 1036.7 L1814.5 1036.8 L1815.5 1036.8 L1816.5 1036.5 L1817.5 1035.5 L1818.5 1034.6 L1819.5 1033.8 L1820.5 1032.7 L1821.5 1031.6 L1822.5 1030.9 L1823.5 1029.8 L1824.5 1028.9 L1825.5 1028.1 L1826.5 1026.4 L1827.5 1024.5 L1828.5 1023.0 L1829.5 1021.1 L1830.5 1019.0 L1831.5 1016.9 L1832.5 1015.1 L1833.5 1013.9 L1834.5 1012.9 L1835.5 1011.6 L1836.5 1010.3 L1837.5 1009.3 L1838.5 1008.4 L1839.5 1007.6 L1840.5 1007.0 L1841.5 1006.5 L1842.5 1006.0 L1843.5 1005.9 L1844.5 1006.0 L1845.5 1005.9 L1846.5 1005.7 L1847.5 1005.7 L1848.5 1005.8 L1849.5 1005.9 L1850.5 1006.1 L1851.5 1006.2 L1852.5 1006.0 L1853.5 1006.2 L1854.5 1006.7 L1855.5 1006.6 L1856.5 1005.0 L1857.5 1003.1 L1858.5 1001.2 L1859.5 998.7 L1860.5 995.5 L1861.5 992.5 L1862.5 990.0 L1863.5 988.1 L1864.5 986.6 L1865.5 984.8 L1866.5 982.5 L1867.5 981.4 L1868.5 981.7 L1869.5 982.5 L1870.5 983.3 L1871.5 984.1 L1872.5 985.1 L1873.5 986.2 L1874.5 987.6 L1875.5 988.6 L1876.5 989.2 L1877.5 990.3 L1878.5 991.5 L1879.5 992.4 L1880.5 993.3 L1881.5 994.4 L1882.5 995.4 L1883.5 995.7 L1884.5 995.5 L1885.5 995.3 L1886.5 994.8 L1887.5 993.9 L1888.5 992.8 L1889.5 991.7 L1890.5 990.5 L1891.5 989.8 L1892.5 989.1 L1893.5 987.8 L1894.5 986.8 L1895.5 985.9 L1896.5 984.9 L1897.5 984.0 L1898.5 983.1 L1899.5 982.1 L1900.5 980.7 L1901.5 979.0 L1902.5 978.0 L1903.5 977.6 L1904.5 976.8 L1905.5 976.1 L1906.5 976.3 L1907.5 976.6 L1908.5 976.9 L1909.5 977.9 L1910.5 978.9 L1911.5 979.5 L1912.5 980.0 L1913.5 979.6 L1914.5 978.1 L1915.5 975.9 L1916.5 973.1 L1917.5 970.3 L1918.5 968.3 L1919.5 967.2 L1920.5 967.4 L1921.5 970.8 L1922.5 975.6 L1923.5 980.1 L1924.5 983.5 L1925.5 987.1 L1926.5 990.6 L1927.5 993.0 L1928.5 994.2 L1929.5 995.6 L1930.5 996.9 L1931.5 998.0 L1932.5 999.1 L1933.5 999.9 L1934.5 1000.9 L1935.5 1002.0 L1936.5 1002.6 L1937.5 1003.0 L1938.5 1003.8 L1939.5 1004.7 L1940.5 1005.1 L1941.5 1005.3 L1942.5 1005.9 L1943.5 1006.7 L1944.5 1007.2 L1945.5 1007.9 L1946.5 1008.7 L1947.5 1009.9 L1948.5 1011.1 L1949.5 1011.4 L1950.5 1011.5 L1951.5 1011.7 L1952.5 1011.8 L1953.5 1012.1 L1954.5 1012.0 L1955.5 1011.7 L1956.5 1012.1 L1957.5 1012.9 L1958.5 1013.0 L1959.5 1013.0 L1960.5 1013.3 L1961.5 1013.5 L1962.5 1013.6 L1963.5 1013.6 L1964.5 1013.7 L1965.5 1014.0 L1966.5 1014.2 L1967.5 1014.3 L1968.5 1013.8 L1969.5 1013.7 L1970.5 1014.0 L1971.5 1013.9 L1972.5 1014.2 L1973.5 1014.7 L1974.5 1014.4 L1975.5 1014.4 L1976.5 1014.9 L1977.5 1015.4 L1978.5 1015.8 L1979.5 1016.1 L1980.5 1016.3 L1981.5 1016.3 L1982.5 1016.5 L1983.5 1017.1 L1984.5 1017.4 L1985.5 1017.5 L1986.5 1018.0 L1987.5 1018.4 L1988.5 1018.8 L1989.5 1019.2 L1990.5 1019.3 L1991.5 1019.5 L1992.5 1019.7 L1993.5 1019.6 L1994.5 1019.5 L1995.5 1019.6 L1996.5 1019.9 L1997.5 1020.0 L1998.5 1019.3 L1999.5 1017.9 L2000.5 1016.7 L2001.5 1015.7 L2002.5 1013.9 L2003.5 1012.1 L2004.5 1011.3 L2005.5 1010.3 L2006.5 1008.5 L2007.5 1007.2 L2008.5 1006.5 L2009.5 1005.3 L2010.5 1004.0 L2011.5 1002.7 L2012.5 1001.2 L2013.5 1000.0 L2014.5 998.9 L2015.5 997.4 L2016.5 996.0 L2017.5 995.0 L2018.5 993.8 L2019.5 992.5 L2020.5 991.1 L2021.5 989.6 L2022.5 988.5 L2023.5 987.7 L2024.5 986.3 L2025.5 984.8 L2026.5 983.3 L2027.5 981.6 L2028.5 980.2 L2029.5 979.7 L2030.5 978.6 L2031.5 976.8 L2032.5 975.2 L2033.5 973.9 L2034.5 972.7 L2035.5 971.5 L2036.5 970.4 L2037.5 969.4 L2038.5 968.5 L2039.5 967.8 L2040.5 966.8 L2041.5 965.5 L2042.5 964.2 L2043.5 962.9 L2044.5 962.1 L2045.5 961.7 L2046.5 961.6 L2047.5 961.7 L2048.5 962.0 L2049.5 962.9 L2050.5 964.3 L2051.5 966.0 L2052.5 968.0 L2053.5 970.3 L2054.5 972.1 L2055.5 973.5 L2056.5 974.5 L2057.5 975.3 L2058.5 976.3 L2059.5 977.0 L2060.5 977.8 L2061.5 978.8 L2062.5 979.9 L2063.5 980.9 L2064.5 981.8 L2065.5 983.2 L2066.5 984.7 L2067.5 986.2 L2068.5 988.3 L2069.5 989.8 L2070.5 991.5 L2071.5 993.7 L2072.5 995.2 L2073.5 996.5 L2074.5 998.0 L2075.5 999.6 L2076.5 1000.9 L2077.5 1002.1 L2078.5 1003.2 L2079.5 1004.2 L2080.5 1005.2 L2081.5 1005.8 L2082.5 1006.7 L2083.5 1007.8 L2084.5 1008.4 L2085.5 1009.2 L2086.5 1010.7 L2087.5 1011.9 L2088.5 1012.4 L2089.5 1012.7 L2090.5 1013.7 L2091.5 1015.1 L2095.4 1015.2" stroke="#2EAA62"/>
<path d="M131.0 1196.0 L134.5 1196.0 L135.5 1196.0 L136.5 1195.9 L137.5 1195.8 L138.5 1195.8 L139.5 1195.8 L140.5 1195.9 L141.5 1196.0 L142.5 1196.0 L143.5 1196.2 L144.5 1196.2 L145.5 1196.2 L146.5 1196.1 L147.5 1196.1 L148.5 1196.2 L149.5 1196.3 L150.5 1196.3 L151.5 1196.2 L152.5 1196.1 L153.5 1196.0 L154.5 1196.0 L155.5 1196.1 L156.5 1196.0 L157.5 1195.9 L158.5 1196.0 L159.5 1196.4 L160.5 1196.5 L161.5 1196.3 L162.5 1196.0 L163.5 1195.8 L164.5 1195.9 L165.5 1196.0 L166.5 1196.1 L167.5 1196.2 L168.5 1196.2 L169.5 1196.2 L170.5 1196.3 L171.5 1196.5 L172.5 1196.4 L173.5 1196.3 L174.5 1196.4 L175.5 1196.3 L176.5 1196.3 L177.5 1196.5 L178.5 1196.3 L179.5 1196.3 L180.5 1196.4 L181.5 1196.7 L182.5 1196.7 L183.5 1196.7 L184.5 1196.6 L185.5 1196.4 L186.5 1196.4 L187.5 1196.6 L188.5 1196.5 L189.5 1196.5 L190.5 1196.6 L191.5 1196.6 L192.5 1196.5 L193.5 1196.3 L194.5 1196.3 L195.5 1196.5 L196.5 1196.5 L197.5 1196.3 L198.5 1196.4 L199.5 1196.7 L200.5 1196.8 L201.5 1196.9 L202.5 1196.6 L203.5 1196.4 L204.5 1196.6 L205.5 1196.7 L206.5 1196.6 L207.5 1196.5 L208.5 1196.6 L209.5 1196.8 L210.5 1196.8 L211.5 1196.8 L212.5 1196.9 L213.5 1196.8 L214.5 1196.7 L215.5 1196.8 L216.5 1197.0 L217.5 1197.1 L218.5 1196.9 L219.5 1196.9 L220.5 1197.0 L221.5 1197.1 L222.5 1196.9 L223.5 1196.9 L224.5 1197.0 L225.5 1196.9 L226.5 1196.9 L227.5 1197.0 L228.5 1197.0 L229.5 1197.1 L230.5 1197.2 L231.5 1197.0 L232.5 1196.9 L233.5 1197.0 L234.5 1197.2 L235.5 1197.3 L236.5 1197.3 L237.5 1197.3 L238.5 1197.3 L239.5 1197.5 L240.5 1197.7 L241.5 1197.6 L242.5 1197.5 L243.5 1197.6 L244.5 1197.6 L245.5 1197.4 L246.5 1197.3 L247.5 1197.3 L248.5 1197.5 L249.5 1197.7 L250.5 1197.6 L251.5 1197.4 L252.5 1197.3 L253.5 1197.4 L254.5 1197.3 L255.5 1197.2 L256.5 1197.3 L257.5 1197.3 L258.5 1197.3 L259.5 1197.2 L260.5 1197.2 L261.5 1197.3 L262.5 1197.1 L263.5 1196.8 L264.5 1196.9 L265.5 1197.0 L266.5 1197.1 L267.5 1197.1 L268.5 1197.0 L269.5 1196.8 L270.5 1196.8 L271.5 1196.7 L272.5 1196.6 L273.5 1196.5 L274.5 1196.5 L275.5 1196.5 L276.5 1196.4 L277.5 1196.2 L278.5 1196.1 L279.5 1196.2 L280.5 1196.2 L281.5 1196.3 L282.5 1196.1 L283.5 1195.9 L284.5 1195.9 L285.5 1195.8 L286.5 1195.8 L287.5 1195.9 L288.5 1195.7 L289.5 1195.5 L290.5 1195.4 L291.5 1195.3 L292.5 1195.2 L293.5 1194.9 L294.5 1194.4 L295.5 1194.0 L296.5 1194.0 L297.5 1194.0 L298.5 1193.9 L299.5 1193.9 L300.5 1193.6 L301.5 1193.2 L302.5 1192.8 L303.5 1192.5 L304.5 1192.1 L305.5 1191.7 L306.5 1191.4 L307.5 1190.9 L308.5 1190.4 L309.5 1190.0 L310.5 1189.2 L311.5 1188.2 L312.5 1187.5 L313.5 1187.1 L314.5 1186.5 L315.5 1185.6 L316.5 1184.6 L317.5 1183.8 L318.5 1183.2 L319.5 1182.4 L320.5 1181.8 L321.5 1181.2 L322.5 1180.5 L323.5 1179.6 L324.5 1178.9 L325.5 1178.2 L326.5 1177.5 L327.5 1176.8 L328.5 1176.0 L329.5 1175.3 L330.5 1174.7 L331.5 1174.0 L332.5 1173.2 L333.5 1172.3 L334.5 1171.5 L335.5 1170.8 L336.5 1170.2 L337.5 1169.5 L338.5 1168.7 L339.5 1168.1 L340.5 1167.4 L341.5 1166.5 L342.5 1165.8 L343.5 1165.2 L344.5 1164.5 L345.5 1163.8 L346.5 1163.1 L347.5 1162.4 L348.5 1161.8 L349.5 1161.0 L350.5 1160.2 L351.5 1159.5 L352.5 1158.8 L353.5 1158.1 L354.5 1157.4 L355.5 1156.7 L356.5 1156.1 L357.5 1155.5 L358.5 1154.9 L359.5 1154.0 L360.5 1153.1 L361.5 1152.5 L362.5 1151.9 L363.5 1151.2 L364.5 1150.5 L365.5 1149.7 L366.5 1148.9 L367.5 1148.1 L368.5 1147.6 L369.5 1146.9 L370.5 1146.2 L371.5 1145.7 L372.5 1145.0 L373.5 1144.1 L374.5 1143.3 L375.5 1142.6 L376.5 1141.9 L377.5 1141.3 L378.5 1140.5 L379.5 1139.7 L380.5 1138.8 L381.5 1137.8 L382.5 1137.1 L383.5 1136.5 L384.5 1135.7 L385.5 1135.0 L386.5 1134.5 L387.5 1133.7 L388.5 1132.9 L389.5 1132.1 L390.5 1131.5 L391.5 1130.6 L392.5 1129.7 L393.5 1128.8 L394.5 1128.1 L395.5 1127.6 L396.5 1127.0 L397.5 1126.2 L398.5 1125.3 L399.5 1124.6 L400.5 1123.8 L401.5 1122.7 L402.5 1121.9 L403.5 1121.3 L404.5 1120.4 L405.5 1119.5 L406.5 1118.7 L407.5 1117.8 L408.5 1116.9 L409.5 1116.1 L410.5 1115.4 L411.5 1114.7 L412.5 1113.9 L413.5 1113.3 L414.5 1112.7 L415.5 1112.1 L416.5 1111.2 L417.5 1110.4 L418.5 1110.0 L419.5 1109.5 L420.5 1108.9 L421.5 1108.1 L422.5 1107.5 L423.5 1107.1 L424.5 1106.6 L425.5 1106.1 L426.5 1105.7 L427.5 1105.3 L428.5 1104.7 L429.5 1104.0 L430.5 1103.5 L431.5 1103.4 L432.5 1103.3 L433.5 1102.9 L434.5 1102.4 L435.5 1102.2 L436.5 1101.9 L437.5 1101.5 L438.5 1101.0 L439.5 1100.7 L440.5 1100.7 L441.5 1100.6 L442.5 1100.3 L443.5 1100.2 L444.5 1100.1 L445.5 1099.8 L446.5 1099.6 L447.5 1099.7 L448.5 1099.7 L449.5 1099.5 L450.5 1099.3 L451.5 1099.3 L452.5 1099.4 L453.5 1099.4 L454.5 1099.5 L455.5 1099.5 L456.5 1099.4 L457.5 1099.1 L458.5 1099.0 L459.5 1099.3 L460.5 1099.5 L461.5 1099.6 L462.5 1099.6 L463.5 1099.7 L464.5 1099.8 L465.5 1099.8 L466.5 1099.8 L467.5 1100.1 L468.5 1100.6 L469.5 1101.0 L470.5 1101.2 L471.5 1101.4 L472.5 1101.4 L473.5 1101.6 L474.5 1101.9 L475.5 1102.2 L476.5 1102.6 L477.5 1102.9 L478.5 1103.2 L479.5 1103.6 L480.5 1104.0 L481.5 1104.4 L482.5 1104.8 L483.5 1105.1 L484.5 1105.4 L485.5 1106.0 L486.5 1106.3 L487.5 1106.6 L488.5 1107.1 L489.5 1107.5 L490.5 1107.8 L491.5 1108.0 L492.5 1108.2 L493.5 1108.7 L494.5 1109.2 L495.5 1109.4 L496.5 1109.5 L497.5 1109.9 L498.5 1110.2 L499.5 1110.5 L500.5 1111.0 L501.5 1111.6 L502.5 1112.1 L503.5 1112.3 L504.5 1112.6 L505.5 1112.9 L506.5 1113.2 L507.5 1113.8 L508.5 1114.2 L509.5 1114.2 L510.5 1114.2 L511.5 1114.5 L512.5 1115.0 L513.5 1115.2 L514.5 1115.6 L515.5 1115.9 L516.5 1116.0 L517.5 1116.2 L518.5 1116.5 L519.5 1116.9 L520.5 1117.2 L521.5 1117.5 L522.5 1117.8 L523.5 1118.0 L524.5 1118.4 L525.5 1118.9 L526.5 1119.3 L527.5 1119.7 L528.5 1120.1 L529.5 1120.5 L530.5 1121.0 L531.5 1121.5 L532.5 1122.2 L533.5 1122.7 L534.5 1123.1 L535.5 1123.4 L536.5 1124.0 L537.5 1124.5 L538.5 1124.9 L539.5 1125.4 L540.5 1126.1 L541.5 1126.6 L542.5 1126.8 L543.5 1127.3 L544.5 1128.0 L545.5 1128.3 L546.5 1128.7 L547.5 1129.2 L548.5 1129.7 L549.5 1130.3 L550.5 1130.8 L551.5 1131.3 L552.5 1132.1 L553.5 1132.6 L554.5 1132.9 L555.5 1133.8 L556.5 1134.6 L557.5 1135.0 L558.5 1135.7 L559.5 1136.3 L560.5 1136.8 L561.5 1137.6 L562.5 1138.6 L563.5 1139.1 L564.5 1139.5 L565.5 1140.2 L566.5 1141.0 L567.5 1141.9 L568.5 1142.6 L569.5 1143.1 L570.5 1143.7 L571.5 1144.4 L572.5 1145.1 L573.5 1145.9 L574.5 1146.7 L575.5 1147.4 L576.5 1148.1 L577.5 1148.8 L578.5 1149.5 L579.5 1150.2 L580.5 1151.0 L581.5 1151.9 L582.5 1152.7 L583.5 1153.3 L584.5 1153.8 L585.5 1154.5 L586.5 1155.3 L587.5 1156.0 L588.5 1156.8 L589.5 1157.5 L590.5 1158.2 L591.5 1159.1 L592.5 1159.9 L593.5 1160.6 L594.5 1161.1 L595.5 1161.9 L596.5 1162.6 L597.5 1163.3 L598.5 1164.0 L599.5 1164.8 L600.5 1165.5 L601.5 1166.3 L602.5 1167.4 L603.5 1168.4 L604.5 1169.5 L605.5 1170.3 L606.5 1171.0 L607.5 1171.7 L608.5 1172.4 L609.5 1172.9 L610.5 1173.5 L611.5 1174.1 L612.5 1174.7 L613.5 1175.4 L614.5 1176.1 L615.5 1176.5 L616.5 1176.7 L617.5 1177.1 L618.5 1177.6 L619.5 1178.0 L620.5 1178.4 L621.5 1178.8 L622.5 1179.1 L623.5 1179.6 L624.5 1179.9 L625.5 1180.1 L626.5 1180.4 L627.5 1180.7 L628.5 1180.9 L629.5 1181.0 L630.5 1181.4 L631.5 1181.7 L632.5 1181.9 L633.5 1182.4 L634.5 1182.7 L635.5 1182.9 L636.5 1183.0 L637.5 1183.3 L638.5 1183.5 L639.5 1183.6 L640.5 1183.6 L641.5 1184.1 L642.5 1184.5 L643.5 1184.7 L644.5 1184.8 L645.5 1185.0 L646.5 1185.4 L647.5 1185.7 L648.5 1186.0 L649.5 1186.3 L650.5 1186.7 L651.5 1186.9 L652.5 1187.2 L653.5 1187.7 L654.5 1188.2 L655.5 1188.5 L656.5 1188.8 L657.5 1189.3 L658.5 1189.8 L659.5 1190.2 L660.5 1190.5 L661.5 1190.8 L662.5 1191.1 L663.5 1191.6 L664.5 1192.0 L665.5 1192.5 L666.5 1193.2 L667.5 1193.8 L668.5 1194.3 L669.5 1194.6 L670.5 1194.9 L671.5 1195.2 L672.5 1195.5 L673.5 1195.8 L674.5 1195.9 L675.5 1196.0 L676.5 1195.9 L677.5 1195.8 L678.5 1195.7 L679.5 1195.6 L680.5 1195.1 L681.5 1194.7 L682.5 1193.6 L683.5 1192.0 L684.5 1189.7 L685.5 1187.1 L686.5 1184.3 L687.5 1180.4 L688.5 1175.8 L689.5 1170.3 L690.5 1163.1 L691.5 1155.0 L692.5 1146.1 L693.5 1136.3 L694.5 1127.2 L695.5 1118.1 L696.5 1110.3 L697.5 1105.5 L698.5 1101.9 L699.5 1099.8 L700.5 1098.9 L701.5 1098.2 L702.5 1097.8 L703.5 1097.9 L704.5 1098.3 L705.5 1098.5 L706.5 1098.2 L707.5 1097.6 L708.5 1095.4 L709.5 1091.8 L710.5 1082.6 L711.5 1070.2 L712.5 1056.1 L713.5 1040.8 L714.5 1025.2 L715.5 1009.0 L716.5 994.1 L717.5 979.2 L718.5 967.6 L719.5 961.5 L720.5 957.6 L721.5 957.7 L722.5 961.9 L723.5 969.5 L724.5 983.6 L725.5 995.0 L726.5 1004.6 L727.5 1013.4 L728.5 1021.8 L729.5 1029.9 L730.5 1037.7 L731.5 1045.0 L732.5 1052.1 L733.5 1059.2 L734.5 1066.2 L735.5 1072.8 L736.5 1078.8 L737.5 1084.2 L738.5 1089.5 L739.5 1094.2 L740.5 1098.0 L741.5 1100.3 L742.5 1102.1 L743.5 1103.0 L744.5 1102.7 L745.5 1101.6 L746.5 1100.1 L747.5 1097.4 L748.5 1094.3 L749.5 1091.5 L750.5 1089.1 L751.5 1087.1 L752.5 1084.9 L753.5 1078.3 L754.5 1063.6 L755.5 1049.0 L756.5 1034.5 L757.5 1025.1 L758.5 1019.8 L759.5 1023.6 L760.5 1032.0 L761.5 1047.7 L762.5 1064.7 L763.5 1080.4 L764.5 1094.2 L765.5 1106.3 L766.5 1117.1 L767.5 1126.8 L768.5 1135.6 L769.5 1142.4 L770.5 1147.6 L771.5 1152.0 L772.5 1155.7 L773.5 1159.0 L774.5 1161.8 L775.5 1164.5 L776.5 1166.8 L777.5 1168.8 L778.5 1170.7 L779.5 1172.5 L780.5 1174.0 L781.5 1175.5 L782.5 1176.8 L783.5 1177.9 L784.5 1178.8 L785.5 1179.6 L786.5 1180.4 L787.5 1181.0 L788.5 1181.8 L789.5 1182.5 L790.5 1183.1 L791.5 1183.7 L792.5 1184.4 L793.5 1185.0 L794.5 1185.7 L795.5 1186.4 L796.5 1187.1 L797.5 1187.6 L798.5 1188.1 L799.5 1188.5 L800.5 1188.9 L801.5 1189.4 L802.5 1189.6 L803.5 1189.7 L804.5 1190.1 L805.5 1190.7 L806.5 1191.1 L807.5 1191.2 L808.5 1191.5 L809.5 1191.7 L810.5 1191.6 L811.5 1191.7 L812.5 1191.8 L813.5 1191.6 L814.5 1191.5 L815.5 1191.3 L816.5 1191.1 L817.5 1191.2 L818.5 1191.4 L819.5 1191.4 L820.5 1191.3 L821.5 1191.3 L822.5 1191.4 L823.5 1191.2 L824.5 1191.0 L825.5 1191.0 L826.5 1191.1 L827.5 1191.3 L828.5 1191.6 L829.5 1191.8 L830.5 1192.1 L831.5 1192.2 L832.5 1192.3 L833.5 1192.5 L834.5 1192.8 L835.5 1193.1 L836.5 1193.5 L837.5 1193.7 L838.5 1193.5 L839.5 1193.3 L840.5 1193.6 L841.5 1193.8 L842.5 1193.8 L843.5 1193.6 L844.5 1193.4 L845.5 1193.6 L846.5 1194.0 L847.5 1194.2 L848.5 1194.1 L849.5 1194.0 L850.5 1194.1 L851.5 1194.1 L852.5 1194.1 L853.5 1194.2 L854.5 1194.2 L855.5 1194.1 L856.5 1194.2 L857.5 1194.3 L858.5 1194.3 L859.5 1194.3 L860.5 1194.3 L861.5 1194.2 L862.5 1194.4 L863.5 1194.6 L864.5 1194.6 L865.5 1194.6 L866.5 1194.7 L867.5 1194.8 L868.5 1194.7 L869.5 1194.7 L870.5 1194.8 L871.5 1194.8 L872.5 1194.6 L873.5 1194.5 L874.5 1194.7 L875.5 1194.8 L876.5 1194.9 L877.5 1194.9 L878.5 1194.8 L879.5 1194.8 L880.5 1194.9 L881.5 1194.9 L882.5 1195.0 L883.5 1195.1 L884.5 1195.1 L885.5 1195.1 L886.5 1195.2 L887.5 1195.1 L888.5 1194.9 L889.5 1194.9 L890.5 1195.2 L891.5 1195.1 L892.5 1195.1 L893.5 1195.2 L894.5 1195.2 L895.5 1195.2 L896.5 1195.2 L897.5 1195.2 L898.5 1195.0 L899.5 1195.1 L900.5 1195.3 L901.5 1195.3 L902.5 1195.5 L903.5 1195.6 L904.5 1195.4 L905.5 1195.4 L906.5 1195.5 L907.5 1195.4 L908.5 1195.4 L909.5 1195.3 L910.5 1195.4 L911.5 1195.7 L912.5 1195.7 L913.5 1195.4 L914.5 1195.4 L915.5 1195.5 L916.5 1195.6 L917.5 1195.7 L918.5 1195.6 L919.5 1195.5 L920.5 1195.5 L921.5 1195.7 L922.5 1195.8 L923.5 1195.8 L924.5 1195.6 L925.5 1195.6 L926.5 1195.7 L927.5 1195.7 L928.5 1195.7 L929.5 1195.7 L930.5 1195.7 L931.5 1195.7 L932.5 1195.8 L933.5 1195.7 L934.5 1195.7 L935.5 1195.7 L936.5 1195.6 L937.5 1195.7 L938.5 1195.8 L939.5 1195.8 L940.5 1195.7 L941.5 1195.7 L942.5 1195.8 L943.5 1195.7 L944.5 1195.6 L945.5 1195.8 L946.5 1195.9 L947.5 1195.7 L948.5 1195.6 L949.5 1195.7 L950.5 1195.7 L951.5 1195.7 L952.5 1195.6 L953.5 1195.7 L954.5 1195.8 L955.5 1195.9 L956.5 1195.9 L957.5 1195.8 L958.5 1195.7 L959.5 1195.8 L960.5 1195.9 L961.5 1195.9 L962.5 1196.0 L963.5 1195.9 L964.5 1195.8 L965.5 1195.8 L966.5 1195.9 L967.5 1196.1 L968.5 1196.0 L969.5 1195.9 L970.5 1195.8 L971.5 1195.7 L972.5 1195.7 L973.5 1195.8 L974.5 1196.0 L975.5 1196.1 L976.5 1196.0 L977.5 1196.0 L978.5 1196.2 L979.5 1196.2 L980.5 1196.1 L981.5 1196.1 L982.5 1196.1 L983.5 1196.0 L984.5 1196.0 L985.5 1196.0 L986.5 1195.7 L987.5 1195.5 L988.5 1195.6 L989.5 1195.8 L990.5 1195.9 L991.5 1196.1 L992.5 1196.0 L993.5 1196.0 L994.5 1196.2 L995.5 1196.3 L996.5 1196.1 L997.5 1196.0 L998.5 1196.1 L999.5 1196.1 L1000.5 1195.9 L1001.5 1195.7 L1002.5 1195.8 L1003.5 1196.0 L1004.5 1196.0 L1005.5 1195.8 L1006.5 1195.9 L1007.5 1196.0 L1008.5 1196.1 L1009.5 1196.2 L1010.5 1196.3 L1011.5 1196.1 L1012.5 1195.9 L1013.5 1195.5 L1014.5 1195.2 L1015.5 1195.0 L1016.5 1194.9 L1017.5 1194.8 L1018.5 1194.5 L1019.5 1194.1 L1020.5 1193.9 L1021.5 1193.9 L1022.5 1193.8 L1023.5 1193.9 L1024.5 1194.0 L1025.5 1193.8 L1026.5 1193.8 L1027.5 1194.0 L1028.5 1194.2 L1029.5 1194.1 L1030.5 1194.1 L1031.5 1194.3 L1032.5 1194.6 L1033.5 1194.9 L1034.5 1195.1 L1035.5 1195.0 L1036.5 1194.8 L1037.5 1194.9 L1038.5 1195.3 L1039.5 1195.5 L1040.5 1195.5 L1041.5 1195.3 L1042.5 1195.3 L1043.5 1195.5 L1044.5 1195.8 L1045.5 1195.9 L1046.5 1196.0 L1047.5 1196.0 L1048.5 1196.0 L1049.5 1196.1 L1050.5 1196.4 L1051.5 1196.4 L1052.5 1196.2 L1053.5 1196.2 L1054.5 1196.2 L1055.5 1196.2 L1056.5 1196.2 L1057.5 1196.3 L1058.5 1196.3 L1059.5 1196.2 L1060.5 1196.0 L1061.5 1196.0 L1062.5 1196.3 L1063.5 1196.4 L1064.5 1196.2 L1065.5 1196.1 L1066.5 1196.2 L1067.5 1196.2 L1068.5 1196.3 L1069.5 1196.3 L1070.5 1196.3 L1071.5 1196.3 L1072.5 1196.2 L1073.5 1196.2 L1074.5 1196.3 L1075.5 1196.4 L1076.5 1196.4 L1077.5 1196.5 L1078.5 1196.6 L1079.5 1196.5 L1080.5 1196.3 L1081.5 1196.2 L1082.5 1196.3 L1083.5 1196.4 L1084.5 1196.5 L1085.5 1196.5 L1086.5 1196.6 L1087.5 1196.5 L1088.5 1196.2 L1089.5 1196.3 L1090.5 1196.5 L1091.5 1196.5 L1092.5 1196.5 L1093.5 1196.4 L1094.5 1196.6 L1095.5 1196.7 L1096.5 1196.6 L1097.5 1196.5 L1098.5 1196.4 L1099.5 1196.4 L1100.5 1196.5 L1101.5 1196.6 L1102.5 1196.6 L1103.5 1196.4 L1104.5 1196.3 L1105.5 1196.5 L1106.5 1196.7 L1107.5 1196.7 L1108.5 1196.6 L1109.5 1196.5 L1110.5 1196.6 L1111.5 1196.6 L1112.5 1196.5 L1113.5 1196.4 L1114.5 1196.5 L1115.5 1196.6 L1116.5 1196.6 L1117.5 1196.3 L1118.5 1196.0 L1119.5 1196.0 L1120.5 1196.2 L1121.5 1196.3 L1122.5 1196.3 L1123.5 1196.1 L1124.5 1196.1 L1125.5 1196.2 L1126.5 1196.1 L1127.5 1196.0 L1128.5 1195.9 L1129.5 1195.9 L1130.5 1196.2 L1131.5 1196.3 L1132.5 1196.1 L1133.5 1195.9 L1134.5 1195.9 L1135.5 1196.0 L1136.5 1195.9 L1137.5 1195.8 L1138.5 1195.8 L1139.5 1195.9 L1140.5 1195.9 L1141.5 1196.0 L1142.5 1196.0 L1143.5 1196.0 L1144.5 1195.8 L1145.5 1195.5 L1146.5 1195.5 L1147.5 1195.8 L1148.5 1195.8 L1149.5 1195.8 L1150.5 1195.8 L1151.5 1195.8 L1152.5 1195.7 L1153.5 1195.5 L1154.5 1195.4 L1155.5 1195.2 L1156.5 1195.3 L1157.5 1195.3 L1158.5 1195.3 L1159.5 1195.4 L1160.5 1195.4 L1161.5 1195.3 L1162.5 1195.2 L1163.5 1195.3 L1164.5 1195.3 L1165.5 1195.4 L1166.5 1195.4 L1167.5 1195.2 L1168.5 1195.1 L1169.5 1195.3 L1170.5 1195.4 L1171.5 1195.4 L1172.5 1195.3 L1173.5 1195.3 L1174.5 1195.4 L1175.5 1195.3 L1176.5 1195.1 L1177.5 1195.1 L1178.5 1195.2 L1179.5 1195.1 L1180.5 1195.1 L1181.5 1195.2 L1182.5 1195.3 L1183.5 1195.3 L1184.5 1195.3 L1185.5 1195.2 L1186.5 1195.0 L1187.5 1194.9 L1188.5 1195.1 L1189.5 1195.3 L1190.5 1195.4 L1191.5 1195.7 L1192.5 1195.7 L1193.5 1195.5 L1194.5 1195.6 L1195.5 1195.8 L1196.5 1195.9 L1197.5 1195.7 L1198.5 1195.7 L1199.5 1195.9 L1200.5 1196.0 L1201.5 1195.9 L1202.5 1196.0 L1203.5 1196.0 L1204.5 1196.0 L1205.5 1196.3 L1206.5 1196.5 L1207.5 1196.4 L1208.5 1196.2 L1209.5 1196.2 L1210.5 1196.4 L1211.5 1196.4 L1212.5 1196.4 L1213.5 1196.6 L1214.5 1196.7 L1215.5 1196.6 L1216.5 1196.7 L1217.5 1196.8 L1218.5 1196.8 L1219.5 1197.0 L1220.5 1197.1 L1221.5 1197.1 L1222.5 1197.2 L1223.5 1197.4 L1224.5 1197.3 L1225.5 1197.2 L1226.5 1197.5 L1227.5 1197.6 L1228.5 1197.3 L1229.5 1197.1 L1230.5 1197.1 L1231.5 1197.1 L1232.5 1197.2 L1233.5 1197.4 L1234.5 1197.4 L1235.5 1197.4 L1236.5 1197.4 L1237.5 1197.5 L1238.5 1197.4 L1239.5 1197.0 L1240.5 1196.9 L1241.5 1197.1 L1242.5 1197.3 L1243.5 1197.3 L1244.5 1197.1 L1245.5 1197.1 L1246.5 1197.3 L1247.5 1197.2 L1248.5 1197.1 L1249.5 1197.1 L1250.5 1197.0 L1251.5 1196.9 L1252.5 1196.8 L1253.5 1196.7 L1254.5 1196.8 L1255.5 1196.8 L1256.5 1196.4 L1257.5 1196.3 L1258.5 1196.5 L1259.5 1196.6 L1260.5 1196.6 L1261.5 1196.7 L1262.5 1196.7 L1263.5 1196.7 L1264.5 1196.6 L1265.5 1196.3 L1266.5 1196.2 L1267.5 1196.2 L1268.5 1196.2 L1269.5 1196.3 L1270.5 1196.2 L1271.5 1195.9 L1272.5 1195.8 L1273.5 1196.0 L1274.5 1196.2 L1275.5 1196.0 L1276.5 1195.8 L1277.5 1195.6 L1278.5 1195.5 L1279.5 1195.7 L1280.5 1195.7 L1281.5 1195.8 L1282.5 1195.8 L1283.5 1195.6 L1284.5 1195.7 L1285.5 1195.8 L1286.5 1195.7 L1287.5 1195.6 L1288.5 1195.6 L1289.5 1195.6 L1290.5 1195.7 L1291.5 1195.7 L1292.5 1195.5 L1293.5 1195.4 L1294.5 1195.4 L1295.5 1195.5 L1296.5 1195.7 L1297.5 1195.6 L1298.5 1195.5 L1299.5 1195.5 L1300.5 1195.5 L1301.5 1195.4 L1302.5 1195.3 L1303.5 1195.3 L1304.5 1195.3 L1305.5 1195.3 L1306.5 1195.3 L1307.5 1195.4 L1308.5 1195.5 L1309.5 1195.6 L1310.5 1195.4 L1311.5 1195.4 L1312.5 1195.5 L1313.5 1195.5 L1314.5 1195.5 L1315.5 1195.4 L1316.5 1195.1 L1317.5 1195.1 L1318.5 1195.3 L1319.5 1195.4 L1320.5 1195.3 L1321.5 1195.3 L1322.5 1195.4 L1323.5 1195.5 L1324.5 1195.5 L1325.5 1195.5 L1326.5 1195.5 L1327.5 1195.5 L1328.5 1195.6 L1329.5 1195.6 L1330.5 1195.3 L1331.5 1195.2 L1332.5 1195.2 L1333.5 1195.3 L1334.5 1195.3 L1335.5 1195.2 L1336.5 1195.2 L1337.5 1195.1 L1338.5 1195.0 L1339.5 1194.9 L1340.5 1195.0 L1341.5 1195.1 L1342.5 1195.2 L1343.5 1195.1 L1344.5 1195.0 L1345.5 1195.0 L1346.5 1195.0 L1347.5 1195.0 L1348.5 1194.9 L1349.5 1194.9 L1350.5 1195.1 L1351.5 1195.0 L1352.5 1195.0 L1353.5 1194.8 L1354.5 1194.5 L1355.5 1194.4 L1356.5 1194.5 L1357.5 1194.5 L1358.5 1194.4 L1359.5 1194.3 L1360.5 1194.3 L1361.5 1193.9 L1362.5 1193.7 L1363.5 1193.4 L1364.5 1193.2 L1365.5 1193.6 L1366.5 1193.9 L1367.5 1193.5 L1368.5 1193.1 L1369.5 1192.7 L1370.5 1192.3 L1371.5 1191.4 L1372.5 1190.7 L1373.5 1190.4 L1374.5 1190.1 L1375.5 1189.5 L1376.5 1188.8 L1377.5 1188.3 L1378.5 1187.5 L1379.5 1186.1 L1380.5 1185.3 L1381.5 1184.4 L1382.5 1182.8 L1383.5 1182.0 L1384.5 1181.8 L1385.5 1181.1 L1386.5 1180.1 L1387.5 1179.7 L1388.5 1179.5 L1389.5 1179.3 L1390.5 1179.2 L1391.5 1179.4 L1392.5 1180.2 L1393.5 1181.3 L1394.5 1182.0 L1395.5 1182.4 L1396.5 1183.0 L1397.5 1183.7 L1398.5 1184.5 L1399.5 1185.1 L1400.5 1185.7 L1401.5 1186.5 L1402.5 1187.3 L1403.5 1187.8 L1404.5 1188.3 L1405.5 1188.7 L1406.5 1188.6 L1407.5 1188.8 L1408.5 1189.0 L1409.5 1188.3 L1410.5 1187.3 L1411.5 1186.4 L1412.5 1185.4 L1413.5 1183.9 L1414.5 1182.4 L1415.5 1181.5 L1416.5 1180.4 L1417.5 1178.9 L1418.5 1177.9 L1419.5 1177.2 L1420.5 1176.4 L1421.5 1175.4 L1422.5 1174.5 L1423.5 1173.8 L1424.5 1173.0 L1425.5 1172.0 L1426.5 1170.8 L1427.5 1169.7 L1428.5 1168.9 L1429.5 1168.1 L1430.5 1166.9 L1431.5 1165.3 L1432.5 1163.9 L1433.5 1162.6 L1434.5 1161.2 L1435.5 1159.6 L1436.5 1158.0 L1437.5 1156.4 L1438.5 1154.9 L1439.5 1153.8 L1440.5 1152.7 L1441.5 1151.7 L1442.5 1150.9 L1443.5 1150.0 L1444.5 1149.1 L1445.5 1148.6 L1446.5 1148.9 L1447.5 1149.9 L1448.5 1150.8 L1449.5 1151.6 L1450.5 1152.6 L1451.5 1153.9 L1452.5 1155.2 L1453.5 1156.3 L1454.5 1157.0 L1455.5 1157.7 L1456.5 1159.0 L1457.5 1160.5 L1458.5 1161.8 L1459.5 1163.0 L1460.5 1164.2 L1461.5 1165.5 L1462.5 1166.7 L1463.5 1167.7 L1464.5 1168.4 L1465.5 1169.5 L1466.5 1171.1 L1467.5 1172.7 L1468.5 1173.8 L1469.5 1174.7 L1470.5 1175.8 L1471.5 1177.1 L1472.5 1178.0 L1473.5 1178.8 L1474.5 1180.0 L1475.5 1181.4 L1476.5 1182.7 L1477.5 1183.8 L1478.5 1184.7 L1479.5 1185.7 L1480.5 1186.1 L1481.5 1186.3 L1482.5 1187.3 L1483.5 1188.2 L1484.5 1189.2 L1485.5 1190.8 L1486.5 1192.0 L1487.5 1192.8 L1488.5 1193.8 L1489.5 1195.1 L1490.5 1195.7 L1491.5 1196.0 L1492.5 1196.0 L1493.5 1196.0 L1494.5 1196.5 L1495.5 1196.7 L1496.5 1196.1 L1497.5 1195.3 L1498.5 1194.6 L1499.5 1193.6 L1500.5 1192.4 L1501.5 1191.4 L1502.5 1190.4 L1503.5 1189.1 L1504.5 1186.7 L1505.5 1183.3 L1506.5 1179.0 L1507.5 1173.7 L1508.5 1167.6 L1509.5 1157.0 L1510.5 1142.8 L1511.5 1129.3 L1512.5 1118.8 L1513.5 1108.8 L1514.5 1100.3 L1515.5 1094.6 L1516.5 1090.9 L1517.5 1087.7 L1518.5 1085.3 L1519.5 1084.5 L1520.5 1085.8 L1521.5 1088.6 L1522.5 1092.9 L1523.5 1097.4 L1524.5 1101.2 L1525.5 1104.7 L1526.5 1108.1 L1527.5 1111.4 L1528.5 1114.9 L1529.5 1118.6 L1530.5 1122.5 L1531.5 1127.0 L1532.5 1132.4 L1533.5 1138.2 L1534.5 1143.7 L1535.5 1148.2 L1536.5 1150.9 L1537.5 1153.4 L1538.5 1155.9 L1539.5 1157.6 L1540.5 1159.3 L1541.5 1161.1 L1542.5 1162.9 L1543.5 1164.2 L1544.5 1165.2 L1545.5 1166.3 L1546.5 1167.6 L1547.5 1169.1 L1548.5 1170.6 L1549.5 1171.7 L1550.5 1172.7 L1551.5 1173.2 L1552.5 1173.3 L1553.5 1173.8 L1554.5 1173.3 L1555.5 1171.1 L1556.5 1168.1 L1557.5 1164.9 L1558.5 1161.2 L1559.5 1154.8 L1560.5 1144.7 L1561.5 1134.6 L1562.5 1127.6 L1563.5 1126.5 L1564.5 1129.3 L1565.5 1133.8 L1566.5 1139.1 L1567.5 1144.2 L1568.5 1147.9 L1569.5 1150.9 L1570.5 1153.8 L1571.5 1156.9 L1572.5 1159.3 L1573.5 1161.0 L1574.5 1161.8 L1575.5 1162.6 L1576.5 1163.2 L1577.5 1163.4 L1578.5 1164.2 L1579.5 1164.7 L1580.5 1164.5 L1581.5 1165.1 L1582.5 1166.0 L1583.5 1166.3 L1584.5 1166.5 L1585.5 1167.4 L1586.5 1168.5 L1587.5 1168.9 L1588.5 1168.8 L1589.5 1168.9 L1590.5 1169.4 L1591.5 1169.4 L1592.5 1168.9 L1593.5 1168.6 L1594.5 1168.2 L1595.5 1168.1 L1596.5 1168.0 L1597.5 1167.4 L1598.5 1167.1 L1599.5 1168.1 L1600.5 1168.8 L1601.5 1169.4 L1602.5 1170.2 L1603.5 1171.0 L1604.5 1171.7 L1605.5 1172.2 L1606.5 1172.6 L1607.5 1172.9 L1608.5 1173.2 L1609.5 1173.6 L1610.5 1174.1 L1611.5 1174.8 L1612.5 1175.6 L1613.5 1176.1 L1614.5 1176.5 L1615.5 1176.7 L1616.5 1176.6 L1617.5 1176.9 L1618.5 1177.3 L1619.5 1177.6 L1620.5 1177.5 L1621.5 1177.5 L1622.5 1177.5 L1623.5 1177.4 L1624.5 1178.0 L1625.5 1178.6 L1626.5 1178.7 L1627.5 1178.5 L1628.5 1178.4 L1629.5 1178.5 L1630.5 1178.4 L1631.5 1178.3 L1632.5 1178.5 L1633.5 1178.8 L1634.5 1179.3 L1635.5 1179.9 L1636.5 1180.3 L1637.5 1180.7 L1638.5 1181.2 L1639.5 1181.6 L1640.5 1182.0 L1641.5 1182.7 L1642.5 1183.2 L1643.5 1183.5 L1644.5 1183.8 L1645.5 1183.9 L1646.5 1184.2 L1647.5 1184.5 L1648.5 1184.7 L1649.5 1184.6 L1650.5 1184.4 L1651.5 1184.4 L1652.5 1184.4 L1653.5 1184.1 L1654.5 1184.0 L1655.5 1184.4 L1656.5 1184.7 L1657.5 1184.7 L1658.5 1184.6 L1659.5 1184.6 L1660.5 1184.9 L1661.5 1185.1 L1662.5 1184.7 L1663.5 1184.7 L1664.5 1184.8 L1665.5 1185.0 L1666.5 1185.0 L1667.5 1184.6 L1668.5 1184.8 L1669.5 1185.1 L1670.5 1183.9 L1671.5 1182.1 L1672.5 1180.5 L1673.5 1178.8 L1674.5 1177.3 L1675.5 1176.6 L1676.5 1176.1 L1677.5 1175.5 L1678.5 1175.0 L1679.5 1174.2 L1680.5 1174.0 L1681.5 1174.9 L1682.5 1176.2 L1683.5 1177.9 L1684.5 1179.5 L1685.5 1181.0 L1686.5 1182.3 L1687.5 1183.7 L1688.5 1184.9 L1689.5 1185.8 L1690.5 1186.7 L1691.5 1186.6 L1692.5 1185.8 L1693.5 1185.4 L1694.5 1185.5 L1695.5 1185.2 L1696.5 1184.8 L1697.5 1184.3 L1698.5 1183.6 L1699.5 1183.3 L1700.5 1183.2 L1701.5 1183.4 L1702.5 1183.7 L1703.5 1184.3 L1704.5 1184.7 L1705.5 1185.0 L1706.5 1185.6 L1707.5 1185.8 L1708.5 1185.9 L1709.5 1186.3 L1710.5 1186.6 L1711.5 1186.5 L1712.5 1186.6 L1713.5 1186.8 L1714.5 1186.8 L1715.5 1186.7 L1716.5 1186.4 L1717.5 1186.1 L1718.5 1186.2 L1719.5 1186.4 L1720.5 1186.3 L1721.5 1186.2 L1722.5 1186.1 L1723.5 1185.7 L1724.5 1185.5 L1725.5 1185.3 L1726.5 1185.3 L1727.5 1185.4 L1728.5 1185.0 L1729.5 1184.6 L1730.5 1184.8 L1731.5 1184.8 L1732.5 1184.4 L1733.5 1184.1 L1734.5 1183.4 L1735.5 1182.9 L1736.5 1183.0 L1737.5 1182.8 L1738.5 1182.1 L1739.5 1181.5 L1740.5 1181.1 L1741.5 1181.0 L1742.5 1180.8 L1743.5 1180.4 L1744.5 1179.8 L1745.5 1179.3 L1746.5 1179.1 L1747.5 1179.0 L1748.5 1178.8 L1749.5 1178.5 L1750.5 1178.5 L1751.5 1178.7 L1752.5 1178.9 L1753.5 1179.2 L1754.5 1179.8 L1755.5 1180.5 L1756.5 1181.1 L1757.5 1181.4 L1758.5 1182.3 L1759.5 1183.2 L1760.5 1183.6 L1761.5 1183.9 L1762.5 1184.3 L1763.5 1185.5 L1764.5 1187.2 L1765.5 1187.8 L1766.5 1188.4 L1767.5 1189.4 L1768.5 1190.1 L1769.5 1190.8 L1770.5 1191.8 L1771.5 1192.9 L1772.5 1193.4 L1773.5 1193.5 L1774.5 1193.8 L1775.5 1194.0 L1776.5 1194.1 L1777.5 1194.3 L1778.5 1194.4 L1779.5 1194.3 L1780.5 1194.1 L1781.5 1194.4 L1782.5 1194.9 L1783.5 1194.9 L1784.5 1194.5 L1785.5 1194.3 L1786.5 1194.3 L1787.5 1194.2 L1788.5 1194.4 L1789.5 1194.9 L1790.5 1195.2 L1791.5 1195.5 L1792.5 1195.8 L1793.5 1195.2 L1794.5 1194.3 L1795.5 1194.3 L1796.5 1194.8 L1797.5 1194.8 L1798.5 1194.6 L1799.5 1194.7 L1800.5 1194.7 L1801.5 1194.9 L1802.5 1195.0 L1803.5 1194.8 L1804.5 1194.8 L1805.5 1195.1 L1806.5 1195.1 L1807.5 1195.4 L1808.5 1195.4 L1809.5 1195.1 L1810.5 1195.1 L1811.5 1195.2 L1812.5 1194.9 L1813.5 1195.0 L1814.5 1195.2 L1815.5 1195.3 L1816.5 1195.1 L1817.5 1194.2 L1818.5 1193.0 L1819.5 1191.6 L1820.5 1190.8 L1821.5 1190.2 L1822.5 1189.6 L1823.5 1188.8 L1824.5 1187.5 L1825.5 1186.2 L1826.5 1184.7 L1827.5 1183.1 L1828.5 1181.6 L1829.5 1180.0 L1830.5 1178.1 L1831.5 1176.7 L1832.5 1175.2 L1833.5 1173.1 L1834.5 1171.6 L1835.5 1171.0 L1836.5 1170.2 L1837.5 1169.1 L1838.5 1168.4 L1839.5 1168.0 L1840.5 1167.7 L1841.5 1166.9 L1842.5 1166.0 L1843.5 1165.7 L1844.5 1165.8 L1845.5 1165.9 L1846.5 1165.5 L1847.5 1165.4 L1848.5 1166.3 L1849.5 1167.8 L1850.5 1169.0 L1851.5 1169.7 L1852.5 1170.1 L1853.5 1170.6 L1854.5 1171.1 L1855.5 1171.3 L1856.5 1169.9 L1857.5 1166.6 L1858.5 1162.9 L1859.5 1159.1 L1860.5 1155.6 L1861.5 1153.1 L1862.5 1151.4 L1863.5 1149.8 L1864.5 1148.4 L1865.5 1147.5 L1866.5 1146.5 L1867.5 1145.7 L1868.5 1145.2 L1869.5 1145.1 L1870.5 1145.2 L1871.5 1145.3 L1872.5 1146.1 L1873.5 1147.0 L1874.5 1147.6 L1875.5 1148.8 L1876.5 1150.4 L1877.5 1151.2 L1878.5 1151.8 L1879.5 1152.7 L1880.5 1153.5 L1881.5 1154.1 L1882.5 1154.9 L1883.5 1155.6 L1884.5 1155.5 L1885.5 1154.9 L1886.5 1154.7 L1887.5 1154.7 L1888.5 1154.2 L1889.5 1153.8 L1890.5 1153.7 L1891.5 1153.3 L1892.5 1152.4 L1893.5 1151.6 L1894.5 1151.0 L1895.5 1150.2 L1896.5 1149.4 L1897.5 1149.0 L1898.5 1148.2 L1899.5 1146.7 L1900.5 1145.0 L1901.5 1143.6 L1902.5 1142.0 L1903.5 1139.9 L1904.5 1138.0 L1905.5 1136.4 L1906.5 1134.9 L1907.5 1134.4 L1908.5 1134.6 L1909.5 1134.6 L1910.5 1135.1 L1911.5 1135.8 L1912.5 1136.5 L1913.5 1137.2 L1914.5 1135.9 L1915.5 1132.7 L1916.5 1129.3 L1917.5 1125.9 L1918.5 1123.0 L1919.5 1121.4 L1920.5 1122.1 L1921.5 1125.5 L1922.5 1131.1 L1923.5 1137.8 L1924.5 1144.4 L1925.5 1149.7 L1926.5 1152.6 L1927.5 1154.4 L1928.5 1156.1 L1929.5 1157.2 L1930.5 1158.3 L1931.5 1159.8 L1932.5 1161.2 L1933.5 1162.5 L1934.5 1163.4 L1935.5 1163.7 L1936.5 1164.0 L1937.5 1164.5 L1938.5 1165.0 L1939.5 1165.6 L1940.5 1166.0 L1941.5 1166.3 L1942.5 1166.6 L1943.5 1167.1 L1944.5 1167.3 L1945.5 1167.5 L1946.5 1167.9 L1947.5 1168.4 L1948.5 1168.9 L1949.5 1169.3 L1950.5 1169.2 L1951.5 1168.7 L1952.5 1168.5 L1953.5 1169.1 L1954.5 1170.1 L1955.5 1170.6 L1956.5 1171.1 L1957.5 1171.1 L1958.5 1171.2 L1959.5 1171.7 L1960.5 1172.3 L1961.5 1172.4 L1962.5 1172.7 L1963.5 1173.1 L1964.5 1172.7 L1965.5 1172.8 L1966.5 1173.7 L1967.5 1174.0 L1968.5 1174.1 L1969.5 1174.3 L1970.5 1174.2 L1971.5 1174.2 L1972.5 1174.6 L1973.5 1174.5 L1974.5 1174.0 L1975.5 1173.9 L1976.5 1174.0 L1977.5 1174.0 L1978.5 1174.1 L1979.5 1173.9 L1980.5 1174.1 L1981.5 1174.5 L1982.5 1174.4 L1983.5 1174.2 L1984.5 1174.1 L1985.5 1173.9 L1986.5 1173.9 L1987.5 1173.9 L1988.5 1173.8 L1989.5 1173.6 L1990.5 1173.4 L1991.5 1173.0 L1992.5 1172.8 L1993.5 1172.8 L1994.5 1172.1 L1995.5 1170.8 L1996.5 1170.0 L1997.5 1169.2 L1998.5 1168.4 L1999.5 1167.9 L2000.5 1167.1 L2001.5 1166.3 L2002.5 1165.6 L2003.5 1164.9 L2004.5 1164.1 L2005.5 1163.1 L2006.5 1161.9 L2007.5 1161.1 L2008.5 1160.3 L2009.5 1159.5 L2010.5 1158.2 L2011.5 1156.6 L2012.5 1155.6 L2013.5 1154.9 L2014.5 1153.7 L2015.5 1152.6 L2016.5 1151.6 L2017.5 1150.5 L2018.5 1149.5 L2019.5 1148.6 L2020.5 1147.3 L2021.5 1146.5 L2022.5 1145.7 L2023.5 1144.2 L2024.5 1143.0 L2025.5 1142.1 L2026.5 1140.9 L2027.5 1139.6 L2028.5 1138.5 L2029.5 1137.8 L2030.5 1137.3 L2031.5 1136.2 L2032.5 1134.7 L2033.5 1134.0 L2034.5 1133.4 L2035.5 1132.5 L2036.5 1131.7 L2037.5 1131.0 L2038.5 1130.0 L2039.5 1128.8 L2040.5 1128.4 L2041.5 1128.4 L2042.5 1128.2 L2043.5 1127.7 L2044.5 1127.1 L2045.5 1127.0 L2046.5 1127.5 L2047.5 1128.5 L2048.5 1129.8 L2049.5 1131.0 L2050.5 1132.9 L2051.5 1134.8 L2052.5 1136.2 L2053.5 1138.2 L2054.5 1140.0 L2055.5 1140.8 L2056.5 1141.5 L2057.5 1142.6 L2058.5 1143.7 L2059.5 1144.8 L2060.5 1145.7 L2061.5 1146.5 L2062.5 1147.5 L2063.5 1148.6 L2064.5 1149.5 L2065.5 1150.2 L2066.5 1151.1 L2067.5 1151.9 L2068.5 1152.8 L2069.5 1154.0 L2070.5 1155.6 L2071.5 1156.8 L2072.5 1157.7 L2073.5 1158.7 L2074.5 1159.7 L2075.5 1160.7 L2076.5 1161.7 L2077.5 1162.6 L2078.5 1163.9 L2079.5 1165.3 L2080.5 1166.1 L2081.5 1166.3 L2082.5 1166.9 L2083.5 1168.3 L2084.5 1169.9 L2085.5 1171.1 L2086.5 1171.8 L2087.5 1172.2 L2088.5 1173.3 L2089.5 1174.4 L2090.5 1175.3 L2091.5 1176.5 L2095.4 1176.7" stroke="#AE6EDE"/>
<path d="M131.0 1357.8 L134.5 1357.6 L135.5 1357.7 L136.5 1357.6 L137.5 1357.6 L138.5 1357.7 L139.5 1357.8 L140.5 1357.8 L141.5 1357.7 L142.5 1357.8 L143.5 1357.8 L144.5 1357.7 L145.5 1357.6 L146.5 1357.8 L147.5 1358.0 L148.5 1357.8 L149.5 1357.6 L150.5 1357.8 L151.5 1358.1 L152.5 1358.0 L153.5 1357.8 L154.5 1358.0 L155.5 1358.1 L156.5 1358.1 L157.5 1358.0 L158.5 1357.9 L159.5 1357.8 L160.5 1357.8 L161.5 1357.8 L162.5 1357.5 L163.5 1357.6 L164.5 1358.0 L165.5 1358.1 L166.5 1358.1 L167.5 1358.0 L168.5 1357.9 L169.5 1357.7 L170.5 1357.7 L171.5 1357.7 L172.5 1357.7 L173.5 1357.7 L174.5 1357.8 L175.5 1358.0 L176.5 1358.1 L177.5 1358.3 L178.5 1358.2 L179.5 1358.0 L180.5 1358.0 L181.5 1358.0 L182.5 1358.1 L183.5 1358.3 L184.5 1358.3 L185.5 1358.2 L186.5 1358.2 L187.5 1358.1 L188.5 1358.0 L189.5 1357.9 L190.5 1358.0 L191.5 1358.1 L192.5 1358.0 L193.5 1357.9 L194.5 1357.9 L195.5 1358.0 L196.5 1358.2 L197.5 1358.1 L198.5 1357.8 L199.5 1357.9 L200.5 1358.1 L201.5 1358.1 L202.5 1358.1 L203.5 1358.1 L204.5 1358.1 L205.5 1358.0 L206.5 1358.1 L207.5 1358.1 L208.5 1358.1 L209.5 1358.2 L210.5 1358.2 L211.5 1358.3 L212.5 1358.3 L213.5 1358.2 L214.5 1358.1 L215.5 1358.3 L216.5 1358.3 L217.5 1358.1 L218.5 1358.1 L219.5 1358.3 L220.5 1358.3 L221.5 1358.1 L222.5 1358.2 L223.5 1358.2 L224.5 1358.3 L225.5 1358.5 L226.5 1358.6 L227.5 1358.5 L228.5 1358.6 L229.5 1358.8 L230.5 1358.8 L231.5 1358.6 L232.5 1358.6 L233.5 1358.6 L234.5 1358.7 L235.5 1358.8 L236.5 1358.7 L237.5 1358.7 L238.5 1358.6 L239.5 1358.5 L240.5 1358.6 L241.5 1358.6 L242.5 1358.5 L243.5 1358.6 L244.5 1358.6 L245.5 1358.5 L246.5 1358.7 L247.5 1358.8 L248.5 1358.6 L249.5 1358.4 L250.5 1358.4 L251.5 1358.5 L252.5 1358.5 L253.5 1358.6 L254.5 1358.7 L255.5 1358.7 L256.5 1358.6 L257.5 1358.6 L258.5 1358.8 L259.5 1358.8 L260.5 1358.5 L261.5 1358.6 L262.5 1358.8 L263.5 1358.8 L264.5 1358.6 L265.5 1358.4 L266.5 1358.3 L267.5 1358.4 L268.5 1358.4 L269.5 1358.2 L270.5 1358.2 L271.5 1358.3 L272.5 1358.3 L273.5 1358.1 L274.5 1357.9 L275.5 1357.9 L276.5 1357.9 L277.5 1358.0 L278.5 1358.0 L279.5 1357.8 L280.5 1357.7 L281.5 1357.7 L282.5 1357.6 L283.5 1357.7 L284.5 1357.7 L285.5 1357.6 L286.5 1357.5 L287.5 1357.6 L288.5 1357.5 L289.5 1357.4 L290.5 1357.3 L291.5 1357.0 L292.5 1356.7 L293.5 1356.7 L294.5 1356.5 L295.5 1356.2 L296.5 1355.8 L297.5 1355.4 L298.5 1354.9 L299.5 1354.5 L300.5 1354.4 L301.5 1354.2 L302.5 1353.6 L303.5 1353.1 L304.5 1352.6 L305.5 1352.1 L306.5 1351.9 L307.5 1351.4 L308.5 1350.8 L309.5 1350.2 L310.5 1349.5 L311.5 1349.0 L312.5 1348.6 L313.5 1347.9 L314.5 1347.1 L315.5 1346.2 L316.5 1345.6 L317.5 1345.2 L318.5 1344.7 L319.5 1344.1 L320.5 1343.2 L321.5 1342.4 L322.5 1341.5 L323.5 1340.8 L324.5 1340.1 L325.5 1339.4 L326.5 1338.7 L327.5 1338.1 L328.5 1337.5 L329.5 1336.8 L330.5 1336.1 L331.5 1335.4 L332.5 1334.6 L333.5 1333.9 L334.5 1333.0 L335.5 1332.2 L336.5 1331.5 L337.5 1330.8 L338.5 1330.1 L339.5 1329.4 L340.5 1328.5 L341.5 1327.7 L342.5 1327.1 L343.5 1326.4 L344.5 1325.7 L345.5 1325.0 L346.5 1324.2 L347.5 1323.5 L348.5 1322.8 L349.5 1322.0 L350.5 1321.3 L351.5 1320.7 L352.5 1320.0 L353.5 1319.2 L354.5 1318.7 L355.5 1318.1 L356.5 1317.2 L357.5 1316.4 L358.5 1315.7 L359.5 1315.1 L360.5 1314.5 L361.5 1313.7 L362.5 1313.0 L363.5 1312.4 L364.5 1311.7 L365.5 1311.0 L366.5 1310.4 L367.5 1309.6 L368.5 1308.8 L369.5 1308.1 L370.5 1307.5 L371.5 1306.7 L372.5 1306.0 L373.5 1305.2 L374.5 1304.5 L375.5 1303.7 L376.5 1303.0 L377.5 1302.3 L378.5 1301.6 L379.5 1300.8 L380.5 1300.0 L381.5 1299.2 L382.5 1298.5 L383.5 1297.9 L384.5 1297.2 L385.5 1296.5 L386.5 1295.7 L387.5 1294.8 L388.5 1294.1 L389.5 1293.3 L390.5 1292.5 L391.5 1291.7 L392.5 1290.9 L393.5 1290.1 L394.5 1289.3 L395.5 1288.5 L396.5 1287.8 L397.5 1287.3 L398.5 1286.7 L399.5 1285.7 L400.5 1284.7 L401.5 1284.0 L402.5 1283.3 L403.5 1282.4 L404.5 1281.7 L405.5 1280.7 L406.5 1279.6 L407.5 1279.0 L408.5 1278.2 L409.5 1277.3 L410.5 1276.3 L411.5 1275.7 L412.5 1275.2 L413.5 1274.2 L414.5 1273.4 L415.5 1272.8 L416.5 1272.2 L417.5 1271.5 L418.5 1271.0 L419.5 1270.3 L420.5 1269.7 L421.5 1269.2 L422.5 1268.8 L423.5 1268.1 L424.5 1267.6 L425.5 1267.2 L426.5 1266.7 L427.5 1266.2 L428.5 1265.7 L429.5 1265.2 L430.5 1264.8 L431.5 1264.5 L432.5 1264.3 L433.5 1263.9 L434.5 1263.6 L435.5 1263.3 L436.5 1262.9 L437.5 1262.6 L438.5 1262.2 L439.5 1261.8 L440.5 1261.5 L441.5 1261.4 L442.5 1261.4 L443.5 1261.3 L444.5 1261.0 L445.5 1260.9 L446.5 1260.8 L447.5 1260.8 L448.5 1260.7 L449.5 1260.8 L450.5 1260.8 L451.5 1260.5 L452.5 1260.2 L453.5 1260.0 L454.5 1260.0 L455.5 1260.0 L456.5 1260.0 L457.5 1259.9 L458.5 1259.8 L459.5 1260.0 L460.5 1260.2 L461.5 1260.1 L462.5 1259.8 L463.5 1259.9 L464.5 1260.2 L465.5 1260.5 L466.5 1260.5 L467.5 1260.7 L468.5 1260.9 L469.5 1261.3 L470.5 1261.5 L471.5 1261.8 L472.5 1262.0 L473.5 1262.0 L474.5 1262.2 L475.5 1262.6 L476.5 1262.9 L477.5 1263.2 L478.5 1263.7 L479.5 1264.0 L480.5 1264.0 L481.5 1264.3 L482.5 1264.8 L483.5 1265.4 L484.5 1265.8 L485.5 1266.2 L486.5 1266.6 L487.5 1266.8 L488.5 1267.1 L489.5 1267.5 L490.5 1267.8 L491.5 1268.2 L492.5 1268.4 L493.5 1268.6 L494.5 1268.9 L495.5 1269.4 L496.5 1269.9 L497.5 1270.2 L498.5 1270.5 L499.5 1270.9 L500.5 1271.5 L501.5 1271.9 L502.5 1272.0 L503.5 1272.4 L504.5 1272.8 L505.5 1273.1 L506.5 1273.5 L507.5 1273.8 L508.5 1274.2 L509.5 1274.5 L510.5 1274.7 L511.5 1274.8 L512.5 1275.0 L513.5 1275.5 L514.5 1275.8 L515.5 1276.0 L516.5 1276.2 L517.5 1276.6 L518.5 1276.9 L519.5 1277.2 L520.5 1277.4 L521.5 1277.8 L522.5 1278.2 L523.5 1278.4 L524.5 1278.8 L525.5 1279.3 L526.5 1279.7 L527.5 1280.0 L528.5 1280.3 L529.5 1280.7 L530.5 1281.2 L531.5 1281.6 L532.5 1282.0 L533.5 1282.5 L534.5 1283.0 L535.5 1283.5 L536.5 1283.9 L537.5 1284.3 L538.5 1285.0 L539.5 1285.6 L540.5 1286.1 L541.5 1286.8 L542.5 1287.2 L543.5 1287.7 L544.5 1288.2 L545.5 1288.5 L546.5 1288.9 L547.5 1289.5 L548.5 1290.0 L549.5 1290.6 L550.5 1291.1 L551.5 1291.7 L552.5 1292.2 L553.5 1292.8 L554.5 1293.5 L555.5 1294.1 L556.5 1294.6 L557.5 1295.2 L558.5 1295.6 L559.5 1296.0 L560.5 1296.7 L561.5 1297.5 L562.5 1298.3 L563.5 1299.1 L564.5 1299.8 L565.5 1300.4 L566.5 1301.1 L567.5 1301.8 L568.5 1302.6 L569.5 1303.3 L570.5 1304.0 L571.5 1304.6 L572.5 1305.3 L573.5 1306.1 L574.5 1306.9 L575.5 1307.6 L576.5 1308.3 L577.5 1308.9 L578.5 1309.6 L579.5 1310.6 L580.5 1311.3 L581.5 1312.1 L582.5 1312.7 L583.5 1313.3 L584.5 1314.1 L585.5 1314.7 L586.5 1315.4 L587.5 1316.1 L588.5 1316.8 L589.5 1317.6 L590.5 1318.2 L591.5 1318.8 L592.5 1319.5 L593.5 1320.2 L594.5 1321.0 L595.5 1321.9 L596.5 1322.7 L597.5 1323.4 L598.5 1324.3 L599.5 1325.2 L600.5 1326.1 L601.5 1327.1 L602.5 1328.1 L603.5 1329.1 L604.5 1329.9 L605.5 1330.7 L606.5 1331.7 L607.5 1332.7 L608.5 1333.4 L609.5 1334.1 L610.5 1334.8 L611.5 1335.4 L612.5 1335.9 L613.5 1336.4 L614.5 1337.0 L615.5 1337.6 L616.5 1338.2 L617.5 1338.7 L618.5 1339.1 L619.5 1339.5 L620.5 1339.9 L621.5 1340.3 L622.5 1340.7 L623.5 1341.1 L624.5 1341.6 L625.5 1342.2 L626.5 1342.6 L627.5 1342.9 L628.5 1343.2 L629.5 1343.4 L630.5 1343.7 L631.5 1344.0 L632.5 1344.2 L633.5 1344.4 L634.5 1344.7 L635.5 1345.0 L636.5 1345.3 L637.5 1345.6 L638.5 1345.9 L639.5 1346.1 L640.5 1346.4 L641.5 1346.6 L642.5 1346.7 L643.5 1346.9 L644.5 1347.1 L645.5 1347.5 L646.5 1347.9 L647.5 1348.2 L648.5 1348.5 L649.5 1348.9 L650.5 1349.2 L651.5 1349.3 L652.5 1349.5 L653.5 1349.9 L654.5 1350.3 L655.5 1350.8 L656.5 1351.2 L657.5 1351.5 L658.5 1351.9 L659.5 1352.3 L660.5 1352.7 L661.5 1352.9 L662.5 1353.0 L663.5 1353.4 L664.5 1353.9 L665.5 1354.3 L666.5 1354.7 L667.5 1354.9 L668.5 1355.3 L669.5 1355.9 L670.5 1356.2 L671.5 1356.4 L672.5 1356.6 L673.5 1356.9 L674.5 1357.0 L675.5 1357.0 L676.5 1357.0 L677.5 1356.8 L678.5 1356.6 L679.5 1356.3 L680.5 1355.8 L681.5 1355.1 L682.5 1354.1 L683.5 1352.7 L684.5 1350.7 L685.5 1348.3 L686.5 1345.4 L687.5 1341.5 L688.5 1336.9 L689.5 1331.4 L690.5 1324.2 L691.5 1316.1 L692.5 1307.1 L693.5 1297.3 L694.5 1288.5 L695.5 1280.1 L696.5 1272.9 L697.5 1268.2 L698.5 1264.6 L699.5 1263.0 L700.5 1262.8 L701.5 1263.1 L702.5 1263.6 L703.5 1263.7 L704.5 1263.7 L705.5 1263.9 L706.5 1263.9 L707.5 1263.5 L708.5 1261.6 L709.5 1257.9 L710.5 1249.1 L711.5 1237.0 L712.5 1223.5 L713.5 1208.9 L714.5 1194.0 L715.5 1178.5 L716.5 1164.1 L717.5 1149.9 L718.5 1138.8 L719.5 1133.0 L720.5 1129.2 L721.5 1129.5 L722.5 1133.3 L723.5 1140.5 L724.5 1154.1 L725.5 1165.1 L726.5 1174.3 L727.5 1182.7 L728.5 1190.8 L729.5 1198.5 L730.5 1205.9 L731.5 1213.1 L732.5 1219.9 L733.5 1226.6 L734.5 1233.2 L735.5 1239.5 L736.5 1245.3 L737.5 1250.5 L738.5 1255.6 L739.5 1260.2 L740.5 1263.9 L741.5 1266.0 L742.5 1267.9 L743.5 1268.8 L744.5 1268.2 L745.5 1266.9 L746.5 1265.5 L747.5 1263.1 L748.5 1260.2 L749.5 1257.3 L750.5 1254.8 L751.5 1253.3 L752.5 1251.3 L753.5 1244.8 L754.5 1230.7 L755.5 1216.7 L756.5 1202.8 L757.5 1193.9 L758.5 1188.8 L759.5 1192.5 L760.5 1200.5 L761.5 1215.5 L762.5 1231.7 L763.5 1246.8 L764.5 1260.0 L765.5 1271.7 L766.5 1281.9 L767.5 1291.2 L768.5 1299.6 L769.5 1306.2 L770.5 1311.2 L771.5 1315.3 L772.5 1318.9 L773.5 1322.0 L774.5 1324.9 L775.5 1327.5 L776.5 1329.5 L777.5 1331.5 L778.5 1333.4 L779.5 1335.2 L780.5 1336.6 L781.5 1337.7 L782.5 1338.9 L783.5 1339.9 L784.5 1340.9 L785.5 1341.7 L786.5 1342.4 L787.5 1343.2 L788.5 1343.9 L789.5 1344.5 L790.5 1345.1 L791.5 1345.8 L792.5 1346.7 L793.5 1347.2 L794.5 1347.5 L795.5 1348.1 L796.5 1348.9 L797.5 1349.6 L798.5 1350.1 L799.5 1350.5 L800.5 1351.0 L801.5 1351.5 L802.5 1351.7 L803.5 1351.9 L804.5 1352.2 L805.5 1352.5 L806.5 1352.7 L807.5 1352.9 L808.5 1353.2 L809.5 1353.5 L810.5 1353.5 L811.5 1353.3 L812.5 1353.3 L813.5 1353.3 L814.5 1353.4 L815.5 1353.3 L816.5 1353.1 L817.5 1353.0 L818.5 1353.0 L819.5 1353.0 L820.5 1353.0 L821.5 1353.0 L822.5 1353.0 L823.5 1352.7 L824.5 1352.4 L825.5 1352.5 L826.5 1352.7 L827.5 1352.7 L828.5 1352.8 L829.5 1353.2 L830.5 1353.7 L831.5 1354.1 L832.5 1354.2 L833.5 1354.4 L834.5 1354.8 L835.5 1355.2 L836.5 1355.3 L837.5 1355.4 L838.5 1355.3 L839.5 1355.2 L840.5 1355.2 L841.5 1355.4 L842.5 1355.8 L843.5 1355.7 L844.5 1355.5 L845.5 1355.6 L846.5 1355.7 L847.5 1355.8 L848.5 1355.9 L849.5 1355.7 L850.5 1355.7 L851.5 1355.9 L852.5 1356.0 L853.5 1355.8 L854.5 1355.7 L855.5 1355.9 L856.5 1356.1 L857.5 1356.2 L858.5 1356.2 L859.5 1356.2 L860.5 1356.1 L861.5 1356.2 L862.5 1356.5 L863.5 1356.7 L864.5 1356.5 L865.5 1356.3 L866.5 1356.3 L867.5 1356.4 L868.5 1356.3 L869.5 1356.3 L870.5 1356.3 L871.5 1356.5 L872.5 1356.7 L873.5 1356.8 L874.5 1356.9 L875.5 1356.8 L876.5 1356.8 L877.5 1356.8 L878.5 1357.0 L879.5 1357.1 L880.5 1357.0 L881.5 1356.8 L882.5 1356.9 L883.5 1357.1 L884.5 1357.1 L885.5 1357.1 L886.5 1357.0 L887.5 1356.8 L888.5 1356.9 L889.5 1357.1 L890.5 1357.1 L891.5 1357.0 L892.5 1356.9 L893.5 1357.1 L894.5 1357.1 L895.5 1357.0 L896.5 1357.1 L897.5 1357.2 L898.5 1357.2 L899.5 1357.3 L900.5 1357.2 L901.5 1357.2 L902.5 1357.1 L903.5 1357.1 L904.5 1357.3 L905.5 1357.4 L906.5 1357.5 L907.5 1357.5 L908.5 1357.3 L909.5 1357.2 L910.5 1357.2 L911.5 1357.1 L912.5 1357.1 L913.5 1357.4 L914.5 1357.5 L915.5 1357.3 L916.5 1357.2 L917.5 1357.2 L918.5 1357.2 L919.5 1357.3 L920.5 1357.3 L921.5 1357.2 L922.5 1357.1 L923.5 1357.2 L924.5 1357.1 L925.5 1357.1 L926.5 1357.2 L927.5 1357.2 L928.5 1357.2 L929.5 1357.1 L930.5 1357.1 L931.5 1357.2 L932.5 1357.2 L933.5 1357.2 L934.5 1357.1 L935.5 1357.0 L936.5 1357.3 L937.5 1357.3 L938.5 1357.0 L939.5 1357.0 L940.5 1357.1 L941.5 1357.2 L942.5 1357.1 L943.5 1357.1 L944.5 1357.1 L945.5 1357.2 L946.5 1357.2 L947.5 1357.2 L948.5 1357.3 L949.5 1357.3 L950.5 1357.4 L951.5 1357.4 L952.5 1357.2 L953.5 1357.1 L954.5 1357.2 L955.5 1357.2 L956.5 1357.3 L957.5 1357.3 L958.5 1357.2 L959.5 1357.4 L960.5 1357.5 L961.5 1357.2 L962.5 1356.9 L963.5 1356.8 L964.5 1357.2 L965.5 1357.4 L966.5 1357.4 L967.5 1357.3 L968.5 1357.3 L969.5 1357.3 L970.5 1357.2 L971.5 1357.2 L972.5 1357.4 L973.5 1357.4 L974.5 1357.2 L975.5 1357.2 L976.5 1357.4 L977.5 1357.5 L978.5 1357.4 L979.5 1357.2 L980.5 1357.3 L981.5 1357.4 L982.5 1357.3 L983.5 1357.2 L984.5 1357.2 L985.5 1357.2 L986.5 1357.3 L987.5 1357.3 L988.5 1357.2 L989.5 1357.1 L990.5 1357.1 L991.5 1357.2 L992.5 1357.3 L993.5 1357.3 L994.5 1357.2 L995.5 1357.0 L996.5 1357.1 L997.5 1357.2 L998.5 1357.2 L999.5 1357.0 L1000.5 1357.0 L1001.5 1357.2 L1002.5 1357.4 L1003.5 1357.3 L1004.5 1357.2 L1005.5 1357.3 L1006.5 1357.5 L1007.5 1357.3 L1008.5 1357.2 L1009.5 1357.3 L1010.5 1357.1 L1011.5 1356.9 L1012.5 1357.0 L1013.5 1357.1 L1014.5 1356.8 L1015.5 1356.7 L1016.5 1356.7 L1017.5 1356.5 L1018.5 1356.3 L1019.5 1356.2 L1020.5 1356.2 L1021.5 1356.0 L1022.5 1356.0 L1023.5 1356.1 L1024.5 1356.0 L1025.5 1356.0 L1026.5 1356.0 L1027.5 1355.9 L1028.5 1356.0 L1029.5 1356.2 L1030.5 1356.2 L1031.5 1356.1 L1032.5 1356.1 L1033.5 1356.3 L1034.5 1356.4 L1035.5 1356.6 L1036.5 1356.7 L1037.5 1356.7 L1038.5 1356.7 L1039.5 1356.8 L1040.5 1356.7 L1041.5 1356.8 L1042.5 1357.0 L1043.5 1357.0 L1044.5 1356.9 L1045.5 1357.0 L1046.5 1356.8 L1047.5 1356.7 L1048.5 1356.8 L1049.5 1357.2 L1050.5 1357.4 L1051.5 1357.5 L1052.5 1357.5 L1053.5 1357.4 L1054.5 1357.4 L1055.5 1357.4 L1056.5 1357.2 L1057.5 1357.1 L1058.5 1357.3 L1059.5 1357.4 L1060.5 1357.3 L1061.5 1357.3 L1062.5 1357.2 L1063.5 1357.1 L1064.5 1357.3 L1065.5 1357.4 L1066.5 1357.5 L1067.5 1357.6 L1068.5 1357.6 L1069.5 1357.5 L1070.5 1357.6 L1071.5 1357.5 L1072.5 1357.3 L1073.5 1357.5 L1074.5 1357.8 L1075.5 1357.7 L1076.5 1357.4 L1077.5 1357.1 L1078.5 1357.0 L1079.5 1357.1 L1080.5 1357.4 L1081.5 1357.5 L1082.5 1357.5 L1083.5 1357.7 L1084.5 1357.8 L1085.5 1357.7 L1086.5 1357.7 L1087.5 1357.8 L1088.5 1357.8 L1089.5 1357.7 L1090.5 1357.5 L1091.5 1357.6 L1092.5 1357.8 L1093.5 1357.7 L1094.5 1357.7 L1095.5 1357.8 L1096.5 1357.7 L1097.5 1357.7 L1098.5 1357.9 L1099.5 1358.0 L1100.5 1358.0 L1101.5 1357.9 L1102.5 1357.9 L1103.5 1358.0 L1104.5 1357.8 L1105.5 1357.8 L1106.5 1358.1 L1107.5 1358.4 L1108.5 1358.3 L1109.5 1358.0 L1110.5 1358.1 L1111.5 1358.3 L1112.5 1358.4 L1113.5 1358.7 L1114.5 1358.9 L1115.5 1359.0 L1116.5 1359.1 L1117.5 1359.2 L1118.5 1359.2 L1119.5 1359.1 L1120.5 1359.0 L1121.5 1359.1 L1122.5 1359.3 L1123.5 1359.2 L1124.5 1359.1 L1125.5 1359.2 L1126.5 1359.4 L1127.5 1359.5 L1128.5 1359.4 L1129.5 1359.4 L1130.5 1359.3 L1131.5 1359.3 L1132.5 1359.4 L1133.5 1359.3 L1134.5 1359.0 L1135.5 1358.4 L1136.5 1357.8 L1137.5 1357.2 L1138.5 1356.9 L1139.5 1356.9 L1140.5 1356.9 L1141.5 1356.9 L1142.5 1356.8 L1143.5 1356.6 L1144.5 1356.5 L1145.5 1356.6 L1146.5 1356.4 L1147.5 1356.3 L1148.5 1356.4 L1149.5 1356.3 L1150.5 1356.3 L1151.5 1356.5 L1152.5 1356.5 L1153.5 1356.2 L1154.5 1356.2 L1155.5 1356.5 L1156.5 1356.4 L1157.5 1356.3 L1158.5 1356.3 L1159.5 1356.2 L1160.5 1356.2 L1161.5 1356.1 L1162.5 1356.2 L1163.5 1356.1 L1164.5 1355.9 L1165.5 1355.9 L1166.5 1356.0 L1167.5 1356.2 L1168.5 1356.2 L1169.5 1356.0 L1170.5 1355.9 L1171.5 1355.9 L1172.5 1355.9 L1173.5 1355.7 L1174.5 1355.7 L1175.5 1355.7 L1176.5 1355.6 L1177.5 1355.7 L1178.5 1355.9 L1179.5 1355.8 L1180.5 1355.7 L1181.5 1355.7 L1182.5 1355.9 L1183.5 1355.9 L1184.5 1355.8 L1185.5 1355.8 L1186.5 1355.9 L1187.5 1356.0 L1188.5 1356.3 L1189.5 1356.5 L1190.5 1356.3 L1191.5 1356.2 L1192.5 1356.2 L1193.5 1356.2 L1194.5 1356.3 L1195.5 1356.3 L1196.5 1356.2 L1197.5 1356.1 L1198.5 1356.1 L1199.5 1356.2 L1200.5 1356.5 L1201.5 1356.7 L1202.5 1356.7 L1203.5 1356.5 L1204.5 1356.5 L1205.5 1356.6 L1206.5 1356.7 L1207.5 1356.8 L1208.5 1357.0 L1209.5 1357.1 L1210.5 1357.2 L1211.5 1357.3 L1212.5 1357.3 L1213.5 1357.2 L1214.5 1357.0 L1215.5 1357.0 L1216.5 1357.3 L1217.5 1357.5 L1218.5 1357.5 L1219.5 1357.3 L1220.5 1357.4 L1221.5 1357.5 L1222.5 1357.5 L1223.5 1357.7 L1224.5 1357.8 L1225.5 1357.8 L1226.5 1357.7 L1227.5 1357.7 L1228.5 1357.7 L1229.5 1357.7 L1230.5 1357.7 L1231.5 1357.7 L1232.5 1357.7 L1233.5 1357.7 L1234.5 1357.8 L1235.5 1357.9 L1236.5 1357.8 L1237.5 1357.7 L1238.5 1357.7 L1239.5 1357.7 L1240.5 1357.7 L1241.5 1357.4 L1242.5 1357.3 L1243.5 1357.5 L1244.5 1357.5 L1245.5 1357.5 L1246.5 1357.3 L1247.5 1357.1 L1248.5 1357.1 L1249.5 1357.3 L1250.5 1357.5 L1251.5 1357.4 L1252.5 1357.2 L1253.5 1357.1 L1254.5 1357.0 L1255.5 1357.1 L1256.5 1357.0 L1257.5 1357.1 L1258.5 1357.2 L1259.5 1357.2 L1260.5 1357.1 L1261.5 1357.2 L1262.5 1357.1 L1263.5 1356.8 L1264.5 1356.7 L1265.5 1356.8 L1266.5 1356.7 L1267.5 1356.8 L1268.5 1356.8 L1269.5 1356.7 L1270.5 1356.6 L1271.5 1356.5 L1272.5 1356.6 L1273.5 1356.6 L1274.5 1356.4 L1275.5 1356.4 L1276.5 1356.5 L1277.5 1356.5 L1278.5 1356.5 L1279.5 1356.4 L1280.5 1356.3 L1281.5 1356.2 L1282.5 1356.2 L1283.5 1356.2 L1284.5 1356.1 L1285.5 1356.1 L1286.5 1356.3 L1287.5 1356.5 L1288.5 1356.6 L1289.5 1356.4 L1290.5 1356.3 L1291.5 1356.3 L1292.5 1356.2 L1293.5 1356.2 L1294.5 1356.4 L1295.5 1356.4 L1296.5 1356.4 L1297.5 1356.6 L1298.5 1356.7 L1299.5 1356.8 L1300.5 1356.7 L1301.5 1356.5 L1302.5 1356.5 L1303.5 1356.5 L1304.5 1356.6 L1305.5 1356.7 L1306.5 1356.9 L1307.5 1356.9 L1308.5 1356.8 L1309.5 1356.8 L1310.5 1356.8 L1311.5 1356.8 L1312.5 1356.9 L1313.5 1356.7 L1314.5 1356.7 L1315.5 1356.7 L1316.5 1356.7 L1317.5 1356.6 L1318.5 1356.6 L1319.5 1356.8 L1320.5 1356.9 L1321.5 1356.8 L1322.5 1356.8 L1323.5 1356.7 L1324.5 1356.7 L1325.5 1356.8 L1326.5 1356.9 L1327.5 1356.8 L1328.5 1356.7 L1329.5 1356.7 L1330.5 1356.9 L1331.5 1357.1 L1332.5 1357.3 L1333.5 1357.1 L1334.5 1357.0 L1335.5 1356.9 L1336.5 1356.9 L1337.5 1357.0 L1338.5 1357.0 L1339.5 1357.0 L1340.5 1356.9 L1341.5 1356.7 L1342.5 1356.7 L1343.5 1356.7 L1344.5 1356.8 L1345.5 1356.7 L1346.5 1356.5 L1347.5 1356.4 L1348.5 1356.2 L1349.5 1356.0 L1350.5 1356.3 L1351.5 1356.3 L1352.5 1355.5 L1353.5 1354.9 L1354.5 1354.6 L1355.5 1354.2 L1356.5 1353.7 L1357.5 1352.9 L1358.5 1352.0 L1359.5 1351.6 L1360.5 1351.1 L1361.5 1350.5 L1362.5 1350.6 L1363.5 1350.8 L1364.5 1350.6 L1365.5 1350.2 L1366.5 1350.0 L1367.5 1350.1 L1368.5 1350.0 L1369.5 1349.6 L1370.5 1349.2 L1371.5 1349.3 L1372.5 1349.3 L1373.5 1348.9 L1374.5 1348.3 L1375.5 1347.5 L1376.5 1346.6 L1377.5 1345.8 L1378.5 1345.4 L1379.5 1344.9 L1380.5 1344.1 L1381.5 1343.6 L1382.5 1343.1 L1383.5 1342.0 L1384.5 1341.2 L1385.5 1340.2 L1386.5 1338.6 L1387.5 1337.6 L1388.5 1337.4 L1389.5 1337.0 L1390.5 1336.7 L1391.5 1336.8 L1392.5 1337.0 L1393.5 1337.7 L1394.5 1338.5 L1395.5 1339.6 L1396.5 1340.7 L1397.5 1341.6 L1398.5 1342.5 L1399.5 1343.2 L1400.5 1343.9 L1401.5 1345.2 L1402.5 1346.4 L1403.5 1347.1 L1404.5 1347.6 L1405.5 1348.2 L1406.5 1348.6 L1407.5 1349.3 L1408.5 1350.0 L1409.5 1350.1 L1410.5 1349.4 L1411.5 1347.9 L1412.5 1346.2 L1413.5 1344.6 L1414.5 1343.5 L1415.5 1342.5 L1416.5 1340.9 L1417.5 1339.8 L1418.5 1339.2 L1419.5 1338.6 L1420.5 1338.0 L1421.5 1337.7 L1422.5 1337.1 L1423.5 1336.0 L1424.5 1335.0 L1425.5 1334.5 L1426.5 1333.8 L1427.5 1333.2 L1428.5 1332.4 L1429.5 1331.0 L1430.5 1330.1 L1431.5 1329.3 L1432.5 1327.9 L1433.5 1326.9 L1434.5 1326.2 L1435.5 1325.2 L1436.5 1324.0 L1437.5 1323.3 L1438.5 1322.4 L1439.5 1320.9 L1440.5 1319.3 L1441.5 1318.1 L1442.5 1316.9 L1443.5 1315.9 L1444.5 1315.6 L1445.5 1315.3 L1446.5 1315.2 L1447.5 1316.0 L1448.5 1317.1 L1449.5 1318.0 L1450.5 1319.0 L1451.5 1320.1 L1452.5 1320.7 L1453.5 1321.5 L1454.5 1322.5 L1455.5 1323.1 L1456.5 1323.9 L1457.5 1325.2 L1458.5 1326.4 L1459.5 1327.6 L1460.5 1328.6 L1461.5 1329.8 L1462.5 1331.5 L1463.5 1333.2 L1464.5 1334.6 L1465.5 1335.7 L1466.5 1336.6 L1467.5 1337.9 L1468.5 1339.2 L1469.5 1340.0 L1470.5 1341.1 L1471.5 1342.1 L1472.5 1342.5 L1473.5 1343.6 L1474.5 1345.4 L1475.5 1346.1 L1476.5 1346.4 L1477.5 1347.4 L1478.5 1348.6 L1479.5 1349.9 L1480.5 1351.1 L1481.5 1351.3 L1482.5 1351.4 L1483.5 1352.2 L1484.5 1353.4 L1485.5 1354.4 L1486.5 1355.2 L1487.5 1355.8 L1488.5 1356.5 L1489.5 1357.1 L1490.5 1357.8 L1491.5 1358.6 L1492.5 1358.8 L1493.5 1358.5 L1494.5 1358.5 L1495.5 1358.3 L1496.5 1357.6 L1497.5 1356.6 L1498.5 1355.8 L1499.5 1355.3 L1500.5 1354.3 L1501.5 1353.2 L1502.5 1351.7 L1503.5 1349.2 L1504.5 1346.8 L1505.5 1344.4 L1506.5 1340.9 L1507.5 1336.5 L1508.5 1331.3 L1509.5 1320.0 L1510.5 1303.7 L1511.5 1288.2 L1512.5 1276.9 L1513.5 1266.2 L1514.5 1258.1 L1515.5 1253.7 L1516.5 1250.1 L1517.5 1247.0 L1518.5 1244.8 L1519.5 1243.9 L1520.5 1244.8 L1521.5 1247.6 L1522.5 1251.5 L1523.5 1255.7 L1524.5 1259.6 L1525.5 1263.4 L1526.5 1267.3 L1527.5 1271.2 L1528.5 1275.3 L1529.5 1279.5 L1530.5 1283.7 L1531.5 1288.1 L1532.5 1293.0 L1533.5 1297.9 L1534.5 1302.6 L1535.5 1306.7 L1536.5 1310.0 L1537.5 1312.9 L1538.5 1314.9 L1539.5 1316.9 L1540.5 1319.5 L1541.5 1321.9 L1542.5 1322.6 L1543.5 1323.2 L1544.5 1325.0 L1545.5 1327.0 L1546.5 1328.4 L1547.5 1329.8 L1548.5 1331.2 L1549.5 1332.6 L1550.5 1333.8 L1551.5 1334.3 L1552.5 1334.4 L1553.5 1334.6 L1554.5 1333.9 L1555.5 1331.8 L1556.5 1329.0 L1557.5 1325.8 L1558.5 1322.2 L1559.5 1316.0 L1560.5 1306.1 L1561.5 1296.1 L1562.5 1289.4 L1563.5 1288.8 L1564.5 1291.1 L1565.5 1295.4 L1566.5 1300.6 L1567.5 1305.6 L1568.5 1309.3 L1569.5 1312.6 L1570.5 1315.9 L1571.5 1319.5 L1572.5 1321.9 L1573.5 1323.7 L1574.5 1325.1 L1575.5 1325.8 L1576.5 1325.8 L1577.5 1325.7 L1578.5 1326.1 L1579.5 1327.0 L1580.5 1327.5 L1581.5 1327.6 L1582.5 1327.9 L1583.5 1328.4 L1584.5 1329.4 L1585.5 1330.5 L1586.5 1331.2 L1587.5 1331.7 L1588.5 1332.1 L1589.5 1332.2 L1590.5 1332.2 L1591.5 1331.8 L1592.5 1331.3 L1593.5 1331.0 L1594.5 1331.0 L1595.5 1330.8 L1596.5 1330.2 L1597.5 1330.4 L1598.5 1330.8 L1599.5 1332.3 L1600.5 1333.4 L1601.5 1334.4 L1602.5 1335.0 L1603.5 1335.5 L1604.5 1336.1 L1605.5 1336.9 L1606.5 1337.6 L1607.5 1338.1 L1608.5 1338.4 L1609.5 1338.8 L1610.5 1339.6 L1611.5 1340.1 L1612.5 1340.0 L1613.5 1340.1 L1614.5 1340.3 L1615.5 1340.4 L1616.5 1340.6 L1617.5 1340.8 L1618.5 1340.8 L1619.5 1341.1 L1620.5 1341.4 L1621.5 1341.4 L1622.5 1341.4 L1623.5 1341.3 L1624.5 1341.3 L1625.5 1341.7 L1626.5 1341.9 L1627.5 1341.6 L1628.5 1341.2 L1629.5 1341.5 L1630.5 1341.9 L1631.5 1342.2 L1632.5 1342.6 L1633.5 1342.8 L1634.5 1342.9 L1635.5 1343.1 L1636.5 1343.4 L1637.5 1343.9 L1638.5 1344.5 L1639.5 1344.8 L1640.5 1344.9 L1641.5 1345.1 L1642.5 1345.3 L1643.5 1345.7 L1644.5 1346.3 L1645.5 1347.0 L1646.5 1347.3 L1647.5 1347.2 L1648.5 1347.4 L1649.5 1347.8 L1650.5 1347.9 L1651.5 1347.8 L1652.5 1347.5 L1653.5 1346.9 L1654.5 1346.7 L1655.5 1346.8 L1656.5 1347.3 L1657.5 1348.1 L1658.5 1348.7 L1659.5 1348.5 L1660.5 1348.2 L1661.5 1347.9 L1662.5 1347.8 L1663.5 1347.9 L1664.5 1347.7 L1665.5 1347.7 L1666.5 1348.0 L1667.5 1348.1 L1668.5 1348.0 L1669.5 1348.0 L1670.5 1347.1 L1671.5 1345.3 L1672.5 1343.2 L1673.5 1341.3 L1674.5 1339.2 L1675.5 1337.7 L1676.5 1336.3 L1677.5 1334.8 L1678.5 1333.8 L1679.5 1333.3 L1680.5 1333.3 L1681.5 1334.6 L1682.5 1336.3 L1683.5 1338.3 L1684.5 1340.3 L1685.5 1342.2 L1686.5 1344.3 L1687.5 1346.2 L1688.5 1347.4 L1689.5 1348.1 L1690.5 1348.0 L1691.5 1347.8 L1692.5 1347.1 L1693.5 1346.0 L1694.5 1345.2 L1695.5 1344.6 L1696.5 1343.7 L1697.5 1342.6 L1698.5 1342.1 L1699.5 1342.1 L1700.5 1342.3 L1701.5 1342.6 L1702.5 1343.0 L1703.5 1343.5 L1704.5 1344.2 L1705.5 1345.0 L1706.5 1345.8 L1707.5 1346.4 L1708.5 1346.5 L1709.5 1346.6 L1710.5 1347.0 L1711.5 1347.3 L1712.5 1347.1 L1713.5 1347.1 L1714.5 1347.6 L1715.5 1348.0 L1716.5 1348.3 L1717.5 1348.0 L1718.5 1347.7 L1719.5 1347.5 L1720.5 1347.6 L1721.5 1348.0 L1722.5 1347.6 L1723.5 1347.0 L1724.5 1347.5 L1725.5 1347.9 L1726.5 1347.5 L1727.5 1347.4 L1728.5 1347.8 L1729.5 1347.8 L1730.5 1347.5 L1731.5 1347.6 L1732.5 1347.9 L1733.5 1348.0 L1734.5 1347.6 L1735.5 1347.3 L1736.5 1347.3 L1737.5 1347.3 L1738.5 1347.4 L1739.5 1347.5 L1740.5 1347.1 L1741.5 1346.5 L1742.5 1346.1 L1743.5 1345.1 L1744.5 1344.1 L1745.5 1343.2 L1746.5 1342.3 L1747.5 1341.5 L1748.5 1341.0 L1749.5 1340.8 L1750.5 1340.8 L1751.5 1340.9 L1752.5 1341.5 L1753.5 1342.2 L1754.5 1342.5 L1755.5 1343.0 L1756.5 1343.7 L1757.5 1344.2 L1758.5 1345.2 L1759.5 1346.2 L1760.5 1347.1 L1761.5 1347.9 L1762.5 1348.3 L1763.5 1349.1 L1764.5 1350.1 L1765.5 1350.6 L1766.5 1350.9 L1767.5 1351.5 L1768.5 1352.4 L1769.5 1353.2 L1770.5 1354.0 L1771.5 1354.4 L1772.5 1354.7 L1773.5 1355.4 L1774.5 1355.8 L1775.5 1355.8 L1776.5 1356.0 L1777.5 1356.1 L1778.5 1356.3 L1779.5 1356.4 L1780.5 1356.3 L1781.5 1356.5 L1782.5 1356.6 L1783.5 1356.1 L1784.5 1356.2 L1785.5 1356.6 L1786.5 1356.8 L1787.5 1356.9 L1788.5 1357.3 L1789.5 1357.0 L1790.5 1356.5 L1791.5 1356.5 L1792.5 1356.6 L1793.5 1356.5 L1794.5 1356.6 L1795.5 1356.7 L1796.5 1356.9 L1797.5 1357.5 L1798.5 1357.5 L1799.5 1356.6 L1800.5 1356.1 L1801.5 1356.4 L1802.5 1356.9 L1803.5 1356.8 L1804.5 1356.5 L1805.5 1356.6 L1806.5 1356.9 L1807.5 1356.9 L1808.5 1356.8 L1809.5 1356.9 L1810.5 1356.7 L1811.5 1356.6 L1812.5 1356.7 L1813.5 1356.5 L1814.5 1356.3 L1815.5 1356.3 L1816.5 1355.8 L1817.5 1354.8 L1818.5 1354.1 L1819.5 1354.0 L1820.5 1353.4 L1821.5 1351.8 L1822.5 1350.6 L1823.5 1349.7 L1824.5 1348.7 L1825.5 1347.6 L1826.5 1346.1 L1827.5 1344.8 L1828.5 1343.4 L1829.5 1341.6 L1830.5 1339.8 L1831.5 1337.9 L1832.5 1335.9 L1833.5 1334.4 L1834.5 1333.2 L1835.5 1332.2 L1836.5 1331.5 L1837.5 1330.9 L1838.5 1330.0 L1839.5 1329.7 L1840.5 1329.5 L1841.5 1328.6 L1842.5 1327.7 L1843.5 1327.5 L1844.5 1327.7 L1845.5 1327.7 L1846.5 1327.9 L1847.5 1328.6 L1848.5 1329.6 L1849.5 1331.1 L1850.5 1333.0 L1851.5 1335.4 L1852.5 1337.2 L1853.5 1338.5 L1854.5 1339.3 L1855.5 1339.2 L1856.5 1336.3 L1857.5 1331.6 L1858.5 1326.4 L1859.5 1321.9 L1860.5 1319.2 L1861.5 1317.6 L1862.5 1316.0 L1863.5 1314.6 L1864.5 1312.9 L1865.5 1311.5 L1866.5 1310.7 L1867.5 1310.2 L1868.5 1309.7 L1869.5 1309.4 L1870.5 1309.1 L1871.5 1309.2 L1872.5 1309.4 L1873.5 1309.6 L1874.5 1310.6 L1875.5 1312.2 L1876.5 1313.4 L1877.5 1314.4 L1878.5 1315.1 L1879.5 1315.9 L1880.5 1316.5 L1881.5 1316.4 L1882.5 1316.3 L1883.5 1316.4 L1884.5 1315.9 L1885.5 1315.9 L1886.5 1316.4 L1887.5 1316.4 L1888.5 1316.0 L1889.5 1315.5 L1890.5 1315.4 L1891.5 1315.3 L1892.5 1315.0 L1893.5 1315.0 L1894.5 1315.1 L1895.5 1315.2 L1896.5 1315.8 L1897.5 1316.3 L1898.5 1316.5 L1899.5 1317.2 L1900.5 1317.1 L1901.5 1314.1 L1902.5 1309.8 L1903.5 1304.9 L1904.5 1299.9 L1905.5 1295.6 L1906.5 1293.9 L1907.5 1294.2 L1908.5 1294.9 L1909.5 1296.0 L1910.5 1297.0 L1911.5 1297.9 L1912.5 1298.4 L1913.5 1298.2 L1914.5 1296.0 L1915.5 1291.8 L1916.5 1286.7 L1917.5 1281.9 L1918.5 1278.7 L1919.5 1277.1 L1920.5 1279.7 L1921.5 1285.3 L1922.5 1292.7 L1923.5 1300.1 L1924.5 1306.2 L1925.5 1310.1 L1926.5 1313.1 L1927.5 1316.0 L1928.5 1318.3 L1929.5 1320.6 L1930.5 1322.5 L1931.5 1323.7 L1932.5 1324.8 L1933.5 1326.2 L1934.5 1326.5 L1935.5 1326.7 L1936.5 1327.3 L1937.5 1327.0 L1938.5 1327.1 L1939.5 1328.4 L1940.5 1328.9 L1941.5 1328.9 L1942.5 1329.4 L1943.5 1329.5 L1944.5 1328.8 L1945.5 1328.3 L1946.5 1328.7 L1947.5 1329.8 L1948.5 1330.2 L1949.5 1329.4 L1950.5 1329.6 L1951.5 1330.4 L1952.5 1330.7 L1953.5 1330.8 L1954.5 1331.3 L1955.5 1331.9 L1956.5 1332.2 L1957.5 1332.3 L1958.5 1332.3 L1959.5 1332.4 L1960.5 1333.2 L1961.5 1333.8 L1962.5 1333.8 L1963.5 1333.9 L1964.5 1334.3 L1965.5 1335.0 L1966.5 1335.1 L1967.5 1334.2 L1968.5 1333.8 L1969.5 1334.6 L1970.5 1335.4 L1971.5 1334.8 L1972.5 1334.5 L1973.5 1334.8 L1974.5 1334.2 L1975.5 1333.3 L1976.5 1333.7 L1977.5 1335.0 L1978.5 1335.5 L1979.5 1335.1 L1980.5 1334.6 L1981.5 1334.4 L1982.5 1333.9 L1983.5 1333.1 L1984.5 1333.4 L1985.5 1334.1 L1986.5 1333.9 L1987.5 1333.0 L1988.5 1332.5 L1989.5 1331.8 L1990.5 1330.5 L1991.5 1328.8 L1992.5 1327.2 L1993.5 1325.4 L1994.5 1323.8 L1995.5 1322.4 L1996.5 1321.0 L1997.5 1321.1 L1998.5 1322.2 L1999.5 1321.4 L2000.5 1319.7 L2001.5 1320.0 L2002.5 1321.0 L2003.5 1320.9 L2004.5 1319.9 L2005.5 1318.8 L2006.5 1318.3 L2007.5 1318.0 L2008.5 1317.2 L2009.5 1316.7 L2010.5 1316.9 L2011.5 1316.3 L2012.5 1314.8 L2013.5 1313.5 L2014.5 1312.2 L2015.5 1310.6 L2016.5 1309.7 L2017.5 1309.4 L2018.5 1308.2 L2019.5 1306.7 L2020.5 1306.4 L2021.5 1306.0 L2022.5 1305.1 L2023.5 1304.0 L2024.5 1302.6 L2025.5 1302.1 L2026.5 1301.8 L2027.5 1300.2 L2028.5 1298.8 L2029.5 1298.1 L2030.5 1297.0 L2031.5 1295.8 L2032.5 1294.9 L2033.5 1294.2 L2034.5 1293.7 L2035.5 1293.1 L2036.5 1292.1 L2037.5 1292.1 L2038.5 1292.6 L2039.5 1292.3 L2040.5 1290.8 L2041.5 1290.3 L2042.5 1291.1 L2043.5 1291.3 L2044.5 1291.4 L2045.5 1292.3 L2046.5 1293.6 L2047.5 1294.4 L2048.5 1294.9 L2049.5 1296.5 L2050.5 1298.3 L2051.5 1299.5 L2052.5 1301.5 L2053.5 1303.8 L2054.5 1304.7 L2055.5 1305.5 L2056.5 1307.0 L2057.5 1308.5 L2058.5 1310.3 L2059.5 1312.6 L2060.5 1314.3 L2061.5 1315.0 L2062.5 1316.0 L2063.5 1317.9 L2064.5 1319.0 L2065.5 1319.7 L2066.5 1321.2 L2067.5 1323.1 L2068.5 1324.7 L2069.5 1325.9 L2070.5 1326.1 L2071.5 1325.5 L2072.5 1325.0 L2073.5 1325.0 L2074.5 1325.1 L2075.5 1324.6 L2076.5 1323.6 L2077.5 1323.2 L2078.5 1323.3 L2079.5 1322.9 L2080.5 1322.5 L2081.5 1322.9 L2082.5 1323.8 L2083.5 1324.7 L2084.5 1326.1 L2085.5 1327.4 L2086.5 1328.2 L2087.5 1330.7 L2088.5 1334.2 L2089.5 1336.0 L2090.5 1337.4 L2091.5 1340.0 L2095.4 1340.6" stroke="#CC9900"/>
<path d="M131.0 1512.5 L134.5 1512.5 L135.5 1512.7 L136.5 1512.8 L137.5 1512.8 L138.5 1512.6 L139.5 1512.5 L140.5 1512.5 L141.5 1512.6 L142.5 1512.8 L143.5 1512.7 L144.5 1512.3 L145.5 1512.4 L146.5 1512.4 L147.5 1512.4 L148.5 1512.5 L149.5 1512.5 L150.5 1512.3 L151.5 1512.3 L152.5 1512.4 L153.5 1512.6 L154.5 1512.6 L155.5 1512.4 L156.5 1512.4 L157.5 1512.4 L158.5 1512.4 L159.5 1512.4 L160.5 1512.4 L161.5 1512.5 L162.5 1512.6 L163.5 1512.5 L164.5 1512.5 L165.5 1512.6 L166.5 1512.7 L167.5 1512.7 L168.5 1512.6 L169.5 1512.5 L170.5 1512.2 L171.5 1512.1 L172.5 1512.4 L173.5 1512.8 L174.5 1512.6 L175.5 1512.4 L176.5 1512.5 L177.5 1512.6 L178.5 1512.6 L179.5 1512.5 L180.5 1512.3 L181.5 1512.4 L182.5 1512.5 L183.5 1512.4 L184.5 1512.4 L185.5 1512.4 L186.5 1512.5 L187.5 1512.5 L188.5 1512.5 L189.5 1512.5 L190.5 1512.4 L191.5 1512.3 L192.5 1512.4 L193.5 1512.4 L194.5 1512.2 L195.5 1512.0 L196.5 1512.2 L197.5 1512.4 L198.5 1512.5 L199.5 1512.6 L200.5 1512.8 L201.5 1512.6 L202.5 1512.4 L203.5 1512.4 L204.5 1512.5 L205.5 1512.6 L206.5 1512.6 L207.5 1512.5 L208.5 1512.5 L209.5 1512.6 L210.5 1512.6 L211.5 1512.4 L212.5 1512.4 L213.5 1512.5 L214.5 1512.4 L215.5 1512.3 L216.5 1512.4 L217.5 1512.5 L218.5 1512.4 L219.5 1512.2 L220.5 1512.3 L221.5 1512.3 L222.5 1512.2 L223.5 1512.5 L224.5 1512.6 L225.5 1512.4 L226.5 1512.5 L227.5 1512.6 L228.5 1512.4 L229.5 1512.3 L230.5 1512.4 L231.5 1512.6 L232.5 1512.4 L233.5 1512.4 L234.5 1512.5 L235.5 1512.6 L236.5 1512.7 L237.5 1512.6 L238.5 1512.3 L239.5 1512.2 L240.5 1512.2 L241.5 1512.1 L242.5 1512.0 L243.5 1512.1 L244.5 1512.1 L245.5 1512.1 L246.5 1512.3 L247.5 1512.4 L248.5 1512.3 L249.5 1512.3 L250.5 1512.4 L251.5 1512.3 L252.5 1512.0 L253.5 1512.1 L254.5 1512.3 L255.5 1512.3 L256.5 1512.3 L257.5 1512.4 L258.5 1512.5 L259.5 1512.3 L260.5 1512.1 L261.5 1512.1 L262.5 1512.1 L263.5 1512.0 L264.5 1512.0 L265.5 1512.0 L266.5 1512.2 L267.5 1512.2 L268.5 1512.0 L269.5 1512.0 L270.5 1512.1 L271.5 1511.9 L272.5 1512.0 L273.5 1512.0 L274.5 1512.0 L275.5 1512.1 L276.5 1512.0 L277.5 1512.0 L278.5 1512.1 L279.5 1512.2 L280.5 1512.1 L281.5 1512.0 L282.5 1512.0 L283.5 1512.1 L284.5 1512.2 L285.5 1512.2 L286.5 1512.1 L287.5 1512.1 L288.5 1512.1 L289.5 1512.0 L290.5 1512.0 L291.5 1512.0 L292.5 1511.9 L293.5 1511.7 L294.5 1511.5 L295.5 1511.4 L296.5 1511.3 L297.5 1511.1 L298.5 1510.8 L299.5 1510.6 L300.5 1510.5 L301.5 1510.4 L302.5 1510.0 L303.5 1509.7 L304.5 1509.5 L305.5 1509.2 L306.5 1508.8 L307.5 1508.4 L308.5 1508.1 L309.5 1507.8 L310.5 1507.3 L311.5 1506.8 L312.5 1506.4 L313.5 1506.1 L314.5 1506.0 L315.5 1505.7 L316.5 1505.3 L317.5 1504.6 L318.5 1504.3 L319.5 1504.0 L320.5 1503.4 L321.5 1503.0 L322.5 1502.8 L323.5 1502.4 L324.5 1501.9 L325.5 1501.4 L326.5 1501.2 L327.5 1501.1 L328.5 1500.6 L329.5 1500.0 L330.5 1499.5 L331.5 1499.2 L332.5 1499.1 L333.5 1498.6 L334.5 1497.9 L335.5 1497.5 L336.5 1497.3 L337.5 1496.9 L338.5 1496.2 L339.5 1495.8 L340.5 1495.6 L341.5 1495.0 L342.5 1494.3 L343.5 1493.8 L344.5 1493.4 L345.5 1492.9 L346.5 1492.4 L347.5 1492.0 L348.5 1491.4 L349.5 1490.6 L350.5 1490.2 L351.5 1489.8 L352.5 1489.1 L353.5 1488.6 L354.5 1488.0 L355.5 1487.5 L356.5 1487.1 L357.5 1486.6 L358.5 1485.9 L359.5 1485.2 L360.5 1484.7 L361.5 1484.3 L362.5 1483.8 L363.5 1483.1 L364.5 1482.3 L365.5 1481.8 L366.5 1481.4 L367.5 1480.9 L368.5 1480.2 L369.5 1479.7 L370.5 1479.2 L371.5 1478.9 L372.5 1478.4 L373.5 1477.8 L374.5 1477.2 L375.5 1476.8 L376.5 1476.4 L377.5 1475.8 L378.5 1475.4 L379.5 1475.0 L380.5 1474.3 L381.5 1473.8 L382.5 1473.5 L383.5 1473.2 L384.5 1472.8 L385.5 1472.3 L386.5 1471.8 L387.5 1471.5 L388.5 1471.2 L389.5 1470.8 L390.5 1470.6 L391.5 1470.4 L392.5 1469.9 L393.5 1469.6 L394.5 1469.5 L395.5 1469.3 L396.5 1468.9 L397.5 1468.4 L398.5 1468.0 L399.5 1467.8 L400.5 1467.2 L401.5 1466.6 L402.5 1466.2 L403.5 1465.7 L404.5 1465.0 L405.5 1464.4 L406.5 1463.6 L407.5 1462.7 L408.5 1462.1 L409.5 1461.6 L410.5 1460.9 L411.5 1460.2 L412.5 1459.6 L413.5 1459.1 L414.5 1458.6 L415.5 1458.3 L416.5 1457.9 L417.5 1457.5 L418.5 1457.1 L419.5 1456.6 L420.5 1456.1 L421.5 1455.7 L422.5 1455.5 L423.5 1455.2 L424.5 1454.9 L425.5 1454.7 L426.5 1454.5 L427.5 1454.2 L428.5 1453.8 L429.5 1453.3 L430.5 1452.9 L431.5 1452.9 L432.5 1452.8 L433.5 1452.6 L434.5 1452.3 L435.5 1452.1 L436.5 1451.9 L437.5 1451.7 L438.5 1451.4 L439.5 1451.1 L440.5 1451.0 L441.5 1451.0 L442.5 1451.0 L443.5 1450.7 L444.5 1450.3 L445.5 1450.1 L446.5 1450.0 L447.5 1449.7 L448.5 1449.5 L449.5 1449.4 L450.5 1449.3 L451.5 1449.1 L452.5 1449.1 L453.5 1448.9 L454.5 1448.7 L455.5 1448.8 L456.5 1448.9 L457.5 1448.9 L458.5 1448.8 L459.5 1448.6 L460.5 1448.6 L461.5 1448.7 L462.5 1448.7 L463.5 1448.9 L464.5 1449.1 L465.5 1449.3 L466.5 1449.4 L467.5 1449.4 L468.5 1449.6 L469.5 1450.0 L470.5 1450.4 L471.5 1450.6 L472.5 1450.8 L473.5 1451.2 L474.5 1451.5 L475.5 1451.8 L476.5 1452.0 L477.5 1452.2 L478.5 1452.6 L479.5 1453.1 L480.5 1453.4 L481.5 1453.7 L482.5 1453.9 L483.5 1454.2 L484.5 1454.4 L485.5 1454.6 L486.5 1455.1 L487.5 1455.6 L488.5 1455.9 L489.5 1456.1 L490.5 1456.2 L491.5 1456.6 L492.5 1457.1 L493.5 1457.4 L494.5 1457.5 L495.5 1457.8 L496.5 1458.4 L497.5 1458.6 L498.5 1458.6 L499.5 1458.9 L500.5 1459.3 L501.5 1459.6 L502.5 1459.9 L503.5 1460.3 L504.5 1460.6 L505.5 1460.9 L506.5 1461.2 L507.5 1461.5 L508.5 1461.7 L509.5 1462.0 L510.5 1462.4 L511.5 1462.7 L512.5 1462.9 L513.5 1463.3 L514.5 1463.7 L515.5 1464.0 L516.5 1464.4 L517.5 1464.7 L518.5 1464.9 L519.5 1465.2 L520.5 1465.4 L521.5 1465.8 L522.5 1466.2 L523.5 1466.5 L524.5 1466.7 L525.5 1467.0 L526.5 1467.4 L527.5 1467.7 L528.5 1468.0 L529.5 1468.3 L530.5 1468.6 L531.5 1468.9 L532.5 1469.5 L533.5 1469.7 L534.5 1469.9 L535.5 1470.4 L536.5 1470.8 L537.5 1470.9 L538.5 1471.2 L539.5 1471.6 L540.5 1472.0 L541.5 1472.5 L542.5 1472.9 L543.5 1473.0 L544.5 1473.5 L545.5 1474.1 L546.5 1474.5 L547.5 1474.7 L548.5 1474.9 L549.5 1475.2 L550.5 1475.5 L551.5 1475.9 L552.5 1476.5 L553.5 1476.9 L554.5 1477.1 L555.5 1477.4 L556.5 1477.7 L557.5 1478.1 L558.5 1478.6 L559.5 1479.1 L560.5 1479.5 L561.5 1479.9 L562.5 1480.4 L563.5 1480.7 L564.5 1481.1 L565.5 1481.6 L566.5 1482.2 L567.5 1482.7 L568.5 1483.1 L569.5 1483.7 L570.5 1484.1 L571.5 1484.3 L572.5 1485.0 L573.5 1486.0 L574.5 1486.4 L575.5 1486.6 L576.5 1487.2 L577.5 1487.5 L578.5 1487.9 L579.5 1488.4 L580.5 1489.1 L581.5 1489.8 L582.5 1490.3 L583.5 1490.8 L584.5 1491.2 L585.5 1491.6 L586.5 1492.0 L587.5 1492.5 L588.5 1493.2 L589.5 1493.5 L590.5 1493.9 L591.5 1494.5 L592.5 1495.0 L593.5 1495.6 L594.5 1496.0 L595.5 1496.4 L596.5 1496.9 L597.5 1497.5 L598.5 1497.9 L599.5 1498.5 L600.5 1499.0 L601.5 1499.5 L602.5 1500.1 L603.5 1500.5 L604.5 1500.8 L605.5 1501.3 L606.5 1501.9 L607.5 1502.3 L608.5 1502.7 L609.5 1503.2 L610.5 1503.8 L611.5 1504.1 L612.5 1504.6 L613.5 1505.1 L614.5 1505.7 L615.5 1506.2 L616.5 1506.4 L617.5 1506.8 L618.5 1507.2 L619.5 1507.6 L620.5 1508.1 L621.5 1508.6 L622.5 1509.0 L623.5 1509.3 L624.5 1509.6 L625.5 1509.7 L626.5 1509.8 L627.5 1510.3 L628.5 1510.9 L629.5 1511.2 L630.5 1511.4 L631.5 1511.6 L632.5 1511.8 L633.5 1512.0 L634.5 1512.0 L635.5 1512.1 L636.5 1512.3 L637.5 1512.5 L638.5 1512.6 L639.5 1512.5 L640.5 1512.3 L641.5 1512.3 L642.5 1512.3 L643.5 1512.4 L644.5 1512.6 L645.5 1512.7 L646.5 1512.7 L647.5 1512.6 L648.5 1512.6 L649.5 1512.5 L650.5 1512.3 L651.5 1512.1 L652.5 1511.9 L653.5 1511.6 L654.5 1511.1 L655.5 1510.8 L656.5 1510.2 L657.5 1509.7 L658.5 1509.2 L659.5 1508.8 L660.5 1508.3 L661.5 1507.8 L662.5 1507.3 L663.5 1506.7 L664.5 1505.9 L665.5 1505.1 L666.5 1504.3 L667.5 1503.5 L668.5 1502.5 L669.5 1501.4 L670.5 1500.4 L671.5 1499.5 L672.5 1498.6 L673.5 1497.5 L674.5 1496.5 L675.5 1495.8 L676.5 1494.9 L677.5 1493.7 L678.5 1492.3 L679.5 1491.0 L680.5 1489.7 L681.5 1488.0 L682.5 1486.3 L683.5 1484.7 L684.5 1483.3 L685.5 1481.9 L686.5 1480.1 L687.5 1477.9 L688.5 1475.6 L689.5 1472.7 L690.5 1468.7 L691.5 1464.0 L692.5 1458.0 L693.5 1450.0 L694.5 1442.2 L695.5 1435.1 L696.5 1428.6 L697.5 1423.6 L698.5 1419.3 L699.5 1416.3 L700.5 1415.3 L701.5 1414.7 L702.5 1414.3 L703.5 1414.4 L704.5 1414.7 L705.5 1415.2 L706.5 1415.4 L707.5 1415.2 L708.5 1412.9 L709.5 1409.2 L710.5 1402.0 L711.5 1391.6 L712.5 1380.3 L713.5 1367.2 L714.5 1354.7 L715.5 1342.7 L716.5 1331.8 L717.5 1323.1 L718.5 1316.0 L719.5 1312.6 L720.5 1310.8 L721.5 1311.1 L722.5 1313.5 L723.5 1318.3 L724.5 1328.1 L725.5 1336.6 L726.5 1344.0 L727.5 1351.0 L728.5 1357.7 L729.5 1364.1 L730.5 1370.1 L731.5 1375.9 L732.5 1381.5 L733.5 1387.1 L734.5 1392.5 L735.5 1397.5 L736.5 1402.3 L737.5 1406.9 L738.5 1411.6 L739.5 1415.9 L740.5 1419.2 L741.5 1421.3 L742.5 1422.7 L743.5 1423.3 L744.5 1422.9 L745.5 1421.9 L746.5 1420.5 L747.5 1418.7 L748.5 1416.4 L749.5 1414.2 L750.5 1412.3 L751.5 1410.8 L752.5 1409.1 L753.5 1404.8 L754.5 1396.5 L755.5 1387.3 L756.5 1377.4 L757.5 1370.8 L758.5 1366.9 L759.5 1369.5 L760.5 1375.5 L761.5 1387.2 L762.5 1400.9 L763.5 1415.0 L764.5 1426.7 L765.5 1436.2 L766.5 1444.5 L767.5 1451.7 L768.5 1457.9 L769.5 1462.9 L770.5 1467.0 L771.5 1470.4 L772.5 1473.6 L773.5 1476.1 L774.5 1478.4 L775.5 1480.5 L776.5 1482.5 L777.5 1484.4 L778.5 1486.1 L779.5 1487.5 L780.5 1488.9 L781.5 1490.3 L782.5 1491.6 L783.5 1492.7 L784.5 1493.8 L785.5 1494.7 L786.5 1495.4 L787.5 1495.8 L788.5 1496.6 L789.5 1497.4 L790.5 1498.3 L791.5 1498.8 L792.5 1499.3 L793.5 1499.8 L794.5 1500.3 L795.5 1500.8 L796.5 1501.1 L797.5 1501.7 L798.5 1502.3 L799.5 1502.5 L800.5 1502.8 L801.5 1503.3 L802.5 1503.7 L803.5 1503.8 L804.5 1504.1 L805.5 1504.4 L806.5 1504.6 L807.5 1504.9 L808.5 1505.1 L809.5 1505.4 L810.5 1505.8 L811.5 1506.1 L812.5 1506.2 L813.5 1506.3 L814.5 1506.4 L815.5 1506.4 L816.5 1506.5 L817.5 1506.6 L818.5 1506.7 L819.5 1506.7 L820.5 1506.7 L821.5 1506.6 L822.5 1506.5 L823.5 1506.6 L824.5 1506.5 L825.5 1506.1 L826.5 1506.1 L827.5 1506.2 L828.5 1506.3 L829.5 1506.8 L830.5 1507.4 L831.5 1507.6 L832.5 1507.6 L833.5 1507.7 L834.5 1507.7 L835.5 1508.2 L836.5 1508.5 L837.5 1508.5 L838.5 1508.7 L839.5 1509.0 L840.5 1509.0 L841.5 1508.9 L842.5 1509.2 L843.5 1509.3 L844.5 1509.3 L845.5 1509.3 L846.5 1509.5 L847.5 1509.6 L848.5 1509.5 L849.5 1509.4 L850.5 1509.4 L851.5 1509.5 L852.5 1509.8 L853.5 1509.9 L854.5 1509.8 L855.5 1509.9 L856.5 1510.1 L857.5 1510.3 L858.5 1510.3 L859.5 1510.1 L860.5 1510.1 L861.5 1510.4 L862.5 1510.5 L863.5 1510.4 L864.5 1510.4 L865.5 1510.6 L866.5 1510.8 L867.5 1510.9 L868.5 1511.1 L869.5 1511.2 L870.5 1511.3 L871.5 1511.3 L872.5 1511.3 L873.5 1511.4 L874.5 1511.4 L875.5 1511.5 L876.5 1511.5 L877.5 1511.6 L878.5 1511.8 L879.5 1511.9 L880.5 1511.7 L881.5 1511.8 L882.5 1511.8 L883.5 1511.8 L884.5 1511.8 L885.5 1511.9 L886.5 1512.2 L887.5 1512.4 L888.5 1512.2 L889.5 1512.1 L890.5 1512.1 L891.5 1512.3 L892.5 1512.4 L893.5 1512.3 L894.5 1512.4 L895.5 1512.4 L896.5 1512.4 L897.5 1512.3 L898.5 1512.2 L899.5 1512.5 L900.5 1512.9 L901.5 1513.0 L902.5 1513.0 L903.5 1513.0 L904.5 1512.9 L905.5 1512.9 L906.5 1512.9 L907.5 1513.0 L908.5 1513.2 L909.5 1513.3 L910.5 1513.1 L911.5 1513.0 L912.5 1513.0 L913.5 1513.1 L914.5 1513.2 L915.5 1513.2 L916.5 1513.0 L917.5 1513.0 L918.5 1513.0 L919.5 1513.0 L920.5 1512.9 L921.5 1512.7 L922.5 1512.7 L923.5 1513.1 L924.5 1513.3 L925.5 1513.1 L926.5 1512.9 L927.5 1512.6 L928.5 1512.7 L929.5 1512.9 L930.5 1512.9 L931.5 1513.0 L932.5 1513.2 L933.5 1513.1 L934.5 1513.0 L935.5 1513.0 L936.5 1512.9 L937.5 1512.9 L938.5 1512.8 L939.5 1512.8 L940.5 1512.9 L941.5 1513.1 L942.5 1513.1 L943.5 1513.2 L944.5 1513.3 L945.5 1513.0 L946.5 1512.7 L947.5 1512.8 L948.5 1513.1 L949.5 1513.1 L950.5 1513.0 L951.5 1513.1 L952.5 1513.0 L953.5 1513.0 L954.5 1513.0 L955.5 1512.9 L956.5 1512.8 L957.5 1512.7 L958.5 1512.8 L959.5 1512.9 L960.5 1512.8 L961.5 1512.8 L962.5 1512.9 L963.5 1513.0 L964.5 1513.0 L965.5 1513.1 L966.5 1512.9 L967.5 1512.6 L968.5 1512.7 L969.5 1512.9 L970.5 1512.9 L971.5 1512.9 L972.5 1513.0 L973.5 1513.0 L974.5 1512.9 L975.5 1512.8 L976.5 1512.7 L977.5 1512.7 L978.5 1512.7 L979.5 1512.7 L980.5 1512.7 L981.5 1512.7 L982.5 1512.9 L983.5 1513.1 L984.5 1513.0 L985.5 1512.7 L986.5 1512.5 L987.5 1512.7 L988.5 1512.9 L989.5 1512.8 L990.5 1512.7 L991.5 1512.7 L992.5 1512.7 L993.5 1512.5 L994.5 1512.4 L995.5 1512.5 L996.5 1512.6 L997.5 1512.7 L998.5 1512.7 L999.5 1512.6 L1000.5 1512.5 L1001.5 1512.6 L1002.5 1512.6 L1003.5 1512.6 L1004.5 1512.6 L1005.5 1512.5 L1006.5 1512.6 L1007.5 1512.7 L1008.5 1512.7 L1009.5 1512.7 L1010.5 1512.8 L1011.5 1512.9 L1012.5 1512.7 L1013.5 1512.4 L1014.5 1512.4 L1015.5 1512.5 L1016.5 1512.6 L1017.5 1512.4 L1018.5 1512.3 L1019.5 1512.4 L1020.5 1512.3 L1021.5 1512.3 L1022.5 1512.5 L1023.5 1512.6 L1024.5 1512.5 L1025.5 1512.5 L1026.5 1512.5 L1027.5 1512.5 L1028.5 1512.4 L1029.5 1512.2 L1030.5 1512.1 L1031.5 1512.4 L1032.5 1512.7 L1033.5 1512.7 L1034.5 1512.3 L1035.5 1512.2 L1036.5 1512.3 L1037.5 1512.3 L1038.5 1512.2 L1039.5 1512.3 L1040.5 1512.4 L1041.5 1512.5 L1042.5 1512.5 L1043.5 1512.5 L1044.5 1512.4 L1045.5 1512.3 L1046.5 1512.1 L1047.5 1512.2 L1048.5 1512.4 L1049.5 1512.4 L1050.5 1512.2 L1051.5 1512.1 L1052.5 1512.3 L1053.5 1512.2 L1054.5 1512.1 L1055.5 1512.3 L1056.5 1512.4 L1057.5 1512.3 L1058.5 1512.3 L1059.5 1512.2 L1060.5 1512.1 L1061.5 1512.2 L1062.5 1512.2 L1063.5 1512.1 L1064.5 1512.2 L1065.5 1512.3 L1066.5 1512.3 L1067.5 1512.2 L1068.5 1512.1 L1069.5 1512.0 L1070.5 1511.9 L1071.5 1512.1 L1072.5 1512.1 L1073.5 1512.0 L1074.5 1511.9 L1075.5 1511.8 L1076.5 1511.9 L1077.5 1511.9 L1078.5 1511.8 L1079.5 1511.7 L1080.5 1511.7 L1081.5 1511.8 L1082.5 1511.9 L1083.5 1511.8 L1084.5 1511.8 L1085.5 1511.8 L1086.5 1511.7 L1087.5 1511.8 L1088.5 1511.9 L1089.5 1511.8 L1090.5 1511.7 L1091.5 1511.7 L1092.5 1511.7 L1093.5 1511.7 L1094.5 1511.7 L1095.5 1511.8 L1096.5 1511.7 L1097.5 1511.7 L1098.5 1511.9 L1099.5 1511.8 L1100.5 1511.8 L1101.5 1511.9 L1102.5 1511.9 L1103.5 1511.9 L1104.5 1511.9 L1105.5 1511.9 L1106.5 1511.9 L1107.5 1511.9 L1108.5 1511.8 L1109.5 1511.8 L1110.5 1511.8 L1111.5 1511.9 L1112.5 1511.9 L1113.5 1511.9 L1114.5 1511.8 L1115.5 1511.8 L1116.5 1511.8 L1117.5 1511.9 L1118.5 1511.9 L1119.5 1512.0 L1120.5 1512.1 L1121.5 1512.1 L1122.5 1512.1 L1123.5 1512.2 L1124.5 1512.0 L1125.5 1511.7 L1126.5 1511.8 L1127.5 1512.0 L1128.5 1512.1 L1129.5 1511.9 L1130.5 1511.7 L1131.5 1511.8 L1132.5 1511.9 L1133.5 1512.0 L1134.5 1512.0 L1135.5 1512.0 L1136.5 1511.9 L1137.5 1511.8 L1138.5 1512.0 L1139.5 1512.1 L1140.5 1512.0 L1141.5 1511.8 L1142.5 1511.8 L1143.5 1512.0 L1144.5 1512.0 L1145.5 1512.0 L1146.5 1512.0 L1147.5 1512.1 L1148.5 1512.1 L1149.5 1512.0 L1150.5 1511.9 L1151.5 1512.0 L1152.5 1512.0 L1153.5 1512.1 L1154.5 1512.1 L1155.5 1512.3 L1156.5 1512.3 L1157.5 1512.2 L1158.5 1511.9 L1159.5 1511.9 L1160.5 1512.0 L1161.5 1512.2 L1162.5 1512.2 L1163.5 1512.3 L1164.5 1512.5 L1165.5 1512.5 L1166.5 1512.4 L1167.5 1512.5 L1168.5 1512.5 L1169.5 1512.5 L1170.5 1512.5 L1171.5 1512.5 L1172.5 1512.3 L1173.5 1512.1 L1174.5 1512.1 L1175.5 1512.3 L1176.5 1512.4 L1177.5 1512.3 L1178.5 1512.3 L1179.5 1512.3 L1180.5 1512.1 L1181.5 1512.1 L1182.5 1512.4 L1183.5 1512.5 L1184.5 1512.3 L1185.5 1512.2 L1186.5 1512.2 L1187.5 1512.2 L1188.5 1512.3 L1189.5 1512.4 L1190.5 1512.5 L1191.5 1512.7 L1192.5 1512.6 L1193.5 1512.5 L1194.5 1512.7 L1195.5 1512.7 L1196.5 1512.6 L1197.5 1512.6 L1198.5 1512.5 L1199.5 1512.4 L1200.5 1512.4 L1201.5 1512.4 L1202.5 1512.4 L1203.5 1512.6 L1204.5 1512.7 L1205.5 1512.7 L1206.5 1512.8 L1207.5 1512.9 L1208.5 1512.8 L1209.5 1512.7 L1210.5 1512.7 L1211.5 1512.8 L1212.5 1512.9 L1213.5 1512.7 L1214.5 1512.6 L1215.5 1512.7 L1216.5 1512.8 L1217.5 1512.8 L1218.5 1512.7 L1219.5 1512.8 L1220.5 1512.7 L1221.5 1512.7 L1222.5 1512.8 L1223.5 1512.9 L1224.5 1512.9 L1225.5 1512.9 L1226.5 1512.7 L1227.5 1512.7 L1228.5 1512.9 L1229.5 1513.1 L1230.5 1513.0 L1231.5 1513.0 L1232.5 1512.9 L1233.5 1512.7 L1234.5 1512.9 L1235.5 1513.0 L1236.5 1512.9 L1237.5 1512.9 L1238.5 1512.9 L1239.5 1513.0 L1240.5 1513.0 L1241.5 1513.1 L1242.5 1513.0 L1243.5 1512.9 L1244.5 1512.9 L1245.5 1512.7 L1246.5 1512.6 L1247.5 1512.6 L1248.5 1512.6 L1249.5 1512.3 L1250.5 1512.2 L1251.5 1512.4 L1252.5 1512.4 L1253.5 1512.3 L1254.5 1512.3 L1255.5 1512.2 L1256.5 1512.3 L1257.5 1512.2 L1258.5 1512.1 L1259.5 1512.3 L1260.5 1512.4 L1261.5 1512.3 L1262.5 1512.3 L1263.5 1512.4 L1264.5 1512.4 L1265.5 1512.4 L1266.5 1512.4 L1267.5 1512.2 L1268.5 1512.2 L1269.5 1512.3 L1270.5 1512.1 L1271.5 1511.8 L1272.5 1511.7 L1273.5 1511.9 L1274.5 1512.0 L1275.5 1511.9 L1276.5 1511.7 L1277.5 1511.8 L1278.5 1512.0 L1279.5 1512.0 L1280.5 1511.8 L1281.5 1511.9 L1282.5 1512.0 L1283.5 1512.0 L1284.5 1511.5 L1285.5 1511.2 L1286.5 1511.5 L1287.5 1511.8 L1288.5 1511.8 L1289.5 1511.8 L1290.5 1511.8 L1291.5 1511.8 L1292.5 1511.8 L1293.5 1511.8 L1294.5 1511.8 L1295.5 1511.7 L1296.5 1511.6 L1297.5 1511.7 L1298.5 1511.8 L1299.5 1511.7 L1300.5 1511.7 L1301.5 1512.0 L1302.5 1511.9 L1303.5 1511.6 L1304.5 1511.6 L1305.5 1511.7 L1306.5 1511.9 L1307.5 1512.2 L1308.5 1512.2 L1309.5 1512.2 L1310.5 1512.2 L1311.5 1512.2 L1312.5 1512.2 L1313.5 1512.2 L1314.5 1512.3 L1315.5 1512.3 L1316.5 1512.1 L1317.5 1512.0 L1318.5 1512.3 L1319.5 1512.5 L1320.5 1512.4 L1321.5 1512.6 L1322.5 1512.7 L1323.5 1512.5 L1324.5 1512.3 L1325.5 1512.3 L1326.5 1512.2 L1327.5 1512.1 L1328.5 1512.1 L1329.5 1512.2 L1330.5 1512.3 L1331.5 1512.4 L1332.5 1512.2 L1333.5 1512.0 L1334.5 1512.2 L1335.5 1512.6 L1336.5 1512.6 L1337.5 1512.5 L1338.5 1512.4 L1339.5 1512.1 L1340.5 1512.2 L1341.5 1512.3 L1342.5 1512.3 L1343.5 1512.4 L1344.5 1512.5 L1345.5 1512.5 L1346.5 1512.3 L1347.5 1512.2 L1348.5 1512.1 L1349.5 1512.3 L1350.5 1512.8 L1351.5 1512.2 L1352.5 1511.7 L1353.5 1512.1 L1354.5 1512.5 L1355.5 1512.3 L1356.5 1512.0 L1357.5 1512.0 L1358.5 1512.0 L1359.5 1511.8 L1360.5 1511.8 L1361.5 1512.1 L1362.5 1512.3 L1363.5 1512.3 L1364.5 1512.2 L1365.5 1512.1 L1366.5 1511.9 L1367.5 1511.5 L1368.5 1511.0 L1369.5 1510.6 L1370.5 1510.5 L1371.5 1510.5 L1372.5 1510.2 L1373.5 1509.3 L1374.5 1508.4 L1375.5 1508.0 L1376.5 1507.7 L1377.5 1507.2 L1378.5 1506.4 L1379.5 1505.6 L1380.5 1505.1 L1381.5 1504.4 L1382.5 1503.6 L1383.5 1502.8 L1384.5 1502.0 L1385.5 1501.0 L1386.5 1499.7 L1387.5 1498.8 L1388.5 1498.4 L1389.5 1497.9 L1390.5 1497.6 L1391.5 1497.9 L1392.5 1498.8 L1393.5 1499.9 L1394.5 1501.0 L1395.5 1502.2 L1396.5 1503.2 L1397.5 1503.5 L1398.5 1503.5 L1399.5 1503.4 L1400.5 1503.4 L1401.5 1503.2 L1402.5 1502.7 L1403.5 1502.6 L1404.5 1502.6 L1405.5 1501.9 L1406.5 1501.6 L1407.5 1502.2 L1408.5 1502.5 L1409.5 1502.5 L1410.5 1502.2 L1411.5 1501.3 L1412.5 1500.3 L1413.5 1499.8 L1414.5 1499.3 L1415.5 1498.4 L1416.5 1497.6 L1417.5 1497.0 L1418.5 1496.3 L1419.5 1495.6 L1420.5 1495.1 L1421.5 1494.9 L1422.5 1494.4 L1423.5 1493.5 L1424.5 1492.8 L1425.5 1492.1 L1426.5 1491.3 L1427.5 1490.0 L1428.5 1488.7 L1429.5 1487.9 L1430.5 1486.9 L1431.5 1485.8 L1432.5 1484.8 L1433.5 1483.9 L1434.5 1483.0 L1435.5 1482.0 L1436.5 1481.3 L1437.5 1480.1 L1438.5 1478.3 L1439.5 1477.0 L1440.5 1475.8 L1441.5 1474.7 L1442.5 1474.5 L1443.5 1474.6 L1444.5 1474.5 L1445.5 1474.4 L1446.5 1474.8 L1447.5 1475.7 L1448.5 1476.9 L1449.5 1478.2 L1450.5 1479.4 L1451.5 1480.8 L1452.5 1482.1 L1453.5 1483.3 L1454.5 1484.9 L1455.5 1486.5 L1456.5 1487.6 L1457.5 1488.6 L1458.5 1489.8 L1459.5 1491.0 L1460.5 1492.3 L1461.5 1493.9 L1462.5 1495.4 L1463.5 1496.4 L1464.5 1496.9 L1465.5 1497.8 L1466.5 1499.1 L1467.5 1500.5 L1468.5 1501.9 L1469.5 1502.9 L1470.5 1503.5 L1471.5 1504.1 L1472.5 1504.9 L1473.5 1505.6 L1474.5 1506.5 L1475.5 1507.8 L1476.5 1509.0 L1477.5 1509.8 L1478.5 1510.4 L1479.5 1510.5 L1480.5 1510.8 L1481.5 1511.4 L1482.5 1512.0 L1483.5 1512.5 L1484.5 1513.1 L1485.5 1513.3 L1486.5 1513.4 L1487.5 1513.6 L1488.5 1513.5 L1489.5 1513.6 L1490.5 1513.7 L1491.5 1513.6 L1492.5 1513.5 L1493.5 1513.0 L1494.5 1512.1 L1495.5 1511.4 L1496.5 1510.7 L1497.5 1510.2 L1498.5 1509.8 L1499.5 1509.4 L1500.5 1508.5 L1501.5 1507.2 L1502.5 1506.3 L1503.5 1505.5 L1504.5 1504.0 L1505.5 1502.8 L1506.5 1501.6 L1507.5 1499.1 L1508.5 1495.9 L1509.5 1488.1 L1510.5 1476.2 L1511.5 1464.0 L1512.5 1455.5 L1513.5 1449.0 L1514.5 1442.8 L1515.5 1437.0 L1516.5 1432.0 L1517.5 1428.0 L1518.5 1425.2 L1519.5 1423.5 L1520.5 1423.7 L1521.5 1424.9 L1522.5 1427.0 L1523.5 1429.8 L1524.5 1433.2 L1525.5 1436.6 L1526.5 1440.3 L1527.5 1444.1 L1528.5 1448.0 L1529.5 1451.6 L1530.5 1455.7 L1531.5 1460.7 L1532.5 1466.2 L1533.5 1471.3 L1534.5 1475.5 L1535.5 1478.4 L1536.5 1479.5 L1537.5 1480.0 L1538.5 1480.8 L1539.5 1481.3 L1540.5 1481.6 L1541.5 1481.9 L1542.5 1482.1 L1543.5 1482.6 L1544.5 1482.8 L1545.5 1483.0 L1546.5 1483.6 L1547.5 1484.5 L1548.5 1485.4 L1549.5 1485.9 L1550.5 1486.4 L1551.5 1486.8 L1552.5 1487.2 L1553.5 1487.6 L1554.5 1487.3 L1555.5 1486.3 L1556.5 1485.0 L1557.5 1483.4 L1558.5 1480.9 L1559.5 1476.2 L1560.5 1467.7 L1561.5 1458.8 L1562.5 1452.6 L1563.5 1451.9 L1564.5 1454.2 L1565.5 1458.5 L1566.5 1463.7 L1567.5 1469.0 L1568.5 1473.4 L1569.5 1476.2 L1570.5 1478.0 L1571.5 1479.6 L1572.5 1481.6 L1573.5 1484.0 L1574.5 1485.4 L1575.5 1485.6 L1576.5 1486.1 L1577.5 1487.0 L1578.5 1487.3 L1579.5 1487.3 L1580.5 1487.1 L1581.5 1487.4 L1582.5 1488.5 L1583.5 1489.0 L1584.5 1489.0 L1585.5 1489.2 L1586.5 1489.3 L1587.5 1489.0 L1588.5 1489.0 L1589.5 1489.0 L1590.5 1489.1 L1591.5 1489.4 L1592.5 1489.1 L1593.5 1489.1 L1594.5 1489.2 L1595.5 1489.0 L1596.5 1488.7 L1597.5 1488.6 L1598.5 1488.8 L1599.5 1488.9 L1600.5 1488.9 L1601.5 1488.8 L1602.5 1489.1 L1603.5 1489.8 L1604.5 1490.3 L1605.5 1490.9 L1606.5 1491.2 L1607.5 1491.6 L1608.5 1492.1 L1609.5 1492.7 L1610.5 1493.4 L1611.5 1493.7 L1612.5 1493.9 L1613.5 1494.5 L1614.5 1494.8 L1615.5 1494.8 L1616.5 1494.8 L1617.5 1494.3 L1618.5 1493.7 L1619.5 1493.5 L1620.5 1493.1 L1621.5 1492.9 L1622.5 1492.7 L1623.5 1492.1 L1624.5 1491.6 L1625.5 1491.6 L1626.5 1491.3 L1627.5 1490.8 L1628.5 1490.7 L1629.5 1490.9 L1630.5 1490.7 L1631.5 1490.6 L1632.5 1490.7 L1633.5 1491.1 L1634.5 1491.7 L1635.5 1492.3 L1636.5 1493.1 L1637.5 1493.4 L1638.5 1493.4 L1639.5 1493.9 L1640.5 1494.7 L1641.5 1495.2 L1642.5 1495.5 L1643.5 1495.8 L1644.5 1495.9 L1645.5 1496.2 L1646.5 1496.7 L1647.5 1497.4 L1648.5 1498.0 L1649.5 1498.5 L1650.5 1498.5 L1651.5 1498.7 L1652.5 1499.4 L1653.5 1499.9 L1654.5 1500.6 L1655.5 1500.9 L1656.5 1501.2 L1657.5 1501.8 L1658.5 1502.1 L1659.5 1501.8 L1660.5 1501.7 L1661.5 1501.9 L1662.5 1502.0 L1663.5 1502.5 L1664.5 1503.1 L1665.5 1503.5 L1666.5 1503.9 L1667.5 1504.0 L1668.5 1504.0 L1669.5 1504.0 L1670.5 1503.9 L1671.5 1503.7 L1672.5 1502.4 L1673.5 1500.3 L1674.5 1498.0 L1675.5 1495.9 L1676.5 1494.5 L1677.5 1492.9 L1678.5 1491.1 L1679.5 1490.3 L1680.5 1489.7 L1681.5 1488.8 L1682.5 1489.0 L1683.5 1490.5 L1684.5 1492.3 L1685.5 1493.6 L1686.5 1495.3 L1687.5 1498.5 L1688.5 1501.9 L1689.5 1504.0 L1690.5 1504.0 L1691.5 1504.0 L1692.5 1504.1 L1693.5 1503.9 L1694.5 1504.0 L1695.5 1504.1 L1696.5 1504.0 L1697.5 1504.2 L1698.5 1504.4 L1699.5 1504.2 L1700.5 1504.0 L1701.5 1503.8 L1702.5 1503.5 L1703.5 1503.1 L1704.5 1502.9 L1705.5 1502.8 L1706.5 1502.6 L1707.5 1502.6 L1708.5 1502.4 L1709.5 1502.0 L1710.5 1501.6 L1711.5 1501.0 L1712.5 1500.8 L1713.5 1501.1 L1714.5 1500.8 L1715.5 1500.6 L1716.5 1500.9 L1717.5 1500.7 L1718.5 1500.5 L1719.5 1500.7 L1720.5 1500.8 L1721.5 1500.3 L1722.5 1499.8 L1723.5 1499.9 L1724.5 1500.2 L1725.5 1500.2 L1726.5 1499.9 L1727.5 1499.4 L1728.5 1499.2 L1729.5 1499.1 L1730.5 1498.6 L1731.5 1498.5 L1732.5 1499.0 L1733.5 1499.1 L1734.5 1498.6 L1735.5 1498.4 L1736.5 1498.6 L1737.5 1498.6 L1738.5 1498.3 L1739.5 1497.9 L1740.5 1497.3 L1741.5 1496.9 L1742.5 1496.2 L1743.5 1495.6 L1744.5 1495.4 L1745.5 1495.3 L1746.5 1494.8 L1747.5 1494.1 L1748.5 1493.2 L1749.5 1492.1 L1750.5 1491.2 L1751.5 1491.2 L1752.5 1491.6 L1753.5 1491.6 L1754.5 1491.6 L1755.5 1492.4 L1756.5 1493.4 L1757.5 1494.6 L1758.5 1496.0 L1759.5 1497.7 L1760.5 1499.2 L1761.5 1500.7 L1762.5 1502.0 L1763.5 1503.0 L1764.5 1504.1 L1765.5 1505.2 L1766.5 1506.2 L1767.5 1507.5 L1768.5 1508.6 L1769.5 1509.6 L1770.5 1510.5 L1771.5 1511.5 L1772.5 1512.1 L1773.5 1512.4 L1774.5 1512.5 L1775.5 1512.2 L1776.5 1512.1 L1777.5 1512.3 L1778.5 1512.2 L1779.5 1512.2 L1780.5 1512.4 L1781.5 1512.7 L1782.5 1512.4 L1783.5 1512.0 L1784.5 1512.4 L1785.5 1512.9 L1786.5 1512.9 L1787.5 1512.8 L1788.5 1513.0 L1789.5 1512.5 L1790.5 1512.1 L1791.5 1512.3 L1792.5 1512.8 L1793.5 1513.1 L1794.5 1512.8 L1795.5 1512.4 L1796.5 1512.3 L1797.5 1512.1 L1798.5 1511.9 L1799.5 1512.0 L1800.5 1512.0 L1801.5 1511.9 L1802.5 1512.3 L1803.5 1512.4 L1804.5 1512.3 L1805.5 1512.5 L1806.5 1512.5 L1807.5 1512.4 L1808.5 1512.3 L1809.5 1512.2 L1810.5 1512.7 L1811.5 1512.9 L1812.5 1513.0 L1813.5 1512.7 L1814.5 1512.1 L1815.5 1512.2 L1816.5 1511.9 L1817.5 1511.2 L1818.5 1510.4 L1819.5 1509.5 L1820.5 1508.5 L1821.5 1507.8 L1822.5 1507.1 L1823.5 1506.1 L1824.5 1504.6 L1825.5 1503.3 L1826.5 1502.9 L1827.5 1501.8 L1828.5 1500.5 L1829.5 1499.5 L1830.5 1498.7 L1831.5 1498.4 L1832.5 1497.4 L1833.5 1496.1 L1834.5 1495.1 L1835.5 1493.8 L1836.5 1492.9 L1837.5 1492.3 L1838.5 1491.7 L1839.5 1491.4 L1840.5 1491.3 L1841.5 1491.4 L1842.5 1491.9 L1843.5 1492.3 L1844.5 1492.3 L1845.5 1492.8 L1846.5 1493.2 L1847.5 1493.3 L1848.5 1494.0 L1849.5 1495.0 L1850.5 1495.9 L1851.5 1496.5 L1852.5 1497.0 L1853.5 1497.4 L1854.5 1498.2 L1855.5 1499.1 L1856.5 1499.3 L1857.5 1498.9 L1858.5 1498.1 L1859.5 1496.8 L1860.5 1494.9 L1861.5 1493.2 L1862.5 1491.5 L1863.5 1489.7 L1864.5 1488.7 L1865.5 1487.7 L1866.5 1486.1 L1867.5 1484.6 L1868.5 1483.3 L1869.5 1482.2 L1870.5 1481.3 L1871.5 1480.8 L1872.5 1480.6 L1873.5 1480.5 L1874.5 1480.7 L1875.5 1481.7 L1876.5 1483.2 L1877.5 1484.0 L1878.5 1484.6 L1879.5 1485.7 L1880.5 1486.5 L1881.5 1487.6 L1882.5 1489.0 L1883.5 1489.9 L1884.5 1490.3 L1885.5 1490.8 L1886.5 1491.5 L1887.5 1491.7 L1888.5 1491.5 L1889.5 1491.0 L1890.5 1490.3 L1891.5 1489.6 L1892.5 1488.8 L1893.5 1487.8 L1894.5 1487.3 L1895.5 1487.1 L1896.5 1486.3 L1897.5 1485.2 L1898.5 1484.6 L1899.5 1484.3 L1900.5 1483.9 L1901.5 1483.5 L1902.5 1483.0 L1903.5 1482.1 L1904.5 1481.5 L1905.5 1481.5 L1906.5 1481.3 L1907.5 1481.1 L1908.5 1481.4 L1909.5 1481.8 L1910.5 1482.3 L1911.5 1483.2 L1912.5 1483.7 L1913.5 1483.4 L1914.5 1482.1 L1915.5 1480.3 L1916.5 1477.8 L1917.5 1475.0 L1918.5 1472.5 L1919.5 1471.3 L1920.5 1471.8 L1921.5 1473.8 L1922.5 1476.5 L1923.5 1479.8 L1924.5 1483.1 L1925.5 1486.4 L1926.5 1490.5 L1927.5 1494.7 L1928.5 1498.2 L1929.5 1500.0 L1930.5 1501.5 L1931.5 1502.9 L1932.5 1503.7 L1933.5 1504.2 L1934.5 1505.0 L1935.5 1505.8 L1936.5 1506.5 L1937.5 1507.4 L1938.5 1508.1 L1939.5 1508.4 L1940.5 1508.5 L1941.5 1508.5 L1942.5 1508.6 L1943.5 1508.7 L1944.5 1509.0 L1945.5 1509.5 L1946.5 1509.8 L1947.5 1509.7 L1948.5 1509.6 L1949.5 1509.7 L1950.5 1509.9 L1951.5 1510.1 L1952.5 1510.3 L1953.5 1510.2 L1954.5 1510.1 L1955.5 1510.0 L1956.5 1510.1 L1957.5 1510.1 L1958.5 1510.1 L1959.5 1510.3 L1960.5 1510.3 L1961.5 1510.2 L1962.5 1510.2 L1963.5 1510.4 L1964.5 1510.4 L1965.5 1510.3 L1966.5 1510.1 L1967.5 1510.0 L1968.5 1510.2 L1969.5 1510.2 L1970.5 1510.0 L1971.5 1510.4 L1972.5 1510.7 L1973.5 1510.6 L1974.5 1510.3 L1975.5 1510.1 L1976.5 1510.1 L1977.5 1510.3 L1978.5 1510.5 L1979.5 1510.3 L1980.5 1510.2 L1981.5 1510.4 L1982.5 1510.5 L1983.5 1510.4 L1984.5 1510.3 L1985.5 1510.2 L1986.5 1510.1 L1987.5 1510.3 L1988.5 1510.7 L1989.5 1510.7 L1990.5 1510.4 L1991.5 1510.2 L1992.5 1510.1 L1993.5 1510.2 L1994.5 1510.3 L1995.5 1510.1 L1996.5 1510.3 L1997.5 1510.6 L1998.5 1510.6 L1999.5 1510.6 L2000.5 1510.6 L2001.5 1510.3 L2002.5 1510.5 L2003.5 1510.7 L2004.5 1510.5 L2005.5 1510.7 L2006.5 1510.9 L2007.5 1510.9 L2008.5 1511.1 L2009.5 1511.0 L2010.5 1511.0 L2011.5 1511.1 L2012.5 1511.2 L2013.5 1511.5 L2014.5 1511.6 L2015.5 1511.3 L2016.5 1511.0 L2017.5 1511.3 L2018.5 1511.7 L2019.5 1511.6 L2020.5 1511.5 L2021.5 1511.6 L2022.5 1511.9 L2023.5 1512.1 L2024.5 1512.0 L2025.5 1512.0 L2026.5 1511.8 L2027.5 1511.8 L2028.5 1511.8 L2029.5 1512.0 L2030.5 1512.4 L2031.5 1512.5 L2032.5 1512.3 L2033.5 1512.2 L2034.5 1512.3 L2035.5 1512.2 L2036.5 1512.4 L2037.5 1512.5 L2038.5 1512.5 L2039.5 1512.6 L2040.5 1512.5 L2041.5 1512.1 L2042.5 1512.0 L2043.5 1512.1 L2044.5 1511.9 L2045.5 1512.0 L2046.5 1512.5 L2047.5 1512.6 L2048.5 1512.0 L2049.5 1511.7 L2050.5 1511.7 L2051.5 1511.8 L2052.5 1512.1 L2053.5 1512.3 L2054.5 1512.2 L2055.5 1512.1 L2056.5 1512.1 L2057.5 1512.0 L2058.5 1511.8 L2059.5 1511.6 L2060.5 1511.3 L2061.5 1511.1 L2062.5 1511.3 L2063.5 1511.5 L2064.5 1511.4 L2065.5 1511.5 L2066.5 1511.6 L2067.5 1511.6 L2068.5 1511.5 L2069.5 1511.2 L2070.5 1510.9 L2071.5 1511.1 L2072.5 1511.3 L2073.5 1511.3 L2074.5 1511.3 L2075.5 1511.4 L2076.5 1511.4 L2077.5 1511.3 L2078.5 1511.4 L2079.5 1511.5 L2080.5 1511.5 L2081.5 1511.6 L2082.5 1511.5 L2083.5 1511.4 L2084.5 1511.5 L2085.5 1511.8 L2086.5 1511.9 L2087.5 1511.8 L2088.5 1511.6 L2089.5 1511.9 L2090.5 1512.3 L2091.5 1512.6 L2095.4 1512.4" stroke="#00C8C8"/>
</g>
<g fill="none" stroke="#6600E0" stroke-width="7.4" stroke-linecap="square" stroke-linejoin="miter" stroke-dasharray="41 27.6 5.1 27.6">
<path d="M1361.6 453.6 H1418.5 V1538.6 H1361.6"/>
<path d="M1361.6 453.6 V1538.6"/>
<path d="M1643.6 449.0 H1783.0 V1534.4 H1643.6"/>
<path d="M1643.6 449.0 V1534.4"/>
<path d="M2002.2 932.5 H2076.5 V1378.9 H2002.2"/>
<path d="M2002.2 932.5 V1378.9"/>
</g>
<g>
<line x1="1304.8" y1="411.9" x2="1354.2" y2="460.7" stroke="#000" stroke-width="5.2"/><polygon points="1388.4,494.4 1344.4,467.8 1361.2,450.7" fill="#000"/>
<line x1="1591.6" y1="410.5" x2="1640.1" y2="459.9" stroke="#000" stroke-width="5.2"/><polygon points="1673.7,494.1 1630.1,466.8 1647.2,450.0" fill="#000"/>
<line x1="1841.8" y1="417.1" x2="1812.1" y2="454.9" stroke="#000" stroke-width="5.2"/><polygon points="1782.4,492.6 1803.9,445.9 1822.7,460.7" fill="#000"/>
<line x1="1920.4" y1="913.6" x2="1978.7" y2="952.1" stroke="#000" stroke-width="5.2"/><polygon points="2018.7,978.6 1970.4,961.0 1983.6,941.0" fill="#000"/>
</g>
<rect x="131.0" y="23.5" width="1964.4" height="1582.0" fill="none" stroke="#000" stroke-width="7.6"/>
<g stroke="#000" stroke-width="7.4">
<line x1="131.0" y1="1605.5" x2="131.0" y2="1575.0"/>
<line x1="267.4" y1="1605.5" x2="267.4" y2="1591.0"/>
<line x1="403.8" y1="1605.5" x2="403.8" y2="1575.0"/>
<line x1="540.2" y1="1605.5" x2="540.2" y2="1591.0"/>
<line x1="676.7" y1="1605.5" x2="676.7" y2="1575.0"/>
<line x1="813.1" y1="1605.5" x2="813.1" y2="1591.0"/>
<line x1="949.5" y1="1605.5" x2="949.5" y2="1575.0"/>
<line x1="1085.9" y1="1605.5" x2="1085.9" y2="1591.0"/>
<line x1="1222.3" y1="1605.5" x2="1222.3" y2="1575.0"/>
<line x1="1358.8" y1="1605.5" x2="1358.8" y2="1591.0"/>
<line x1="1495.2" y1="1605.5" x2="1495.2" y2="1575.0"/>
<line x1="1631.6" y1="1605.5" x2="1631.6" y2="1591.0"/>
<line x1="1768.0" y1="1605.5" x2="1768.0" y2="1575.0"/>
<line x1="1904.4" y1="1605.5" x2="1904.4" y2="1591.0"/>
<line x1="2040.8" y1="1605.5" x2="2040.8" y2="1575.0"/>
</g>
<g font-size="75.5">
<text x="63.6" y="1696">4000</text>
<text x="339.9" y="1696">3500</text>
<text x="609.9" y="1696">3000</text>
<text x="882.9" y="1696">2500</text>
<text x="1155.0" y="1696">2000</text>
<text x="1983.4" y="1696">500</text>
<text y="1696"><tspan x="1433.6">1</tspan><tspan x="1466.3">500</tspan></text>
<text y="1696"><tspan x="1701.2">1</tspan><tspan x="1737.4">000</tspan></text>
</g>
<g font-size="60">
<text x="1204.7" y="399.9">1700</text>
<text y="401"><tspan x="1574.2" textLength="24" lengthAdjust="spacingAndGlyphs">1</tspan><tspan x="1596.4" textLength="24" lengthAdjust="spacingAndGlyphs">1</tspan><tspan x="1621.9">73</tspan></text>
<text x="1838.5" y="414.1">1032</text>
<text x="1822.5" y="937.2">483</text>
</g>
<g stroke-width="7.4" stroke-linecap="round">
<line x1="262.1" y1="81.3" x2="380.5" y2="81.3" stroke="#E8711C"/>
<line x1="797.5" y1="81.3" x2="914.8" y2="81.3" stroke="#EF3B3E"/>
<line x1="1317.5" y1="81.3" x2="1434.8" y2="81.3" stroke="#1A6FDF"/>
<line x1="262.1" y1="173.6" x2="380.5" y2="173.6" stroke="#2EAA62"/>
<line x1="797.5" y1="173.6" x2="914.8" y2="173.6" stroke="#AE6EDE"/>
<line x1="1317.5" y1="173.6" x2="1434.8" y2="173.6" stroke="#CC9900"/>
<line x1="1837.5" y1="173.6" x2="1956.9" y2="173.6" stroke="#00C8C8"/>
</g>
<g font-size="60">
<text x="409.0" y="102.6">3% g-C<tspan dy="15.6">3</tspan><tspan dy="-15.6">N</tspan><tspan dy="15.6">4</tspan></text>
<text x="930.0" y="102.6">4% g-C<tspan dy="15.6">3</tspan><tspan dy="-15.6">N</tspan><tspan dy="15.6">4</tspan></text>
<text x="1450.6" y="102.6">5% g-C<tspan dy="15.6">3</tspan><tspan dy="-15.6">N</tspan><tspan dy="15.6">4</tspan></text>
<text x="409.0" y="194.2">3% nano-TiO<tspan dy="15.6">2</tspan></text>
<text x="930.0" y="194.2">4% nano-TiO<tspan dy="15.6">2</tspan></text>
<text x="1450.6" y="194.2">5% nano-TiO<tspan dy="15.6">2</tspan></text>
<text x="1969.1" y="194.2">BA</text>
</g>
<text class="b" font-size="89.2" x="732.9" y="1846.5">Wavenumber(cm<tspan font-size="61" dy="-36.6">−1</tspan><tspan dy="36.6">)</tspan></text>
<text class="b" font-size="89.7" transform="translate(86.5 1149.5) rotate(-90)">Absorbance(%)</text>
</g>
</svg></body></html>
